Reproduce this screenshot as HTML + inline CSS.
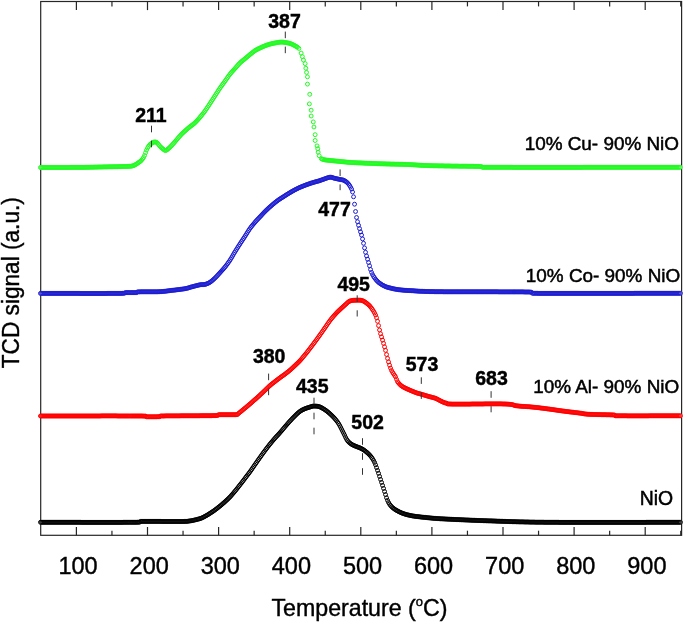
<!DOCTYPE html>
<html><head><meta charset="utf-8"><style>
html,body{margin:0;padding:0;background:#fff;overflow:hidden;}
svg{display:block;}
text{-webkit-font-smoothing:antialiased;}
text{font-family:"Liberation Sans",sans-serif;}
</style></head><body>
<svg width="685" height="622" viewBox="0 0 685 622" style="will-change:transform">
<rect width="685" height="622" fill="#fff"/>
<g stroke="#262626" stroke-width="1.2" fill="none">
<rect x="40.7" y="1.5" width="640.9" height="533.8"/>
<line x1="76.40" y1="535.3" x2="76.40" y2="527.0"/><line x1="76.40" y1="1.5" x2="76.40" y2="10.1"/><line x1="111.95" y1="535.3" x2="111.95" y2="530.7"/><line x1="111.95" y1="1.5" x2="111.95" y2="6.4"/><line x1="147.50" y1="535.3" x2="147.50" y2="527.0"/><line x1="147.50" y1="1.5" x2="147.50" y2="10.1"/><line x1="183.05" y1="535.3" x2="183.05" y2="530.7"/><line x1="183.05" y1="1.5" x2="183.05" y2="6.4"/><line x1="218.60" y1="535.3" x2="218.60" y2="527.0"/><line x1="218.60" y1="1.5" x2="218.60" y2="10.1"/><line x1="254.15" y1="535.3" x2="254.15" y2="530.7"/><line x1="254.15" y1="1.5" x2="254.15" y2="6.4"/><line x1="289.70" y1="535.3" x2="289.70" y2="527.0"/><line x1="289.70" y1="1.5" x2="289.70" y2="10.1"/><line x1="325.25" y1="535.3" x2="325.25" y2="530.7"/><line x1="325.25" y1="1.5" x2="325.25" y2="6.4"/><line x1="360.80" y1="535.3" x2="360.80" y2="527.0"/><line x1="360.80" y1="1.5" x2="360.80" y2="10.1"/><line x1="396.35" y1="535.3" x2="396.35" y2="530.7"/><line x1="396.35" y1="1.5" x2="396.35" y2="6.4"/><line x1="431.90" y1="535.3" x2="431.90" y2="527.0"/><line x1="431.90" y1="1.5" x2="431.90" y2="10.1"/><line x1="467.45" y1="535.3" x2="467.45" y2="530.7"/><line x1="467.45" y1="1.5" x2="467.45" y2="6.4"/><line x1="503.00" y1="535.3" x2="503.00" y2="527.0"/><line x1="503.00" y1="1.5" x2="503.00" y2="10.1"/><line x1="538.55" y1="535.3" x2="538.55" y2="530.7"/><line x1="538.55" y1="1.5" x2="538.55" y2="6.4"/><line x1="574.10" y1="535.3" x2="574.10" y2="527.0"/><line x1="574.10" y1="1.5" x2="574.10" y2="10.1"/><line x1="609.65" y1="535.3" x2="609.65" y2="530.7"/><line x1="609.65" y1="1.5" x2="609.65" y2="6.4"/><line x1="645.20" y1="535.3" x2="645.20" y2="527.0"/><line x1="645.20" y1="1.5" x2="645.20" y2="10.1"/><line x1="680.75" y1="535.3" x2="680.75" y2="530.7"/><line x1="680.75" y1="1.5" x2="680.75" y2="6.4"/>
</g>
<g fill="#fff">
<path d="M38.5,167.5a1.95,1.95 0 1 0 3.9,0a1.95,1.95 0 1 0 -3.9,0M39.5,167.5a1.95,1.95 0 1 0 3.9,0a1.95,1.95 0 1 0 -3.9,0M40.5,167.5a1.95,1.95 0 1 0 3.9,0a1.95,1.95 0 1 0 -3.9,0M41.5,167.5a1.95,1.95 0 1 0 3.9,0a1.95,1.95 0 1 0 -3.9,0M42.5,167.5a1.95,1.95 0 1 0 3.9,0a1.95,1.95 0 1 0 -3.9,0M43.5,167.5a1.95,1.95 0 1 0 3.9,0a1.95,1.95 0 1 0 -3.9,0M44.5,167.5a1.95,1.95 0 1 0 3.9,0a1.95,1.95 0 1 0 -3.9,0M45.5,167.5a1.95,1.95 0 1 0 3.9,0a1.95,1.95 0 1 0 -3.9,0M46.5,167.5a1.95,1.95 0 1 0 3.9,0a1.95,1.95 0 1 0 -3.9,0M47.5,167.5a1.95,1.95 0 1 0 3.9,0a1.95,1.95 0 1 0 -3.9,0M48.5,167.5a1.95,1.95 0 1 0 3.9,0a1.95,1.95 0 1 0 -3.9,0M49.5,167.5a1.95,1.95 0 1 0 3.9,0a1.95,1.95 0 1 0 -3.9,0M50.5,167.5a1.95,1.95 0 1 0 3.9,0a1.95,1.95 0 1 0 -3.9,0M51.5,167.5a1.95,1.95 0 1 0 3.9,0a1.95,1.95 0 1 0 -3.9,0M52.5,167.5a1.95,1.95 0 1 0 3.9,0a1.95,1.95 0 1 0 -3.9,0M53.5,167.5a1.95,1.95 0 1 0 3.9,0a1.95,1.95 0 1 0 -3.9,0M54.5,167.5a1.95,1.95 0 1 0 3.9,0a1.95,1.95 0 1 0 -3.9,0M55.5,167.5a1.95,1.95 0 1 0 3.9,0a1.95,1.95 0 1 0 -3.9,0M56.5,167.5a1.95,1.95 0 1 0 3.9,0a1.95,1.95 0 1 0 -3.9,0M57.5,167.5a1.95,1.95 0 1 0 3.9,0a1.95,1.95 0 1 0 -3.9,0M58.5,167.5a1.95,1.95 0 1 0 3.9,0a1.95,1.95 0 1 0 -3.9,0M59.5,167.5a1.95,1.95 0 1 0 3.9,0a1.95,1.95 0 1 0 -3.9,0M60.5,167.5a1.95,1.95 0 1 0 3.9,0a1.95,1.95 0 1 0 -3.9,0M61.5,167.5a1.95,1.95 0 1 0 3.9,0a1.95,1.95 0 1 0 -3.9,0M62.5,167.5a1.95,1.95 0 1 0 3.9,0a1.95,1.95 0 1 0 -3.9,0M63.5,167.5a1.95,1.95 0 1 0 3.9,0a1.95,1.95 0 1 0 -3.9,0M64.5,167.5a1.95,1.95 0 1 0 3.9,0a1.95,1.95 0 1 0 -3.9,0M65.5,167.5a1.95,1.95 0 1 0 3.9,0a1.95,1.95 0 1 0 -3.9,0M66.5,167.5a1.95,1.95 0 1 0 3.9,0a1.95,1.95 0 1 0 -3.9,0M67.5,167.5a1.95,1.95 0 1 0 3.9,0a1.95,1.95 0 1 0 -3.9,0M68.5,167.4a1.95,1.95 0 1 0 3.9,0a1.95,1.95 0 1 0 -3.9,0M69.5,167.4a1.95,1.95 0 1 0 3.9,0a1.95,1.95 0 1 0 -3.9,0M70.5,167.4a1.95,1.95 0 1 0 3.9,0a1.95,1.95 0 1 0 -3.9,0M71.5,167.4a1.95,1.95 0 1 0 3.9,0a1.95,1.95 0 1 0 -3.9,0M72.5,167.4a1.95,1.95 0 1 0 3.9,0a1.95,1.95 0 1 0 -3.9,0M73.5,167.4a1.95,1.95 0 1 0 3.9,0a1.95,1.95 0 1 0 -3.9,0M74.5,167.4a1.95,1.95 0 1 0 3.9,0a1.95,1.95 0 1 0 -3.9,0M75.5,167.4a1.95,1.95 0 1 0 3.9,0a1.95,1.95 0 1 0 -3.9,0M76.5,167.4a1.95,1.95 0 1 0 3.9,0a1.95,1.95 0 1 0 -3.9,0M77.5,167.4a1.95,1.95 0 1 0 3.9,0a1.95,1.95 0 1 0 -3.9,0M78.5,167.4a1.95,1.95 0 1 0 3.9,0a1.95,1.95 0 1 0 -3.9,0M79.5,167.4a1.95,1.95 0 1 0 3.9,0a1.95,1.95 0 1 0 -3.9,0M80.5,167.4a1.95,1.95 0 1 0 3.9,0a1.95,1.95 0 1 0 -3.9,0M81.5,167.4a1.95,1.95 0 1 0 3.9,0a1.95,1.95 0 1 0 -3.9,0M82.5,167.4a1.95,1.95 0 1 0 3.9,0a1.95,1.95 0 1 0 -3.9,0M83.5,167.3a1.95,1.95 0 1 0 3.9,0a1.95,1.95 0 1 0 -3.9,0M84.5,167.3a1.95,1.95 0 1 0 3.9,0a1.95,1.95 0 1 0 -3.9,0M85.5,167.3a1.95,1.95 0 1 0 3.9,0a1.95,1.95 0 1 0 -3.9,0M86.5,167.3a1.95,1.95 0 1 0 3.9,0a1.95,1.95 0 1 0 -3.9,0M87.5,167.3a1.95,1.95 0 1 0 3.9,0a1.95,1.95 0 1 0 -3.9,0M88.5,167.2a1.95,1.95 0 1 0 3.9,0a1.95,1.95 0 1 0 -3.9,0M89.5,167.2a1.95,1.95 0 1 0 3.9,0a1.95,1.95 0 1 0 -3.9,0M90.5,167.2a1.95,1.95 0 1 0 3.9,0a1.95,1.95 0 1 0 -3.9,0M91.5,167.2a1.95,1.95 0 1 0 3.9,0a1.95,1.95 0 1 0 -3.9,0M92.5,167.1a1.95,1.95 0 1 0 3.9,0a1.95,1.95 0 1 0 -3.9,0M93.5,167.1a1.95,1.95 0 1 0 3.9,0a1.95,1.95 0 1 0 -3.9,0M94.5,167.1a1.95,1.95 0 1 0 3.9,0a1.95,1.95 0 1 0 -3.9,0M95.5,167.1a1.95,1.95 0 1 0 3.9,0a1.95,1.95 0 1 0 -3.9,0M96.5,167.0a1.95,1.95 0 1 0 3.9,0a1.95,1.95 0 1 0 -3.9,0M97.5,167.0a1.95,1.95 0 1 0 3.9,0a1.95,1.95 0 1 0 -3.9,0M98.5,167.0a1.95,1.95 0 1 0 3.9,0a1.95,1.95 0 1 0 -3.9,0M99.5,167.0a1.95,1.95 0 1 0 3.9,0a1.95,1.95 0 1 0 -3.9,0M100.5,167.0a1.95,1.95 0 1 0 3.9,0a1.95,1.95 0 1 0 -3.9,0M101.5,166.9a1.95,1.95 0 1 0 3.9,0a1.95,1.95 0 1 0 -3.9,0M102.5,166.9a1.95,1.95 0 1 0 3.9,0a1.95,1.95 0 1 0 -3.9,0M103.5,166.9a1.95,1.95 0 1 0 3.9,0a1.95,1.95 0 1 0 -3.9,0M104.5,166.9a1.95,1.95 0 1 0 3.9,0a1.95,1.95 0 1 0 -3.9,0M105.5,166.9a1.95,1.95 0 1 0 3.9,0a1.95,1.95 0 1 0 -3.9,0M106.5,166.8a1.95,1.95 0 1 0 3.9,0a1.95,1.95 0 1 0 -3.9,0M107.5,166.8a1.95,1.95 0 1 0 3.9,0a1.95,1.95 0 1 0 -3.9,0M108.5,166.8a1.95,1.95 0 1 0 3.9,0a1.95,1.95 0 1 0 -3.9,0M109.5,166.8a1.95,1.95 0 1 0 3.9,0a1.95,1.95 0 1 0 -3.9,0M110.5,166.8a1.95,1.95 0 1 0 3.9,0a1.95,1.95 0 1 0 -3.9,0M111.5,166.7a1.95,1.95 0 1 0 3.9,0a1.95,1.95 0 1 0 -3.9,0M112.5,166.7a1.95,1.95 0 1 0 3.9,0a1.95,1.95 0 1 0 -3.9,0M113.5,166.7a1.95,1.95 0 1 0 3.9,0a1.95,1.95 0 1 0 -3.9,0M114.5,166.7a1.95,1.95 0 1 0 3.9,0a1.95,1.95 0 1 0 -3.9,0M115.5,166.7a1.95,1.95 0 1 0 3.9,0a1.95,1.95 0 1 0 -3.9,0M116.5,166.6a1.95,1.95 0 1 0 3.9,0a1.95,1.95 0 1 0 -3.9,0M117.5,166.6a1.95,1.95 0 1 0 3.9,0a1.95,1.95 0 1 0 -3.9,0M118.5,166.6a1.95,1.95 0 1 0 3.9,0a1.95,1.95 0 1 0 -3.9,0M119.5,166.6a1.95,1.95 0 1 0 3.9,0a1.95,1.95 0 1 0 -3.9,0M120.5,166.5a1.95,1.95 0 1 0 3.9,0a1.95,1.95 0 1 0 -3.9,0M121.5,166.5a1.95,1.95 0 1 0 3.9,0a1.95,1.95 0 1 0 -3.9,0M122.5,166.5a1.95,1.95 0 1 0 3.9,0a1.95,1.95 0 1 0 -3.9,0M123.5,166.5a1.95,1.95 0 1 0 3.9,0a1.95,1.95 0 1 0 -3.9,0M124.5,166.5a1.95,1.95 0 1 0 3.9,0a1.95,1.95 0 1 0 -3.9,0M125.5,166.4a1.95,1.95 0 1 0 3.9,0a1.95,1.95 0 1 0 -3.9,0M126.5,166.4a1.95,1.95 0 1 0 3.9,0a1.95,1.95 0 1 0 -3.9,0M127.5,166.3a1.95,1.95 0 1 0 3.9,0a1.95,1.95 0 1 0 -3.9,0M128.6,166.3a1.95,1.95 0 1 0 3.9,0a1.95,1.95 0 1 0 -3.9,0M129.6,166.1a1.95,1.95 0 1 0 3.9,0a1.95,1.95 0 1 0 -3.9,0M130.6,165.9a1.95,1.95 0 1 0 3.9,0a1.95,1.95 0 1 0 -3.9,0M131.6,165.6a1.95,1.95 0 1 0 3.9,0a1.95,1.95 0 1 0 -3.9,0M132.6,165.1a1.95,1.95 0 1 0 3.9,0a1.95,1.95 0 1 0 -3.9,0M133.6,164.6a1.95,1.95 0 1 0 3.9,0a1.95,1.95 0 1 0 -3.9,0M134.6,164.0a1.95,1.95 0 1 0 3.9,0a1.95,1.95 0 1 0 -3.9,0M135.6,163.3a1.95,1.95 0 1 0 3.9,0a1.95,1.95 0 1 0 -3.9,0M136.6,162.6a1.95,1.95 0 1 0 3.9,0a1.95,1.95 0 1 0 -3.9,0M137.6,161.9a1.95,1.95 0 1 0 3.9,0a1.95,1.95 0 1 0 -3.9,0M138.6,161.2a1.95,1.95 0 1 0 3.9,0a1.95,1.95 0 1 0 -3.9,0M139.6,160.2a1.95,1.95 0 1 0 3.9,0a1.95,1.95 0 1 0 -3.9,0M140.6,159.0a1.95,1.95 0 1 0 3.9,0a1.95,1.95 0 1 0 -3.9,0M141.6,157.5a1.95,1.95 0 1 0 3.9,0a1.95,1.95 0 1 0 -3.9,0M142.6,155.5a1.95,1.95 0 1 0 3.9,0a1.95,1.95 0 1 0 -3.9,0M143.6,152.7a1.95,1.95 0 1 0 3.9,0a1.95,1.95 0 1 0 -3.9,0M144.6,150.1a1.95,1.95 0 1 0 3.9,0a1.95,1.95 0 1 0 -3.9,0M145.6,147.9a1.95,1.95 0 1 0 3.9,0a1.95,1.95 0 1 0 -3.9,0M146.6,146.3a1.95,1.95 0 1 0 3.9,0a1.95,1.95 0 1 0 -3.9,0M147.6,145.0a1.95,1.95 0 1 0 3.9,0a1.95,1.95 0 1 0 -3.9,0M148.6,144.0a1.95,1.95 0 1 0 3.9,0a1.95,1.95 0 1 0 -3.9,0M149.6,143.3a1.95,1.95 0 1 0 3.9,0a1.95,1.95 0 1 0 -3.9,0M150.6,142.7a1.95,1.95 0 1 0 3.9,0a1.95,1.95 0 1 0 -3.9,0M151.6,142.2a1.95,1.95 0 1 0 3.9,0a1.95,1.95 0 1 0 -3.9,0M152.6,142.0a1.95,1.95 0 1 0 3.9,0a1.95,1.95 0 1 0 -3.9,0M153.6,142.0a1.95,1.95 0 1 0 3.9,0a1.95,1.95 0 1 0 -3.9,0M154.6,142.4a1.95,1.95 0 1 0 3.9,0a1.95,1.95 0 1 0 -3.9,0M155.6,143.2a1.95,1.95 0 1 0 3.9,0a1.95,1.95 0 1 0 -3.9,0M156.6,144.5a1.95,1.95 0 1 0 3.9,0a1.95,1.95 0 1 0 -3.9,0M157.6,145.8a1.95,1.95 0 1 0 3.9,0a1.95,1.95 0 1 0 -3.9,0M158.6,146.8a1.95,1.95 0 1 0 3.9,0a1.95,1.95 0 1 0 -3.9,0M159.6,147.8a1.95,1.95 0 1 0 3.9,0a1.95,1.95 0 1 0 -3.9,0M160.6,148.6a1.95,1.95 0 1 0 3.9,0a1.95,1.95 0 1 0 -3.9,0M161.6,149.4a1.95,1.95 0 1 0 3.9,0a1.95,1.95 0 1 0 -3.9,0M162.6,150.2a1.95,1.95 0 1 0 3.9,0a1.95,1.95 0 1 0 -3.9,0M163.6,150.5a1.95,1.95 0 1 0 3.9,0a1.95,1.95 0 1 0 -3.9,0M164.6,150.1a1.95,1.95 0 1 0 3.9,0a1.95,1.95 0 1 0 -3.9,0M165.6,149.4a1.95,1.95 0 1 0 3.9,0a1.95,1.95 0 1 0 -3.9,0M166.6,148.5a1.95,1.95 0 1 0 3.9,0a1.95,1.95 0 1 0 -3.9,0M167.6,147.6a1.95,1.95 0 1 0 3.9,0a1.95,1.95 0 1 0 -3.9,0M168.6,146.6a1.95,1.95 0 1 0 3.9,0a1.95,1.95 0 1 0 -3.9,0M169.6,145.6a1.95,1.95 0 1 0 3.9,0a1.95,1.95 0 1 0 -3.9,0M170.6,144.5a1.95,1.95 0 1 0 3.9,0a1.95,1.95 0 1 0 -3.9,0M171.6,143.4a1.95,1.95 0 1 0 3.9,0a1.95,1.95 0 1 0 -3.9,0M172.6,142.3a1.95,1.95 0 1 0 3.9,0a1.95,1.95 0 1 0 -3.9,0M173.6,141.1a1.95,1.95 0 1 0 3.9,0a1.95,1.95 0 1 0 -3.9,0M174.6,139.9a1.95,1.95 0 1 0 3.9,0a1.95,1.95 0 1 0 -3.9,0M175.6,138.7a1.95,1.95 0 1 0 3.9,0a1.95,1.95 0 1 0 -3.9,0M176.6,137.5a1.95,1.95 0 1 0 3.9,0a1.95,1.95 0 1 0 -3.9,0M177.6,136.4a1.95,1.95 0 1 0 3.9,0a1.95,1.95 0 1 0 -3.9,0M178.6,135.3a1.95,1.95 0 1 0 3.9,0a1.95,1.95 0 1 0 -3.9,0M179.6,134.2a1.95,1.95 0 1 0 3.9,0a1.95,1.95 0 1 0 -3.9,0M180.6,133.2a1.95,1.95 0 1 0 3.9,0a1.95,1.95 0 1 0 -3.9,0M181.6,132.3a1.95,1.95 0 1 0 3.9,0a1.95,1.95 0 1 0 -3.9,0M182.6,131.4a1.95,1.95 0 1 0 3.9,0a1.95,1.95 0 1 0 -3.9,0M183.6,130.5a1.95,1.95 0 1 0 3.9,0a1.95,1.95 0 1 0 -3.9,0M184.6,129.6a1.95,1.95 0 1 0 3.9,0a1.95,1.95 0 1 0 -3.9,0M185.6,128.7a1.95,1.95 0 1 0 3.9,0a1.95,1.95 0 1 0 -3.9,0M186.6,127.9a1.95,1.95 0 1 0 3.9,0a1.95,1.95 0 1 0 -3.9,0M187.6,127.1a1.95,1.95 0 1 0 3.9,0a1.95,1.95 0 1 0 -3.9,0M188.6,126.3a1.95,1.95 0 1 0 3.9,0a1.95,1.95 0 1 0 -3.9,0M189.6,125.5a1.95,1.95 0 1 0 3.9,0a1.95,1.95 0 1 0 -3.9,0M190.6,124.8a1.95,1.95 0 1 0 3.9,0a1.95,1.95 0 1 0 -3.9,0M191.6,124.0a1.95,1.95 0 1 0 3.9,0a1.95,1.95 0 1 0 -3.9,0M192.6,123.2a1.95,1.95 0 1 0 3.9,0a1.95,1.95 0 1 0 -3.9,0M193.6,122.2a1.95,1.95 0 1 0 3.9,0a1.95,1.95 0 1 0 -3.9,0M194.6,121.2a1.95,1.95 0 1 0 3.9,0a1.95,1.95 0 1 0 -3.9,0M195.6,120.1a1.95,1.95 0 1 0 3.9,0a1.95,1.95 0 1 0 -3.9,0M196.6,119.0a1.95,1.95 0 1 0 3.9,0a1.95,1.95 0 1 0 -3.9,0M197.6,117.8a1.95,1.95 0 1 0 3.9,0a1.95,1.95 0 1 0 -3.9,0M198.6,116.6a1.95,1.95 0 1 0 3.9,0a1.95,1.95 0 1 0 -3.9,0M199.6,115.4a1.95,1.95 0 1 0 3.9,0a1.95,1.95 0 1 0 -3.9,0M200.6,114.2a1.95,1.95 0 1 0 3.9,0a1.95,1.95 0 1 0 -3.9,0M201.6,112.9a1.95,1.95 0 1 0 3.9,0a1.95,1.95 0 1 0 -3.9,0M202.6,111.6a1.95,1.95 0 1 0 3.9,0a1.95,1.95 0 1 0 -3.9,0M203.6,110.2a1.95,1.95 0 1 0 3.9,0a1.95,1.95 0 1 0 -3.9,0M204.6,108.7a1.95,1.95 0 1 0 3.9,0a1.95,1.95 0 1 0 -3.9,0M205.6,107.2a1.95,1.95 0 1 0 3.9,0a1.95,1.95 0 1 0 -3.9,0M206.6,105.7a1.95,1.95 0 1 0 3.9,0a1.95,1.95 0 1 0 -3.9,0M207.6,104.2a1.95,1.95 0 1 0 3.9,0a1.95,1.95 0 1 0 -3.9,0M208.6,102.6a1.95,1.95 0 1 0 3.9,0a1.95,1.95 0 1 0 -3.9,0M209.6,101.1a1.95,1.95 0 1 0 3.9,0a1.95,1.95 0 1 0 -3.9,0M210.6,99.6a1.95,1.95 0 1 0 3.9,0a1.95,1.95 0 1 0 -3.9,0M211.6,98.0a1.95,1.95 0 1 0 3.9,0a1.95,1.95 0 1 0 -3.9,0M212.6,96.5a1.95,1.95 0 1 0 3.9,0a1.95,1.95 0 1 0 -3.9,0M213.6,94.9a1.95,1.95 0 1 0 3.9,0a1.95,1.95 0 1 0 -3.9,0M214.6,93.4a1.95,1.95 0 1 0 3.9,0a1.95,1.95 0 1 0 -3.9,0M215.6,91.8a1.95,1.95 0 1 0 3.9,0a1.95,1.95 0 1 0 -3.9,0M216.6,90.3a1.95,1.95 0 1 0 3.9,0a1.95,1.95 0 1 0 -3.9,0M217.6,88.7a1.95,1.95 0 1 0 3.9,0a1.95,1.95 0 1 0 -3.9,0M218.6,87.3a1.95,1.95 0 1 0 3.9,0a1.95,1.95 0 1 0 -3.9,0M219.6,85.9a1.95,1.95 0 1 0 3.9,0a1.95,1.95 0 1 0 -3.9,0M220.6,84.5a1.95,1.95 0 1 0 3.9,0a1.95,1.95 0 1 0 -3.9,0M221.6,83.2a1.95,1.95 0 1 0 3.9,0a1.95,1.95 0 1 0 -3.9,0M222.6,81.8a1.95,1.95 0 1 0 3.9,0a1.95,1.95 0 1 0 -3.9,0M223.6,80.4a1.95,1.95 0 1 0 3.9,0a1.95,1.95 0 1 0 -3.9,0M224.6,79.0a1.95,1.95 0 1 0 3.9,0a1.95,1.95 0 1 0 -3.9,0M225.6,77.5a1.95,1.95 0 1 0 3.9,0a1.95,1.95 0 1 0 -3.9,0M226.6,76.1a1.95,1.95 0 1 0 3.9,0a1.95,1.95 0 1 0 -3.9,0M227.6,74.7a1.95,1.95 0 1 0 3.9,0a1.95,1.95 0 1 0 -3.9,0M228.6,73.5a1.95,1.95 0 1 0 3.9,0a1.95,1.95 0 1 0 -3.9,0M229.6,72.3a1.95,1.95 0 1 0 3.9,0a1.95,1.95 0 1 0 -3.9,0M230.6,71.2a1.95,1.95 0 1 0 3.9,0a1.95,1.95 0 1 0 -3.9,0M231.6,70.1a1.95,1.95 0 1 0 3.9,0a1.95,1.95 0 1 0 -3.9,0M232.6,69.0a1.95,1.95 0 1 0 3.9,0a1.95,1.95 0 1 0 -3.9,0M233.6,67.8a1.95,1.95 0 1 0 3.9,0a1.95,1.95 0 1 0 -3.9,0M234.6,66.7a1.95,1.95 0 1 0 3.9,0a1.95,1.95 0 1 0 -3.9,0M235.6,65.6a1.95,1.95 0 1 0 3.9,0a1.95,1.95 0 1 0 -3.9,0M236.6,64.4a1.95,1.95 0 1 0 3.9,0a1.95,1.95 0 1 0 -3.9,0M237.6,63.4a1.95,1.95 0 1 0 3.9,0a1.95,1.95 0 1 0 -3.9,0M238.6,62.4a1.95,1.95 0 1 0 3.9,0a1.95,1.95 0 1 0 -3.9,0M239.6,61.5a1.95,1.95 0 1 0 3.9,0a1.95,1.95 0 1 0 -3.9,0M240.6,60.7a1.95,1.95 0 1 0 3.9,0a1.95,1.95 0 1 0 -3.9,0M241.6,59.9a1.95,1.95 0 1 0 3.9,0a1.95,1.95 0 1 0 -3.9,0M242.6,59.1a1.95,1.95 0 1 0 3.9,0a1.95,1.95 0 1 0 -3.9,0M243.6,58.3a1.95,1.95 0 1 0 3.9,0a1.95,1.95 0 1 0 -3.9,0M244.6,57.4a1.95,1.95 0 1 0 3.9,0a1.95,1.95 0 1 0 -3.9,0M245.6,56.6a1.95,1.95 0 1 0 3.9,0a1.95,1.95 0 1 0 -3.9,0M246.6,55.7a1.95,1.95 0 1 0 3.9,0a1.95,1.95 0 1 0 -3.9,0M247.6,54.9a1.95,1.95 0 1 0 3.9,0a1.95,1.95 0 1 0 -3.9,0M248.6,54.1a1.95,1.95 0 1 0 3.9,0a1.95,1.95 0 1 0 -3.9,0M249.6,53.3a1.95,1.95 0 1 0 3.9,0a1.95,1.95 0 1 0 -3.9,0M250.6,52.5a1.95,1.95 0 1 0 3.9,0a1.95,1.95 0 1 0 -3.9,0M251.6,51.7a1.95,1.95 0 1 0 3.9,0a1.95,1.95 0 1 0 -3.9,0M252.6,50.9a1.95,1.95 0 1 0 3.9,0a1.95,1.95 0 1 0 -3.9,0M253.6,50.3a1.95,1.95 0 1 0 3.9,0a1.95,1.95 0 1 0 -3.9,0M254.6,49.7a1.95,1.95 0 1 0 3.9,0a1.95,1.95 0 1 0 -3.9,0M255.6,49.2a1.95,1.95 0 1 0 3.9,0a1.95,1.95 0 1 0 -3.9,0M256.6,48.7a1.95,1.95 0 1 0 3.9,0a1.95,1.95 0 1 0 -3.9,0M257.6,48.2a1.95,1.95 0 1 0 3.9,0a1.95,1.95 0 1 0 -3.9,0M258.6,47.8a1.95,1.95 0 1 0 3.9,0a1.95,1.95 0 1 0 -3.9,0M259.6,47.3a1.95,1.95 0 1 0 3.9,0a1.95,1.95 0 1 0 -3.9,0M260.6,46.8a1.95,1.95 0 1 0 3.9,0a1.95,1.95 0 1 0 -3.9,0M261.6,46.4a1.95,1.95 0 1 0 3.9,0a1.95,1.95 0 1 0 -3.9,0M262.6,46.0a1.95,1.95 0 1 0 3.9,0a1.95,1.95 0 1 0 -3.9,0M263.6,45.6a1.95,1.95 0 1 0 3.9,0a1.95,1.95 0 1 0 -3.9,0M264.6,45.2a1.95,1.95 0 1 0 3.9,0a1.95,1.95 0 1 0 -3.9,0M265.6,44.9a1.95,1.95 0 1 0 3.9,0a1.95,1.95 0 1 0 -3.9,0M266.6,44.6a1.95,1.95 0 1 0 3.9,0a1.95,1.95 0 1 0 -3.9,0M267.6,44.2a1.95,1.95 0 1 0 3.9,0a1.95,1.95 0 1 0 -3.9,0M268.6,44.0a1.95,1.95 0 1 0 3.9,0a1.95,1.95 0 1 0 -3.9,0M269.6,43.7a1.95,1.95 0 1 0 3.9,0a1.95,1.95 0 1 0 -3.9,0M270.6,43.5a1.95,1.95 0 1 0 3.9,0a1.95,1.95 0 1 0 -3.9,0M271.6,43.3a1.95,1.95 0 1 0 3.9,0a1.95,1.95 0 1 0 -3.9,0M272.6,43.1a1.95,1.95 0 1 0 3.9,0a1.95,1.95 0 1 0 -3.9,0M273.6,42.9a1.95,1.95 0 1 0 3.9,0a1.95,1.95 0 1 0 -3.9,0M274.6,42.7a1.95,1.95 0 1 0 3.9,0a1.95,1.95 0 1 0 -3.9,0M275.6,42.5a1.95,1.95 0 1 0 3.9,0a1.95,1.95 0 1 0 -3.9,0M276.6,42.4a1.95,1.95 0 1 0 3.9,0a1.95,1.95 0 1 0 -3.9,0M277.6,42.2a1.95,1.95 0 1 0 3.9,0a1.95,1.95 0 1 0 -3.9,0M278.6,42.1a1.95,1.95 0 1 0 3.9,0a1.95,1.95 0 1 0 -3.9,0M279.6,42.1a1.95,1.95 0 1 0 3.9,0a1.95,1.95 0 1 0 -3.9,0M280.6,42.1a1.95,1.95 0 1 0 3.9,0a1.95,1.95 0 1 0 -3.9,0M281.6,42.2a1.95,1.95 0 1 0 3.9,0a1.95,1.95 0 1 0 -3.9,0M282.6,42.4a1.95,1.95 0 1 0 3.9,0a1.95,1.95 0 1 0 -3.9,0M283.6,42.5a1.95,1.95 0 1 0 3.9,0a1.95,1.95 0 1 0 -3.9,0M284.6,42.7a1.95,1.95 0 1 0 3.9,0a1.95,1.95 0 1 0 -3.9,0M285.6,42.9a1.95,1.95 0 1 0 3.9,0a1.95,1.95 0 1 0 -3.9,0M286.6,43.1a1.95,1.95 0 1 0 3.9,0a1.95,1.95 0 1 0 -3.9,0M287.6,43.3a1.95,1.95 0 1 0 3.9,0a1.95,1.95 0 1 0 -3.9,0M288.6,43.7a1.95,1.95 0 1 0 3.9,0a1.95,1.95 0 1 0 -3.9,0M289.6,44.0a1.95,1.95 0 1 0 3.9,0a1.95,1.95 0 1 0 -3.9,0M290.6,44.5a1.95,1.95 0 1 0 3.9,0a1.95,1.95 0 1 0 -3.9,0M291.6,45.0a1.95,1.95 0 1 0 3.9,0a1.95,1.95 0 1 0 -3.9,0M292.6,45.5a1.95,1.95 0 1 0 3.9,0a1.95,1.95 0 1 0 -3.9,0M293.6,46.1a1.95,1.95 0 1 0 3.9,0a1.95,1.95 0 1 0 -3.9,0M294.6,46.7a1.95,1.95 0 1 0 3.9,0a1.95,1.95 0 1 0 -3.9,0M295.6,47.2a1.95,1.95 0 1 0 3.9,0a1.95,1.95 0 1 0 -3.9,0M296.9,48.4a1.95,1.95 0 1 0 3.9,0a1.95,1.95 0 1 0 -3.9,0M299.2,53.1a1.95,1.95 0 1 0 3.9,0a1.95,1.95 0 1 0 -3.9,0M300.4,56.6a1.95,1.95 0 1 0 3.9,0a1.95,1.95 0 1 0 -3.9,0M301.5,60.1a1.95,1.95 0 1 0 3.9,0a1.95,1.95 0 1 0 -3.9,0M303.2,63.6a1.95,1.95 0 1 0 3.9,0a1.95,1.95 0 1 0 -3.9,0M303.9,68.2a1.95,1.95 0 1 0 3.9,0a1.95,1.95 0 1 0 -3.9,0M304.6,72.4a1.95,1.95 0 1 0 3.9,0a1.95,1.95 0 1 0 -3.9,0M305.5,76.8a1.95,1.95 0 1 0 3.9,0a1.95,1.95 0 1 0 -3.9,0M305.5,84.1a1.95,1.95 0 1 0 3.9,0a1.95,1.95 0 1 0 -3.9,0M307.8,94.3a1.95,1.95 0 1 0 3.9,0a1.95,1.95 0 1 0 -3.9,0M307.4,103.9a1.95,1.95 0 1 0 3.9,0a1.95,1.95 0 1 0 -3.9,0M309.2,110.2a1.95,1.95 0 1 0 3.9,0a1.95,1.95 0 1 0 -3.9,0M309.2,116.0a1.95,1.95 0 1 0 3.9,0a1.95,1.95 0 1 0 -3.9,0M311.3,121.9a1.95,1.95 0 1 0 3.9,0a1.95,1.95 0 1 0 -3.9,0M312.0,127.0a1.95,1.95 0 1 0 3.9,0a1.95,1.95 0 1 0 -3.9,0M313.2,134.7a1.95,1.95 0 1 0 3.9,0a1.95,1.95 0 1 0 -3.9,0M313.2,140.5a1.95,1.95 0 1 0 3.9,0a1.95,1.95 0 1 0 -3.9,0M315.1,145.9a1.95,1.95 0 1 0 3.9,0a1.95,1.95 0 1 0 -3.9,0M315.8,148.7a1.95,1.95 0 1 0 3.9,0a1.95,1.95 0 1 0 -3.9,0M316.2,152.2a1.95,1.95 0 1 0 3.9,0a1.95,1.95 0 1 0 -3.9,0M317.2,155.7a1.95,1.95 0 1 0 3.9,0a1.95,1.95 0 1 0 -3.9,0M319.4,158.7a1.95,1.95 0 1 0 3.9,0a1.95,1.95 0 1 0 -3.9,0M320.4,159.2a1.95,1.95 0 1 0 3.9,0a1.95,1.95 0 1 0 -3.9,0M321.4,159.5a1.95,1.95 0 1 0 3.9,0a1.95,1.95 0 1 0 -3.9,0M322.4,159.8a1.95,1.95 0 1 0 3.9,0a1.95,1.95 0 1 0 -3.9,0M323.4,159.9a1.95,1.95 0 1 0 3.9,0a1.95,1.95 0 1 0 -3.9,0M324.4,160.1a1.95,1.95 0 1 0 3.9,0a1.95,1.95 0 1 0 -3.9,0M325.4,160.2a1.95,1.95 0 1 0 3.9,0a1.95,1.95 0 1 0 -3.9,0M326.4,160.3a1.95,1.95 0 1 0 3.9,0a1.95,1.95 0 1 0 -3.9,0M327.4,160.4a1.95,1.95 0 1 0 3.9,0a1.95,1.95 0 1 0 -3.9,0M328.4,160.5a1.95,1.95 0 1 0 3.9,0a1.95,1.95 0 1 0 -3.9,0M329.4,160.6a1.95,1.95 0 1 0 3.9,0a1.95,1.95 0 1 0 -3.9,0M330.4,160.7a1.95,1.95 0 1 0 3.9,0a1.95,1.95 0 1 0 -3.9,0M331.4,160.8a1.95,1.95 0 1 0 3.9,0a1.95,1.95 0 1 0 -3.9,0M332.4,160.9a1.95,1.95 0 1 0 3.9,0a1.95,1.95 0 1 0 -3.9,0M333.4,161.0a1.95,1.95 0 1 0 3.9,0a1.95,1.95 0 1 0 -3.9,0M334.4,161.1a1.95,1.95 0 1 0 3.9,0a1.95,1.95 0 1 0 -3.9,0M335.4,161.2a1.95,1.95 0 1 0 3.9,0a1.95,1.95 0 1 0 -3.9,0M336.4,161.3a1.95,1.95 0 1 0 3.9,0a1.95,1.95 0 1 0 -3.9,0M337.4,161.4a1.95,1.95 0 1 0 3.9,0a1.95,1.95 0 1 0 -3.9,0M338.4,161.5a1.95,1.95 0 1 0 3.9,0a1.95,1.95 0 1 0 -3.9,0M339.4,161.6a1.95,1.95 0 1 0 3.9,0a1.95,1.95 0 1 0 -3.9,0M340.4,161.7a1.95,1.95 0 1 0 3.9,0a1.95,1.95 0 1 0 -3.9,0M341.4,161.8a1.95,1.95 0 1 0 3.9,0a1.95,1.95 0 1 0 -3.9,0M342.4,161.9a1.95,1.95 0 1 0 3.9,0a1.95,1.95 0 1 0 -3.9,0M343.4,162.0a1.95,1.95 0 1 0 3.9,0a1.95,1.95 0 1 0 -3.9,0M344.4,162.1a1.95,1.95 0 1 0 3.9,0a1.95,1.95 0 1 0 -3.9,0M345.4,162.2a1.95,1.95 0 1 0 3.9,0a1.95,1.95 0 1 0 -3.9,0M346.4,162.3a1.95,1.95 0 1 0 3.9,0a1.95,1.95 0 1 0 -3.9,0M347.4,162.4a1.95,1.95 0 1 0 3.9,0a1.95,1.95 0 1 0 -3.9,0M348.4,162.4a1.95,1.95 0 1 0 3.9,0a1.95,1.95 0 1 0 -3.9,0M349.4,162.5a1.95,1.95 0 1 0 3.9,0a1.95,1.95 0 1 0 -3.9,0M350.4,162.6a1.95,1.95 0 1 0 3.9,0a1.95,1.95 0 1 0 -3.9,0M351.4,162.6a1.95,1.95 0 1 0 3.9,0a1.95,1.95 0 1 0 -3.9,0M352.4,162.7a1.95,1.95 0 1 0 3.9,0a1.95,1.95 0 1 0 -3.9,0M353.4,162.7a1.95,1.95 0 1 0 3.9,0a1.95,1.95 0 1 0 -3.9,0M354.4,162.8a1.95,1.95 0 1 0 3.9,0a1.95,1.95 0 1 0 -3.9,0M355.4,162.8a1.95,1.95 0 1 0 3.9,0a1.95,1.95 0 1 0 -3.9,0M356.4,162.9a1.95,1.95 0 1 0 3.9,0a1.95,1.95 0 1 0 -3.9,0M357.4,162.9a1.95,1.95 0 1 0 3.9,0a1.95,1.95 0 1 0 -3.9,0M358.4,162.9a1.95,1.95 0 1 0 3.9,0a1.95,1.95 0 1 0 -3.9,0M359.4,163.0a1.95,1.95 0 1 0 3.9,0a1.95,1.95 0 1 0 -3.9,0M360.4,163.0a1.95,1.95 0 1 0 3.9,0a1.95,1.95 0 1 0 -3.9,0M361.4,163.1a1.95,1.95 0 1 0 3.9,0a1.95,1.95 0 1 0 -3.9,0M362.4,163.1a1.95,1.95 0 1 0 3.9,0a1.95,1.95 0 1 0 -3.9,0M363.4,163.2a1.95,1.95 0 1 0 3.9,0a1.95,1.95 0 1 0 -3.9,0M364.4,163.2a1.95,1.95 0 1 0 3.9,0a1.95,1.95 0 1 0 -3.9,0M365.4,163.3a1.95,1.95 0 1 0 3.9,0a1.95,1.95 0 1 0 -3.9,0M366.4,163.3a1.95,1.95 0 1 0 3.9,0a1.95,1.95 0 1 0 -3.9,0M367.4,163.3a1.95,1.95 0 1 0 3.9,0a1.95,1.95 0 1 0 -3.9,0M368.4,163.4a1.95,1.95 0 1 0 3.9,0a1.95,1.95 0 1 0 -3.9,0M369.4,163.4a1.95,1.95 0 1 0 3.9,0a1.95,1.95 0 1 0 -3.9,0M370.4,163.5a1.95,1.95 0 1 0 3.9,0a1.95,1.95 0 1 0 -3.9,0M371.4,163.5a1.95,1.95 0 1 0 3.9,0a1.95,1.95 0 1 0 -3.9,0M372.4,163.5a1.95,1.95 0 1 0 3.9,0a1.95,1.95 0 1 0 -3.9,0M373.4,163.6a1.95,1.95 0 1 0 3.9,0a1.95,1.95 0 1 0 -3.9,0M374.4,163.6a1.95,1.95 0 1 0 3.9,0a1.95,1.95 0 1 0 -3.9,0M375.4,163.7a1.95,1.95 0 1 0 3.9,0a1.95,1.95 0 1 0 -3.9,0M376.4,163.7a1.95,1.95 0 1 0 3.9,0a1.95,1.95 0 1 0 -3.9,0M377.4,163.7a1.95,1.95 0 1 0 3.9,0a1.95,1.95 0 1 0 -3.9,0M378.4,163.8a1.95,1.95 0 1 0 3.9,0a1.95,1.95 0 1 0 -3.9,0M379.4,163.8a1.95,1.95 0 1 0 3.9,0a1.95,1.95 0 1 0 -3.9,0M380.4,163.8a1.95,1.95 0 1 0 3.9,0a1.95,1.95 0 1 0 -3.9,0M381.4,163.9a1.95,1.95 0 1 0 3.9,0a1.95,1.95 0 1 0 -3.9,0M382.4,163.9a1.95,1.95 0 1 0 3.9,0a1.95,1.95 0 1 0 -3.9,0M383.4,163.9a1.95,1.95 0 1 0 3.9,0a1.95,1.95 0 1 0 -3.9,0M384.4,164.0a1.95,1.95 0 1 0 3.9,0a1.95,1.95 0 1 0 -3.9,0M385.4,164.0a1.95,1.95 0 1 0 3.9,0a1.95,1.95 0 1 0 -3.9,0M386.4,164.0a1.95,1.95 0 1 0 3.9,0a1.95,1.95 0 1 0 -3.9,0M387.4,164.0a1.95,1.95 0 1 0 3.9,0a1.95,1.95 0 1 0 -3.9,0M388.4,164.1a1.95,1.95 0 1 0 3.9,0a1.95,1.95 0 1 0 -3.9,0M389.4,164.1a1.95,1.95 0 1 0 3.9,0a1.95,1.95 0 1 0 -3.9,0M390.4,164.1a1.95,1.95 0 1 0 3.9,0a1.95,1.95 0 1 0 -3.9,0M391.4,164.1a1.95,1.95 0 1 0 3.9,0a1.95,1.95 0 1 0 -3.9,0M392.4,164.1a1.95,1.95 0 1 0 3.9,0a1.95,1.95 0 1 0 -3.9,0M393.4,164.2a1.95,1.95 0 1 0 3.9,0a1.95,1.95 0 1 0 -3.9,0M394.4,164.2a1.95,1.95 0 1 0 3.9,0a1.95,1.95 0 1 0 -3.9,0M395.4,164.2a1.95,1.95 0 1 0 3.9,0a1.95,1.95 0 1 0 -3.9,0M396.4,164.2a1.95,1.95 0 1 0 3.9,0a1.95,1.95 0 1 0 -3.9,0M397.4,164.3a1.95,1.95 0 1 0 3.9,0a1.95,1.95 0 1 0 -3.9,0M398.4,164.3a1.95,1.95 0 1 0 3.9,0a1.95,1.95 0 1 0 -3.9,0M399.4,164.3a1.95,1.95 0 1 0 3.9,0a1.95,1.95 0 1 0 -3.9,0M400.4,164.3a1.95,1.95 0 1 0 3.9,0a1.95,1.95 0 1 0 -3.9,0M401.4,164.4a1.95,1.95 0 1 0 3.9,0a1.95,1.95 0 1 0 -3.9,0M402.4,164.4a1.95,1.95 0 1 0 3.9,0a1.95,1.95 0 1 0 -3.9,0M403.4,164.4a1.95,1.95 0 1 0 3.9,0a1.95,1.95 0 1 0 -3.9,0M404.4,164.5a1.95,1.95 0 1 0 3.9,0a1.95,1.95 0 1 0 -3.9,0M405.4,164.5a1.95,1.95 0 1 0 3.9,0a1.95,1.95 0 1 0 -3.9,0M406.4,164.5a1.95,1.95 0 1 0 3.9,0a1.95,1.95 0 1 0 -3.9,0M407.4,164.6a1.95,1.95 0 1 0 3.9,0a1.95,1.95 0 1 0 -3.9,0M408.4,164.6a1.95,1.95 0 1 0 3.9,0a1.95,1.95 0 1 0 -3.9,0M409.4,164.7a1.95,1.95 0 1 0 3.9,0a1.95,1.95 0 1 0 -3.9,0M410.4,164.7a1.95,1.95 0 1 0 3.9,0a1.95,1.95 0 1 0 -3.9,0M411.4,164.8a1.95,1.95 0 1 0 3.9,0a1.95,1.95 0 1 0 -3.9,0M412.4,164.9a1.95,1.95 0 1 0 3.9,0a1.95,1.95 0 1 0 -3.9,0M413.4,164.9a1.95,1.95 0 1 0 3.9,0a1.95,1.95 0 1 0 -3.9,0M414.4,165.0a1.95,1.95 0 1 0 3.9,0a1.95,1.95 0 1 0 -3.9,0M415.4,165.1a1.95,1.95 0 1 0 3.9,0a1.95,1.95 0 1 0 -3.9,0M416.4,165.1a1.95,1.95 0 1 0 3.9,0a1.95,1.95 0 1 0 -3.9,0M417.4,165.2a1.95,1.95 0 1 0 3.9,0a1.95,1.95 0 1 0 -3.9,0M418.4,165.3a1.95,1.95 0 1 0 3.9,0a1.95,1.95 0 1 0 -3.9,0M419.4,165.3a1.95,1.95 0 1 0 3.9,0a1.95,1.95 0 1 0 -3.9,0M420.4,165.4a1.95,1.95 0 1 0 3.9,0a1.95,1.95 0 1 0 -3.9,0M421.4,165.4a1.95,1.95 0 1 0 3.9,0a1.95,1.95 0 1 0 -3.9,0M422.4,165.5a1.95,1.95 0 1 0 3.9,0a1.95,1.95 0 1 0 -3.9,0M423.4,165.5a1.95,1.95 0 1 0 3.9,0a1.95,1.95 0 1 0 -3.9,0M424.4,165.5a1.95,1.95 0 1 0 3.9,0a1.95,1.95 0 1 0 -3.9,0M425.4,165.6a1.95,1.95 0 1 0 3.9,0a1.95,1.95 0 1 0 -3.9,0M426.4,165.6a1.95,1.95 0 1 0 3.9,0a1.95,1.95 0 1 0 -3.9,0M427.4,165.6a1.95,1.95 0 1 0 3.9,0a1.95,1.95 0 1 0 -3.9,0M428.4,165.7a1.95,1.95 0 1 0 3.9,0a1.95,1.95 0 1 0 -3.9,0M429.4,165.7a1.95,1.95 0 1 0 3.9,0a1.95,1.95 0 1 0 -3.9,0M430.4,165.7a1.95,1.95 0 1 0 3.9,0a1.95,1.95 0 1 0 -3.9,0M431.4,165.8a1.95,1.95 0 1 0 3.9,0a1.95,1.95 0 1 0 -3.9,0M432.4,165.8a1.95,1.95 0 1 0 3.9,0a1.95,1.95 0 1 0 -3.9,0M433.4,165.8a1.95,1.95 0 1 0 3.9,0a1.95,1.95 0 1 0 -3.9,0M434.4,165.8a1.95,1.95 0 1 0 3.9,0a1.95,1.95 0 1 0 -3.9,0M435.4,165.8a1.95,1.95 0 1 0 3.9,0a1.95,1.95 0 1 0 -3.9,0M436.4,165.9a1.95,1.95 0 1 0 3.9,0a1.95,1.95 0 1 0 -3.9,0M437.4,165.9a1.95,1.95 0 1 0 3.9,0a1.95,1.95 0 1 0 -3.9,0M438.4,165.9a1.95,1.95 0 1 0 3.9,0a1.95,1.95 0 1 0 -3.9,0M439.4,165.9a1.95,1.95 0 1 0 3.9,0a1.95,1.95 0 1 0 -3.9,0M440.4,165.9a1.95,1.95 0 1 0 3.9,0a1.95,1.95 0 1 0 -3.9,0M441.4,165.9a1.95,1.95 0 1 0 3.9,0a1.95,1.95 0 1 0 -3.9,0M442.4,166.0a1.95,1.95 0 1 0 3.9,0a1.95,1.95 0 1 0 -3.9,0M443.4,166.0a1.95,1.95 0 1 0 3.9,0a1.95,1.95 0 1 0 -3.9,0M444.4,166.0a1.95,1.95 0 1 0 3.9,0a1.95,1.95 0 1 0 -3.9,0M445.4,166.0a1.95,1.95 0 1 0 3.9,0a1.95,1.95 0 1 0 -3.9,0M446.4,166.0a1.95,1.95 0 1 0 3.9,0a1.95,1.95 0 1 0 -3.9,0M447.4,166.0a1.95,1.95 0 1 0 3.9,0a1.95,1.95 0 1 0 -3.9,0M448.4,166.0a1.95,1.95 0 1 0 3.9,0a1.95,1.95 0 1 0 -3.9,0M449.4,166.1a1.95,1.95 0 1 0 3.9,0a1.95,1.95 0 1 0 -3.9,0M450.4,166.1a1.95,1.95 0 1 0 3.9,0a1.95,1.95 0 1 0 -3.9,0M451.4,166.1a1.95,1.95 0 1 0 3.9,0a1.95,1.95 0 1 0 -3.9,0M452.4,166.1a1.95,1.95 0 1 0 3.9,0a1.95,1.95 0 1 0 -3.9,0M453.4,166.1a1.95,1.95 0 1 0 3.9,0a1.95,1.95 0 1 0 -3.9,0M454.4,166.1a1.95,1.95 0 1 0 3.9,0a1.95,1.95 0 1 0 -3.9,0M455.4,166.1a1.95,1.95 0 1 0 3.9,0a1.95,1.95 0 1 0 -3.9,0M456.4,166.1a1.95,1.95 0 1 0 3.9,0a1.95,1.95 0 1 0 -3.9,0M457.4,166.2a1.95,1.95 0 1 0 3.9,0a1.95,1.95 0 1 0 -3.9,0M458.4,166.2a1.95,1.95 0 1 0 3.9,0a1.95,1.95 0 1 0 -3.9,0M459.4,166.2a1.95,1.95 0 1 0 3.9,0a1.95,1.95 0 1 0 -3.9,0M460.4,166.2a1.95,1.95 0 1 0 3.9,0a1.95,1.95 0 1 0 -3.9,0M461.4,166.2a1.95,1.95 0 1 0 3.9,0a1.95,1.95 0 1 0 -3.9,0M462.4,166.2a1.95,1.95 0 1 0 3.9,0a1.95,1.95 0 1 0 -3.9,0M463.4,166.2a1.95,1.95 0 1 0 3.9,0a1.95,1.95 0 1 0 -3.9,0M464.4,166.2a1.95,1.95 0 1 0 3.9,0a1.95,1.95 0 1 0 -3.9,0M465.4,166.3a1.95,1.95 0 1 0 3.9,0a1.95,1.95 0 1 0 -3.9,0M466.4,166.3a1.95,1.95 0 1 0 3.9,0a1.95,1.95 0 1 0 -3.9,0M467.4,166.3a1.95,1.95 0 1 0 3.9,0a1.95,1.95 0 1 0 -3.9,0M468.4,166.3a1.95,1.95 0 1 0 3.9,0a1.95,1.95 0 1 0 -3.9,0M469.4,166.3a1.95,1.95 0 1 0 3.9,0a1.95,1.95 0 1 0 -3.9,0M470.4,166.3a1.95,1.95 0 1 0 3.9,0a1.95,1.95 0 1 0 -3.9,0M471.4,166.3a1.95,1.95 0 1 0 3.9,0a1.95,1.95 0 1 0 -3.9,0M472.4,166.4a1.95,1.95 0 1 0 3.9,0a1.95,1.95 0 1 0 -3.9,0M473.4,166.4a1.95,1.95 0 1 0 3.9,0a1.95,1.95 0 1 0 -3.9,0M474.4,166.4a1.95,1.95 0 1 0 3.9,0a1.95,1.95 0 1 0 -3.9,0M475.4,166.4a1.95,1.95 0 1 0 3.9,0a1.95,1.95 0 1 0 -3.9,0M476.4,166.4a1.95,1.95 0 1 0 3.9,0a1.95,1.95 0 1 0 -3.9,0M477.4,166.5a1.95,1.95 0 1 0 3.9,0a1.95,1.95 0 1 0 -3.9,0M478.4,166.5a1.95,1.95 0 1 0 3.9,0a1.95,1.95 0 1 0 -3.9,0M479.4,166.5a1.95,1.95 0 1 0 3.9,0a1.95,1.95 0 1 0 -3.9,0M480.4,167.3a1.95,1.95 0 1 0 3.9,0a1.95,1.95 0 1 0 -3.9,0M481.4,167.3a1.95,1.95 0 1 0 3.9,0a1.95,1.95 0 1 0 -3.9,0M482.4,167.3a1.95,1.95 0 1 0 3.9,0a1.95,1.95 0 1 0 -3.9,0M483.4,167.3a1.95,1.95 0 1 0 3.9,0a1.95,1.95 0 1 0 -3.9,0M484.4,167.3a1.95,1.95 0 1 0 3.9,0a1.95,1.95 0 1 0 -3.9,0M485.4,167.3a1.95,1.95 0 1 0 3.9,0a1.95,1.95 0 1 0 -3.9,0M486.4,167.3a1.95,1.95 0 1 0 3.9,0a1.95,1.95 0 1 0 -3.9,0M487.4,167.3a1.95,1.95 0 1 0 3.9,0a1.95,1.95 0 1 0 -3.9,0M488.4,167.3a1.95,1.95 0 1 0 3.9,0a1.95,1.95 0 1 0 -3.9,0M489.4,167.3a1.95,1.95 0 1 0 3.9,0a1.95,1.95 0 1 0 -3.9,0M490.4,167.3a1.95,1.95 0 1 0 3.9,0a1.95,1.95 0 1 0 -3.9,0M491.4,167.3a1.95,1.95 0 1 0 3.9,0a1.95,1.95 0 1 0 -3.9,0M492.4,167.3a1.95,1.95 0 1 0 3.9,0a1.95,1.95 0 1 0 -3.9,0M493.4,167.3a1.95,1.95 0 1 0 3.9,0a1.95,1.95 0 1 0 -3.9,0M494.4,167.3a1.95,1.95 0 1 0 3.9,0a1.95,1.95 0 1 0 -3.9,0M495.4,167.3a1.95,1.95 0 1 0 3.9,0a1.95,1.95 0 1 0 -3.9,0M496.4,167.3a1.95,1.95 0 1 0 3.9,0a1.95,1.95 0 1 0 -3.9,0M497.4,167.3a1.95,1.95 0 1 0 3.9,0a1.95,1.95 0 1 0 -3.9,0M498.4,167.3a1.95,1.95 0 1 0 3.9,0a1.95,1.95 0 1 0 -3.9,0M499.4,167.3a1.95,1.95 0 1 0 3.9,0a1.95,1.95 0 1 0 -3.9,0M500.4,167.3a1.95,1.95 0 1 0 3.9,0a1.95,1.95 0 1 0 -3.9,0M501.4,167.3a1.95,1.95 0 1 0 3.9,0a1.95,1.95 0 1 0 -3.9,0M502.4,167.3a1.95,1.95 0 1 0 3.9,0a1.95,1.95 0 1 0 -3.9,0M503.4,167.3a1.95,1.95 0 1 0 3.9,0a1.95,1.95 0 1 0 -3.9,0M504.4,167.3a1.95,1.95 0 1 0 3.9,0a1.95,1.95 0 1 0 -3.9,0M505.4,167.3a1.95,1.95 0 1 0 3.9,0a1.95,1.95 0 1 0 -3.9,0M506.4,167.3a1.95,1.95 0 1 0 3.9,0a1.95,1.95 0 1 0 -3.9,0M507.4,167.3a1.95,1.95 0 1 0 3.9,0a1.95,1.95 0 1 0 -3.9,0M508.4,167.3a1.95,1.95 0 1 0 3.9,0a1.95,1.95 0 1 0 -3.9,0M509.4,167.3a1.95,1.95 0 1 0 3.9,0a1.95,1.95 0 1 0 -3.9,0M510.3,167.3a1.95,1.95 0 1 0 3.9,0a1.95,1.95 0 1 0 -3.9,0M511.3,167.4a1.95,1.95 0 1 0 3.9,0a1.95,1.95 0 1 0 -3.9,0M512.3,167.4a1.95,1.95 0 1 0 3.9,0a1.95,1.95 0 1 0 -3.9,0M513.3,167.4a1.95,1.95 0 1 0 3.9,0a1.95,1.95 0 1 0 -3.9,0M514.3,167.4a1.95,1.95 0 1 0 3.9,0a1.95,1.95 0 1 0 -3.9,0M515.3,167.4a1.95,1.95 0 1 0 3.9,0a1.95,1.95 0 1 0 -3.9,0M516.3,167.4a1.95,1.95 0 1 0 3.9,0a1.95,1.95 0 1 0 -3.9,0M517.3,167.4a1.95,1.95 0 1 0 3.9,0a1.95,1.95 0 1 0 -3.9,0M518.3,167.4a1.95,1.95 0 1 0 3.9,0a1.95,1.95 0 1 0 -3.9,0M519.3,167.4a1.95,1.95 0 1 0 3.9,0a1.95,1.95 0 1 0 -3.9,0M520.3,167.4a1.95,1.95 0 1 0 3.9,0a1.95,1.95 0 1 0 -3.9,0M521.3,167.4a1.95,1.95 0 1 0 3.9,0a1.95,1.95 0 1 0 -3.9,0M522.3,167.4a1.95,1.95 0 1 0 3.9,0a1.95,1.95 0 1 0 -3.9,0M523.3,167.4a1.95,1.95 0 1 0 3.9,0a1.95,1.95 0 1 0 -3.9,0M524.3,167.4a1.95,1.95 0 1 0 3.9,0a1.95,1.95 0 1 0 -3.9,0M525.3,167.4a1.95,1.95 0 1 0 3.9,0a1.95,1.95 0 1 0 -3.9,0M526.3,167.4a1.95,1.95 0 1 0 3.9,0a1.95,1.95 0 1 0 -3.9,0M527.3,167.4a1.95,1.95 0 1 0 3.9,0a1.95,1.95 0 1 0 -3.9,0M528.3,167.4a1.95,1.95 0 1 0 3.9,0a1.95,1.95 0 1 0 -3.9,0M529.3,167.4a1.95,1.95 0 1 0 3.9,0a1.95,1.95 0 1 0 -3.9,0M530.3,167.4a1.95,1.95 0 1 0 3.9,0a1.95,1.95 0 1 0 -3.9,0M531.3,167.4a1.95,1.95 0 1 0 3.9,0a1.95,1.95 0 1 0 -3.9,0M532.3,167.4a1.95,1.95 0 1 0 3.9,0a1.95,1.95 0 1 0 -3.9,0M533.3,167.4a1.95,1.95 0 1 0 3.9,0a1.95,1.95 0 1 0 -3.9,0M534.3,167.4a1.95,1.95 0 1 0 3.9,0a1.95,1.95 0 1 0 -3.9,0M535.3,167.4a1.95,1.95 0 1 0 3.9,0a1.95,1.95 0 1 0 -3.9,0M536.3,167.4a1.95,1.95 0 1 0 3.9,0a1.95,1.95 0 1 0 -3.9,0M537.3,167.4a1.95,1.95 0 1 0 3.9,0a1.95,1.95 0 1 0 -3.9,0M538.3,167.4a1.95,1.95 0 1 0 3.9,0a1.95,1.95 0 1 0 -3.9,0M539.3,167.4a1.95,1.95 0 1 0 3.9,0a1.95,1.95 0 1 0 -3.9,0M540.3,167.4a1.95,1.95 0 1 0 3.9,0a1.95,1.95 0 1 0 -3.9,0M541.3,167.4a1.95,1.95 0 1 0 3.9,0a1.95,1.95 0 1 0 -3.9,0M542.3,167.4a1.95,1.95 0 1 0 3.9,0a1.95,1.95 0 1 0 -3.9,0M543.3,167.4a1.95,1.95 0 1 0 3.9,0a1.95,1.95 0 1 0 -3.9,0M544.3,167.4a1.95,1.95 0 1 0 3.9,0a1.95,1.95 0 1 0 -3.9,0M545.3,167.4a1.95,1.95 0 1 0 3.9,0a1.95,1.95 0 1 0 -3.9,0M546.3,167.4a1.95,1.95 0 1 0 3.9,0a1.95,1.95 0 1 0 -3.9,0M547.3,167.4a1.95,1.95 0 1 0 3.9,0a1.95,1.95 0 1 0 -3.9,0M548.3,167.4a1.95,1.95 0 1 0 3.9,0a1.95,1.95 0 1 0 -3.9,0M549.3,167.4a1.95,1.95 0 1 0 3.9,0a1.95,1.95 0 1 0 -3.9,0M550.3,167.4a1.95,1.95 0 1 0 3.9,0a1.95,1.95 0 1 0 -3.9,0M551.3,167.4a1.95,1.95 0 1 0 3.9,0a1.95,1.95 0 1 0 -3.9,0M552.3,167.4a1.95,1.95 0 1 0 3.9,0a1.95,1.95 0 1 0 -3.9,0M553.3,167.4a1.95,1.95 0 1 0 3.9,0a1.95,1.95 0 1 0 -3.9,0M554.3,167.4a1.95,1.95 0 1 0 3.9,0a1.95,1.95 0 1 0 -3.9,0M555.3,167.4a1.95,1.95 0 1 0 3.9,0a1.95,1.95 0 1 0 -3.9,0M556.3,167.4a1.95,1.95 0 1 0 3.9,0a1.95,1.95 0 1 0 -3.9,0M557.3,167.4a1.95,1.95 0 1 0 3.9,0a1.95,1.95 0 1 0 -3.9,0M558.3,167.4a1.95,1.95 0 1 0 3.9,0a1.95,1.95 0 1 0 -3.9,0M559.3,167.4a1.95,1.95 0 1 0 3.9,0a1.95,1.95 0 1 0 -3.9,0M560.3,167.4a1.95,1.95 0 1 0 3.9,0a1.95,1.95 0 1 0 -3.9,0M561.3,167.4a1.95,1.95 0 1 0 3.9,0a1.95,1.95 0 1 0 -3.9,0M562.3,167.4a1.95,1.95 0 1 0 3.9,0a1.95,1.95 0 1 0 -3.9,0M563.3,167.4a1.95,1.95 0 1 0 3.9,0a1.95,1.95 0 1 0 -3.9,0M564.3,167.4a1.95,1.95 0 1 0 3.9,0a1.95,1.95 0 1 0 -3.9,0M565.3,167.4a1.95,1.95 0 1 0 3.9,0a1.95,1.95 0 1 0 -3.9,0M566.3,167.4a1.95,1.95 0 1 0 3.9,0a1.95,1.95 0 1 0 -3.9,0M567.3,167.4a1.95,1.95 0 1 0 3.9,0a1.95,1.95 0 1 0 -3.9,0M568.3,167.4a1.95,1.95 0 1 0 3.9,0a1.95,1.95 0 1 0 -3.9,0M569.3,167.4a1.95,1.95 0 1 0 3.9,0a1.95,1.95 0 1 0 -3.9,0M570.3,167.4a1.95,1.95 0 1 0 3.9,0a1.95,1.95 0 1 0 -3.9,0M571.3,167.4a1.95,1.95 0 1 0 3.9,0a1.95,1.95 0 1 0 -3.9,0M572.3,167.4a1.95,1.95 0 1 0 3.9,0a1.95,1.95 0 1 0 -3.9,0M573.3,167.4a1.95,1.95 0 1 0 3.9,0a1.95,1.95 0 1 0 -3.9,0M574.3,167.4a1.95,1.95 0 1 0 3.9,0a1.95,1.95 0 1 0 -3.9,0M575.3,167.4a1.95,1.95 0 1 0 3.9,0a1.95,1.95 0 1 0 -3.9,0M576.3,167.4a1.95,1.95 0 1 0 3.9,0a1.95,1.95 0 1 0 -3.9,0M577.3,167.4a1.95,1.95 0 1 0 3.9,0a1.95,1.95 0 1 0 -3.9,0M578.3,167.4a1.95,1.95 0 1 0 3.9,0a1.95,1.95 0 1 0 -3.9,0M579.3,167.4a1.95,1.95 0 1 0 3.9,0a1.95,1.95 0 1 0 -3.9,0M580.3,167.4a1.95,1.95 0 1 0 3.9,0a1.95,1.95 0 1 0 -3.9,0M581.3,167.3a1.95,1.95 0 1 0 3.9,0a1.95,1.95 0 1 0 -3.9,0M582.3,167.3a1.95,1.95 0 1 0 3.9,0a1.95,1.95 0 1 0 -3.9,0M583.3,167.3a1.95,1.95 0 1 0 3.9,0a1.95,1.95 0 1 0 -3.9,0M584.3,167.3a1.95,1.95 0 1 0 3.9,0a1.95,1.95 0 1 0 -3.9,0M585.3,167.3a1.95,1.95 0 1 0 3.9,0a1.95,1.95 0 1 0 -3.9,0M586.3,167.3a1.95,1.95 0 1 0 3.9,0a1.95,1.95 0 1 0 -3.9,0M587.3,167.3a1.95,1.95 0 1 0 3.9,0a1.95,1.95 0 1 0 -3.9,0M588.3,167.3a1.95,1.95 0 1 0 3.9,0a1.95,1.95 0 1 0 -3.9,0M589.3,167.3a1.95,1.95 0 1 0 3.9,0a1.95,1.95 0 1 0 -3.9,0M590.3,167.3a1.95,1.95 0 1 0 3.9,0a1.95,1.95 0 1 0 -3.9,0M591.3,167.3a1.95,1.95 0 1 0 3.9,0a1.95,1.95 0 1 0 -3.9,0M592.3,167.3a1.95,1.95 0 1 0 3.9,0a1.95,1.95 0 1 0 -3.9,0M593.3,167.3a1.95,1.95 0 1 0 3.9,0a1.95,1.95 0 1 0 -3.9,0M594.3,167.3a1.95,1.95 0 1 0 3.9,0a1.95,1.95 0 1 0 -3.9,0M595.3,167.3a1.95,1.95 0 1 0 3.9,0a1.95,1.95 0 1 0 -3.9,0M596.3,167.3a1.95,1.95 0 1 0 3.9,0a1.95,1.95 0 1 0 -3.9,0M597.3,167.3a1.95,1.95 0 1 0 3.9,0a1.95,1.95 0 1 0 -3.9,0M598.3,167.3a1.95,1.95 0 1 0 3.9,0a1.95,1.95 0 1 0 -3.9,0M599.3,167.3a1.95,1.95 0 1 0 3.9,0a1.95,1.95 0 1 0 -3.9,0M600.3,167.3a1.95,1.95 0 1 0 3.9,0a1.95,1.95 0 1 0 -3.9,0M601.3,167.3a1.95,1.95 0 1 0 3.9,0a1.95,1.95 0 1 0 -3.9,0M602.3,167.3a1.95,1.95 0 1 0 3.9,0a1.95,1.95 0 1 0 -3.9,0M603.3,167.3a1.95,1.95 0 1 0 3.9,0a1.95,1.95 0 1 0 -3.9,0M604.3,167.3a1.95,1.95 0 1 0 3.9,0a1.95,1.95 0 1 0 -3.9,0M605.3,167.3a1.95,1.95 0 1 0 3.9,0a1.95,1.95 0 1 0 -3.9,0M606.3,167.3a1.95,1.95 0 1 0 3.9,0a1.95,1.95 0 1 0 -3.9,0M607.3,167.3a1.95,1.95 0 1 0 3.9,0a1.95,1.95 0 1 0 -3.9,0M608.3,167.3a1.95,1.95 0 1 0 3.9,0a1.95,1.95 0 1 0 -3.9,0M609.3,167.3a1.95,1.95 0 1 0 3.9,0a1.95,1.95 0 1 0 -3.9,0M610.3,167.3a1.95,1.95 0 1 0 3.9,0a1.95,1.95 0 1 0 -3.9,0M611.3,167.3a1.95,1.95 0 1 0 3.9,0a1.95,1.95 0 1 0 -3.9,0M612.3,167.3a1.95,1.95 0 1 0 3.9,0a1.95,1.95 0 1 0 -3.9,0M613.3,167.3a1.95,1.95 0 1 0 3.9,0a1.95,1.95 0 1 0 -3.9,0M614.3,167.3a1.95,1.95 0 1 0 3.9,0a1.95,1.95 0 1 0 -3.9,0M615.3,167.3a1.95,1.95 0 1 0 3.9,0a1.95,1.95 0 1 0 -3.9,0M616.3,167.3a1.95,1.95 0 1 0 3.9,0a1.95,1.95 0 1 0 -3.9,0M617.3,167.3a1.95,1.95 0 1 0 3.9,0a1.95,1.95 0 1 0 -3.9,0M618.3,167.3a1.95,1.95 0 1 0 3.9,0a1.95,1.95 0 1 0 -3.9,0M619.3,167.3a1.95,1.95 0 1 0 3.9,0a1.95,1.95 0 1 0 -3.9,0M620.3,167.3a1.95,1.95 0 1 0 3.9,0a1.95,1.95 0 1 0 -3.9,0M621.3,167.3a1.95,1.95 0 1 0 3.9,0a1.95,1.95 0 1 0 -3.9,0M622.3,167.3a1.95,1.95 0 1 0 3.9,0a1.95,1.95 0 1 0 -3.9,0M623.3,167.3a1.95,1.95 0 1 0 3.9,0a1.95,1.95 0 1 0 -3.9,0M624.3,167.3a1.95,1.95 0 1 0 3.9,0a1.95,1.95 0 1 0 -3.9,0M625.3,167.3a1.95,1.95 0 1 0 3.9,0a1.95,1.95 0 1 0 -3.9,0M626.3,167.3a1.95,1.95 0 1 0 3.9,0a1.95,1.95 0 1 0 -3.9,0M627.3,167.3a1.95,1.95 0 1 0 3.9,0a1.95,1.95 0 1 0 -3.9,0M628.3,167.3a1.95,1.95 0 1 0 3.9,0a1.95,1.95 0 1 0 -3.9,0M629.3,167.3a1.95,1.95 0 1 0 3.9,0a1.95,1.95 0 1 0 -3.9,0M630.3,167.3a1.95,1.95 0 1 0 3.9,0a1.95,1.95 0 1 0 -3.9,0M631.3,167.3a1.95,1.95 0 1 0 3.9,0a1.95,1.95 0 1 0 -3.9,0M632.3,167.3a1.95,1.95 0 1 0 3.9,0a1.95,1.95 0 1 0 -3.9,0M633.3,167.3a1.95,1.95 0 1 0 3.9,0a1.95,1.95 0 1 0 -3.9,0M634.3,167.3a1.95,1.95 0 1 0 3.9,0a1.95,1.95 0 1 0 -3.9,0M635.3,167.3a1.95,1.95 0 1 0 3.9,0a1.95,1.95 0 1 0 -3.9,0M636.3,167.3a1.95,1.95 0 1 0 3.9,0a1.95,1.95 0 1 0 -3.9,0M637.3,167.3a1.95,1.95 0 1 0 3.9,0a1.95,1.95 0 1 0 -3.9,0M638.3,167.3a1.95,1.95 0 1 0 3.9,0a1.95,1.95 0 1 0 -3.9,0M639.3,167.3a1.95,1.95 0 1 0 3.9,0a1.95,1.95 0 1 0 -3.9,0M640.3,167.3a1.95,1.95 0 1 0 3.9,0a1.95,1.95 0 1 0 -3.9,0M641.3,167.3a1.95,1.95 0 1 0 3.9,0a1.95,1.95 0 1 0 -3.9,0M642.3,167.3a1.95,1.95 0 1 0 3.9,0a1.95,1.95 0 1 0 -3.9,0M643.3,167.3a1.95,1.95 0 1 0 3.9,0a1.95,1.95 0 1 0 -3.9,0M644.3,167.3a1.95,1.95 0 1 0 3.9,0a1.95,1.95 0 1 0 -3.9,0M645.3,167.3a1.95,1.95 0 1 0 3.9,0a1.95,1.95 0 1 0 -3.9,0M646.3,167.3a1.95,1.95 0 1 0 3.9,0a1.95,1.95 0 1 0 -3.9,0M647.3,167.3a1.95,1.95 0 1 0 3.9,0a1.95,1.95 0 1 0 -3.9,0M648.3,167.3a1.95,1.95 0 1 0 3.9,0a1.95,1.95 0 1 0 -3.9,0M649.3,167.3a1.95,1.95 0 1 0 3.9,0a1.95,1.95 0 1 0 -3.9,0M650.3,167.3a1.95,1.95 0 1 0 3.9,0a1.95,1.95 0 1 0 -3.9,0M651.3,167.3a1.95,1.95 0 1 0 3.9,0a1.95,1.95 0 1 0 -3.9,0M652.3,167.3a1.95,1.95 0 1 0 3.9,0a1.95,1.95 0 1 0 -3.9,0M653.3,167.3a1.95,1.95 0 1 0 3.9,0a1.95,1.95 0 1 0 -3.9,0M654.3,167.3a1.95,1.95 0 1 0 3.9,0a1.95,1.95 0 1 0 -3.9,0M655.3,167.3a1.95,1.95 0 1 0 3.9,0a1.95,1.95 0 1 0 -3.9,0M656.3,167.3a1.95,1.95 0 1 0 3.9,0a1.95,1.95 0 1 0 -3.9,0M657.3,167.3a1.95,1.95 0 1 0 3.9,0a1.95,1.95 0 1 0 -3.9,0M658.3,167.3a1.95,1.95 0 1 0 3.9,0a1.95,1.95 0 1 0 -3.9,0M659.3,167.3a1.95,1.95 0 1 0 3.9,0a1.95,1.95 0 1 0 -3.9,0M660.3,167.3a1.95,1.95 0 1 0 3.9,0a1.95,1.95 0 1 0 -3.9,0M661.3,167.3a1.95,1.95 0 1 0 3.9,0a1.95,1.95 0 1 0 -3.9,0M662.3,167.3a1.95,1.95 0 1 0 3.9,0a1.95,1.95 0 1 0 -3.9,0M663.3,167.3a1.95,1.95 0 1 0 3.9,0a1.95,1.95 0 1 0 -3.9,0M664.3,167.3a1.95,1.95 0 1 0 3.9,0a1.95,1.95 0 1 0 -3.9,0M665.3,167.3a1.95,1.95 0 1 0 3.9,0a1.95,1.95 0 1 0 -3.9,0M666.3,167.3a1.95,1.95 0 1 0 3.9,0a1.95,1.95 0 1 0 -3.9,0M667.3,167.3a1.95,1.95 0 1 0 3.9,0a1.95,1.95 0 1 0 -3.9,0M668.3,167.3a1.95,1.95 0 1 0 3.9,0a1.95,1.95 0 1 0 -3.9,0M669.3,167.3a1.95,1.95 0 1 0 3.9,0a1.95,1.95 0 1 0 -3.9,0M670.3,167.3a1.95,1.95 0 1 0 3.9,0a1.95,1.95 0 1 0 -3.9,0M671.3,167.3a1.95,1.95 0 1 0 3.9,0a1.95,1.95 0 1 0 -3.9,0M672.3,167.3a1.95,1.95 0 1 0 3.9,0a1.95,1.95 0 1 0 -3.9,0M673.3,167.3a1.95,1.95 0 1 0 3.9,0a1.95,1.95 0 1 0 -3.9,0M674.3,167.3a1.95,1.95 0 1 0 3.9,0a1.95,1.95 0 1 0 -3.9,0M675.3,167.3a1.95,1.95 0 1 0 3.9,0a1.95,1.95 0 1 0 -3.9,0M676.3,167.3a1.95,1.95 0 1 0 3.9,0a1.95,1.95 0 1 0 -3.9,0M677.3,167.3a1.95,1.95 0 1 0 3.9,0a1.95,1.95 0 1 0 -3.9,0M678.3,167.3a1.95,1.95 0 1 0 3.9,0a1.95,1.95 0 1 0 -3.9,0" stroke="#22fa22" stroke-width="1.0"/><path d="M38.5,293.4a1.95,1.95 0 1 0 3.9,0a1.95,1.95 0 1 0 -3.9,0M39.5,293.4a1.95,1.95 0 1 0 3.9,0a1.95,1.95 0 1 0 -3.9,0M40.5,293.4a1.95,1.95 0 1 0 3.9,0a1.95,1.95 0 1 0 -3.9,0M41.5,293.4a1.95,1.95 0 1 0 3.9,0a1.95,1.95 0 1 0 -3.9,0M42.5,293.4a1.95,1.95 0 1 0 3.9,0a1.95,1.95 0 1 0 -3.9,0M43.5,293.4a1.95,1.95 0 1 0 3.9,0a1.95,1.95 0 1 0 -3.9,0M44.5,293.4a1.95,1.95 0 1 0 3.9,0a1.95,1.95 0 1 0 -3.9,0M45.5,293.4a1.95,1.95 0 1 0 3.9,0a1.95,1.95 0 1 0 -3.9,0M46.5,293.4a1.95,1.95 0 1 0 3.9,0a1.95,1.95 0 1 0 -3.9,0M47.5,293.4a1.95,1.95 0 1 0 3.9,0a1.95,1.95 0 1 0 -3.9,0M48.5,293.4a1.95,1.95 0 1 0 3.9,0a1.95,1.95 0 1 0 -3.9,0M49.5,293.4a1.95,1.95 0 1 0 3.9,0a1.95,1.95 0 1 0 -3.9,0M50.5,293.4a1.95,1.95 0 1 0 3.9,0a1.95,1.95 0 1 0 -3.9,0M51.5,293.4a1.95,1.95 0 1 0 3.9,0a1.95,1.95 0 1 0 -3.9,0M52.5,293.4a1.95,1.95 0 1 0 3.9,0a1.95,1.95 0 1 0 -3.9,0M53.5,293.4a1.95,1.95 0 1 0 3.9,0a1.95,1.95 0 1 0 -3.9,0M54.5,293.4a1.95,1.95 0 1 0 3.9,0a1.95,1.95 0 1 0 -3.9,0M55.5,293.4a1.95,1.95 0 1 0 3.9,0a1.95,1.95 0 1 0 -3.9,0M56.5,293.4a1.95,1.95 0 1 0 3.9,0a1.95,1.95 0 1 0 -3.9,0M57.5,293.4a1.95,1.95 0 1 0 3.9,0a1.95,1.95 0 1 0 -3.9,0M58.5,293.4a1.95,1.95 0 1 0 3.9,0a1.95,1.95 0 1 0 -3.9,0M59.5,293.4a1.95,1.95 0 1 0 3.9,0a1.95,1.95 0 1 0 -3.9,0M60.5,293.4a1.95,1.95 0 1 0 3.9,0a1.95,1.95 0 1 0 -3.9,0M61.5,293.4a1.95,1.95 0 1 0 3.9,0a1.95,1.95 0 1 0 -3.9,0M62.5,293.4a1.95,1.95 0 1 0 3.9,0a1.95,1.95 0 1 0 -3.9,0M63.5,293.4a1.95,1.95 0 1 0 3.9,0a1.95,1.95 0 1 0 -3.9,0M64.5,293.4a1.95,1.95 0 1 0 3.9,0a1.95,1.95 0 1 0 -3.9,0M65.5,293.4a1.95,1.95 0 1 0 3.9,0a1.95,1.95 0 1 0 -3.9,0M66.5,293.4a1.95,1.95 0 1 0 3.9,0a1.95,1.95 0 1 0 -3.9,0M67.5,293.4a1.95,1.95 0 1 0 3.9,0a1.95,1.95 0 1 0 -3.9,0M68.5,293.4a1.95,1.95 0 1 0 3.9,0a1.95,1.95 0 1 0 -3.9,0M69.5,293.4a1.95,1.95 0 1 0 3.9,0a1.95,1.95 0 1 0 -3.9,0M70.5,293.4a1.95,1.95 0 1 0 3.9,0a1.95,1.95 0 1 0 -3.9,0M71.5,293.4a1.95,1.95 0 1 0 3.9,0a1.95,1.95 0 1 0 -3.9,0M72.5,293.4a1.95,1.95 0 1 0 3.9,0a1.95,1.95 0 1 0 -3.9,0M73.5,293.4a1.95,1.95 0 1 0 3.9,0a1.95,1.95 0 1 0 -3.9,0M74.5,293.4a1.95,1.95 0 1 0 3.9,0a1.95,1.95 0 1 0 -3.9,0M75.5,293.4a1.95,1.95 0 1 0 3.9,0a1.95,1.95 0 1 0 -3.9,0M76.5,293.4a1.95,1.95 0 1 0 3.9,0a1.95,1.95 0 1 0 -3.9,0M77.5,293.4a1.95,1.95 0 1 0 3.9,0a1.95,1.95 0 1 0 -3.9,0M78.5,293.5a1.95,1.95 0 1 0 3.9,0a1.95,1.95 0 1 0 -3.9,0M79.5,293.5a1.95,1.95 0 1 0 3.9,0a1.95,1.95 0 1 0 -3.9,0M80.5,293.5a1.95,1.95 0 1 0 3.9,0a1.95,1.95 0 1 0 -3.9,0M81.5,293.5a1.95,1.95 0 1 0 3.9,0a1.95,1.95 0 1 0 -3.9,0M82.5,293.5a1.95,1.95 0 1 0 3.9,0a1.95,1.95 0 1 0 -3.9,0M83.5,293.5a1.95,1.95 0 1 0 3.9,0a1.95,1.95 0 1 0 -3.9,0M84.5,293.5a1.95,1.95 0 1 0 3.9,0a1.95,1.95 0 1 0 -3.9,0M85.5,293.5a1.95,1.95 0 1 0 3.9,0a1.95,1.95 0 1 0 -3.9,0M86.5,293.5a1.95,1.95 0 1 0 3.9,0a1.95,1.95 0 1 0 -3.9,0M87.5,293.5a1.95,1.95 0 1 0 3.9,0a1.95,1.95 0 1 0 -3.9,0M88.5,293.5a1.95,1.95 0 1 0 3.9,0a1.95,1.95 0 1 0 -3.9,0M89.5,293.5a1.95,1.95 0 1 0 3.9,0a1.95,1.95 0 1 0 -3.9,0M90.5,293.5a1.95,1.95 0 1 0 3.9,0a1.95,1.95 0 1 0 -3.9,0M91.5,293.5a1.95,1.95 0 1 0 3.9,0a1.95,1.95 0 1 0 -3.9,0M92.5,293.5a1.95,1.95 0 1 0 3.9,0a1.95,1.95 0 1 0 -3.9,0M93.5,293.5a1.95,1.95 0 1 0 3.9,0a1.95,1.95 0 1 0 -3.9,0M94.5,293.5a1.95,1.95 0 1 0 3.9,0a1.95,1.95 0 1 0 -3.9,0M95.5,293.5a1.95,1.95 0 1 0 3.9,0a1.95,1.95 0 1 0 -3.9,0M96.5,293.5a1.95,1.95 0 1 0 3.9,0a1.95,1.95 0 1 0 -3.9,0M97.5,293.5a1.95,1.95 0 1 0 3.9,0a1.95,1.95 0 1 0 -3.9,0M98.5,293.5a1.95,1.95 0 1 0 3.9,0a1.95,1.95 0 1 0 -3.9,0M99.5,293.5a1.95,1.95 0 1 0 3.9,0a1.95,1.95 0 1 0 -3.9,0M100.5,293.5a1.95,1.95 0 1 0 3.9,0a1.95,1.95 0 1 0 -3.9,0M101.5,293.5a1.95,1.95 0 1 0 3.9,0a1.95,1.95 0 1 0 -3.9,0M102.5,293.5a1.95,1.95 0 1 0 3.9,0a1.95,1.95 0 1 0 -3.9,0M103.5,293.5a1.95,1.95 0 1 0 3.9,0a1.95,1.95 0 1 0 -3.9,0M104.5,293.5a1.95,1.95 0 1 0 3.9,0a1.95,1.95 0 1 0 -3.9,0M105.5,293.4a1.95,1.95 0 1 0 3.9,0a1.95,1.95 0 1 0 -3.9,0M106.5,293.4a1.95,1.95 0 1 0 3.9,0a1.95,1.95 0 1 0 -3.9,0M107.5,293.4a1.95,1.95 0 1 0 3.9,0a1.95,1.95 0 1 0 -3.9,0M108.5,293.4a1.95,1.95 0 1 0 3.9,0a1.95,1.95 0 1 0 -3.9,0M109.5,293.4a1.95,1.95 0 1 0 3.9,0a1.95,1.95 0 1 0 -3.9,0M110.5,293.4a1.95,1.95 0 1 0 3.9,0a1.95,1.95 0 1 0 -3.9,0M111.5,293.4a1.95,1.95 0 1 0 3.9,0a1.95,1.95 0 1 0 -3.9,0M112.5,293.4a1.95,1.95 0 1 0 3.9,0a1.95,1.95 0 1 0 -3.9,0M113.5,293.4a1.95,1.95 0 1 0 3.9,0a1.95,1.95 0 1 0 -3.9,0M114.5,293.4a1.95,1.95 0 1 0 3.9,0a1.95,1.95 0 1 0 -3.9,0M115.5,293.4a1.95,1.95 0 1 0 3.9,0a1.95,1.95 0 1 0 -3.9,0M116.5,293.4a1.95,1.95 0 1 0 3.9,0a1.95,1.95 0 1 0 -3.9,0M117.5,293.4a1.95,1.95 0 1 0 3.9,0a1.95,1.95 0 1 0 -3.9,0M118.5,293.4a1.95,1.95 0 1 0 3.9,0a1.95,1.95 0 1 0 -3.9,0M119.5,293.4a1.95,1.95 0 1 0 3.9,0a1.95,1.95 0 1 0 -3.9,0M120.5,293.3a1.95,1.95 0 1 0 3.9,0a1.95,1.95 0 1 0 -3.9,0M121.5,293.3a1.95,1.95 0 1 0 3.9,0a1.95,1.95 0 1 0 -3.9,0M122.5,293.2a1.95,1.95 0 1 0 3.9,0a1.95,1.95 0 1 0 -3.9,0M123.5,292.6a1.95,1.95 0 1 0 3.9,0a1.95,1.95 0 1 0 -3.9,0M124.5,292.6a1.95,1.95 0 1 0 3.9,0a1.95,1.95 0 1 0 -3.9,0M125.5,292.6a1.95,1.95 0 1 0 3.9,0a1.95,1.95 0 1 0 -3.9,0M126.5,292.6a1.95,1.95 0 1 0 3.9,0a1.95,1.95 0 1 0 -3.9,0M127.5,292.6a1.95,1.95 0 1 0 3.9,0a1.95,1.95 0 1 0 -3.9,0M128.6,292.6a1.95,1.95 0 1 0 3.9,0a1.95,1.95 0 1 0 -3.9,0M129.6,292.6a1.95,1.95 0 1 0 3.9,0a1.95,1.95 0 1 0 -3.9,0M130.6,292.6a1.95,1.95 0 1 0 3.9,0a1.95,1.95 0 1 0 -3.9,0M131.6,292.6a1.95,1.95 0 1 0 3.9,0a1.95,1.95 0 1 0 -3.9,0M132.6,292.6a1.95,1.95 0 1 0 3.9,0a1.95,1.95 0 1 0 -3.9,0M133.6,292.6a1.95,1.95 0 1 0 3.9,0a1.95,1.95 0 1 0 -3.9,0M134.6,292.6a1.95,1.95 0 1 0 3.9,0a1.95,1.95 0 1 0 -3.9,0M135.6,291.9a1.95,1.95 0 1 0 3.9,0a1.95,1.95 0 1 0 -3.9,0M136.6,291.9a1.95,1.95 0 1 0 3.9,0a1.95,1.95 0 1 0 -3.9,0M137.6,291.9a1.95,1.95 0 1 0 3.9,0a1.95,1.95 0 1 0 -3.9,0M138.6,291.8a1.95,1.95 0 1 0 3.9,0a1.95,1.95 0 1 0 -3.9,0M139.6,291.8a1.95,1.95 0 1 0 3.9,0a1.95,1.95 0 1 0 -3.9,0M140.6,291.8a1.95,1.95 0 1 0 3.9,0a1.95,1.95 0 1 0 -3.9,0M141.6,291.8a1.95,1.95 0 1 0 3.9,0a1.95,1.95 0 1 0 -3.9,0M142.6,291.8a1.95,1.95 0 1 0 3.9,0a1.95,1.95 0 1 0 -3.9,0M143.6,291.8a1.95,1.95 0 1 0 3.9,0a1.95,1.95 0 1 0 -3.9,0M144.6,291.8a1.95,1.95 0 1 0 3.9,0a1.95,1.95 0 1 0 -3.9,0M145.6,291.8a1.95,1.95 0 1 0 3.9,0a1.95,1.95 0 1 0 -3.9,0M146.6,291.8a1.95,1.95 0 1 0 3.9,0a1.95,1.95 0 1 0 -3.9,0M147.6,291.8a1.95,1.95 0 1 0 3.9,0a1.95,1.95 0 1 0 -3.9,0M148.6,291.8a1.95,1.95 0 1 0 3.9,0a1.95,1.95 0 1 0 -3.9,0M149.6,291.8a1.95,1.95 0 1 0 3.9,0a1.95,1.95 0 1 0 -3.9,0M150.6,291.8a1.95,1.95 0 1 0 3.9,0a1.95,1.95 0 1 0 -3.9,0M151.6,291.8a1.95,1.95 0 1 0 3.9,0a1.95,1.95 0 1 0 -3.9,0M152.6,291.8a1.95,1.95 0 1 0 3.9,0a1.95,1.95 0 1 0 -3.9,0M153.6,291.8a1.95,1.95 0 1 0 3.9,0a1.95,1.95 0 1 0 -3.9,0M154.6,291.8a1.95,1.95 0 1 0 3.9,0a1.95,1.95 0 1 0 -3.9,0M155.6,291.8a1.95,1.95 0 1 0 3.9,0a1.95,1.95 0 1 0 -3.9,0M156.6,291.7a1.95,1.95 0 1 0 3.9,0a1.95,1.95 0 1 0 -3.9,0M157.6,291.7a1.95,1.95 0 1 0 3.9,0a1.95,1.95 0 1 0 -3.9,0M158.6,291.6a1.95,1.95 0 1 0 3.9,0a1.95,1.95 0 1 0 -3.9,0M159.6,291.6a1.95,1.95 0 1 0 3.9,0a1.95,1.95 0 1 0 -3.9,0M160.6,291.5a1.95,1.95 0 1 0 3.9,0a1.95,1.95 0 1 0 -3.9,0M161.6,291.4a1.95,1.95 0 1 0 3.9,0a1.95,1.95 0 1 0 -3.9,0M162.6,291.3a1.95,1.95 0 1 0 3.9,0a1.95,1.95 0 1 0 -3.9,0M163.6,291.2a1.95,1.95 0 1 0 3.9,0a1.95,1.95 0 1 0 -3.9,0M164.6,291.1a1.95,1.95 0 1 0 3.9,0a1.95,1.95 0 1 0 -3.9,0M165.6,290.9a1.95,1.95 0 1 0 3.9,0a1.95,1.95 0 1 0 -3.9,0M166.6,290.8a1.95,1.95 0 1 0 3.9,0a1.95,1.95 0 1 0 -3.9,0M167.6,290.7a1.95,1.95 0 1 0 3.9,0a1.95,1.95 0 1 0 -3.9,0M168.6,290.5a1.95,1.95 0 1 0 3.9,0a1.95,1.95 0 1 0 -3.9,0M169.6,290.4a1.95,1.95 0 1 0 3.9,0a1.95,1.95 0 1 0 -3.9,0M170.6,290.3a1.95,1.95 0 1 0 3.9,0a1.95,1.95 0 1 0 -3.9,0M171.6,290.2a1.95,1.95 0 1 0 3.9,0a1.95,1.95 0 1 0 -3.9,0M172.6,290.1a1.95,1.95 0 1 0 3.9,0a1.95,1.95 0 1 0 -3.9,0M173.6,290.0a1.95,1.95 0 1 0 3.9,0a1.95,1.95 0 1 0 -3.9,0M174.6,289.8a1.95,1.95 0 1 0 3.9,0a1.95,1.95 0 1 0 -3.9,0M175.6,289.7a1.95,1.95 0 1 0 3.9,0a1.95,1.95 0 1 0 -3.9,0M176.6,289.6a1.95,1.95 0 1 0 3.9,0a1.95,1.95 0 1 0 -3.9,0M177.6,289.5a1.95,1.95 0 1 0 3.9,0a1.95,1.95 0 1 0 -3.9,0M178.6,289.3a1.95,1.95 0 1 0 3.9,0a1.95,1.95 0 1 0 -3.9,0M179.6,289.2a1.95,1.95 0 1 0 3.9,0a1.95,1.95 0 1 0 -3.9,0M180.6,289.1a1.95,1.95 0 1 0 3.9,0a1.95,1.95 0 1 0 -3.9,0M181.6,288.9a1.95,1.95 0 1 0 3.9,0a1.95,1.95 0 1 0 -3.9,0M182.6,288.8a1.95,1.95 0 1 0 3.9,0a1.95,1.95 0 1 0 -3.9,0M183.6,288.6a1.95,1.95 0 1 0 3.9,0a1.95,1.95 0 1 0 -3.9,0M184.6,288.4a1.95,1.95 0 1 0 3.9,0a1.95,1.95 0 1 0 -3.9,0M185.6,288.1a1.95,1.95 0 1 0 3.9,0a1.95,1.95 0 1 0 -3.9,0M186.6,287.9a1.95,1.95 0 1 0 3.9,0a1.95,1.95 0 1 0 -3.9,0M187.6,287.5a1.95,1.95 0 1 0 3.9,0a1.95,1.95 0 1 0 -3.9,0M188.6,287.2a1.95,1.95 0 1 0 3.9,0a1.95,1.95 0 1 0 -3.9,0M189.6,286.9a1.95,1.95 0 1 0 3.9,0a1.95,1.95 0 1 0 -3.9,0M190.6,286.7a1.95,1.95 0 1 0 3.9,0a1.95,1.95 0 1 0 -3.9,0M191.6,286.4a1.95,1.95 0 1 0 3.9,0a1.95,1.95 0 1 0 -3.9,0M192.6,286.1a1.95,1.95 0 1 0 3.9,0a1.95,1.95 0 1 0 -3.9,0M193.6,285.9a1.95,1.95 0 1 0 3.9,0a1.95,1.95 0 1 0 -3.9,0M194.6,285.6a1.95,1.95 0 1 0 3.9,0a1.95,1.95 0 1 0 -3.9,0M195.6,285.4a1.95,1.95 0 1 0 3.9,0a1.95,1.95 0 1 0 -3.9,0M196.6,285.1a1.95,1.95 0 1 0 3.9,0a1.95,1.95 0 1 0 -3.9,0M197.6,284.9a1.95,1.95 0 1 0 3.9,0a1.95,1.95 0 1 0 -3.9,0M198.6,284.7a1.95,1.95 0 1 0 3.9,0a1.95,1.95 0 1 0 -3.9,0M199.6,284.6a1.95,1.95 0 1 0 3.9,0a1.95,1.95 0 1 0 -3.9,0M200.6,284.6a1.95,1.95 0 1 0 3.9,0a1.95,1.95 0 1 0 -3.9,0M201.6,284.6a1.95,1.95 0 1 0 3.9,0a1.95,1.95 0 1 0 -3.9,0M202.6,284.5a1.95,1.95 0 1 0 3.9,0a1.95,1.95 0 1 0 -3.9,0M203.6,284.3a1.95,1.95 0 1 0 3.9,0a1.95,1.95 0 1 0 -3.9,0M204.6,283.9a1.95,1.95 0 1 0 3.9,0a1.95,1.95 0 1 0 -3.9,0M205.6,283.5a1.95,1.95 0 1 0 3.9,0a1.95,1.95 0 1 0 -3.9,0M206.6,283.1a1.95,1.95 0 1 0 3.9,0a1.95,1.95 0 1 0 -3.9,0M207.6,282.5a1.95,1.95 0 1 0 3.9,0a1.95,1.95 0 1 0 -3.9,0M208.6,281.9a1.95,1.95 0 1 0 3.9,0a1.95,1.95 0 1 0 -3.9,0M209.6,281.1a1.95,1.95 0 1 0 3.9,0a1.95,1.95 0 1 0 -3.9,0M210.6,280.3a1.95,1.95 0 1 0 3.9,0a1.95,1.95 0 1 0 -3.9,0M211.6,279.4a1.95,1.95 0 1 0 3.9,0a1.95,1.95 0 1 0 -3.9,0M212.6,278.5a1.95,1.95 0 1 0 3.9,0a1.95,1.95 0 1 0 -3.9,0M213.6,277.5a1.95,1.95 0 1 0 3.9,0a1.95,1.95 0 1 0 -3.9,0M214.6,276.5a1.95,1.95 0 1 0 3.9,0a1.95,1.95 0 1 0 -3.9,0M215.6,275.4a1.95,1.95 0 1 0 3.9,0a1.95,1.95 0 1 0 -3.9,0M216.6,274.3a1.95,1.95 0 1 0 3.9,0a1.95,1.95 0 1 0 -3.9,0M217.6,273.2a1.95,1.95 0 1 0 3.9,0a1.95,1.95 0 1 0 -3.9,0M218.6,272.1a1.95,1.95 0 1 0 3.9,0a1.95,1.95 0 1 0 -3.9,0M219.6,271.0a1.95,1.95 0 1 0 3.9,0a1.95,1.95 0 1 0 -3.9,0M220.6,269.9a1.95,1.95 0 1 0 3.9,0a1.95,1.95 0 1 0 -3.9,0M221.6,268.8a1.95,1.95 0 1 0 3.9,0a1.95,1.95 0 1 0 -3.9,0M222.6,267.6a1.95,1.95 0 1 0 3.9,0a1.95,1.95 0 1 0 -3.9,0M223.6,266.4a1.95,1.95 0 1 0 3.9,0a1.95,1.95 0 1 0 -3.9,0M224.6,265.1a1.95,1.95 0 1 0 3.9,0a1.95,1.95 0 1 0 -3.9,0M225.6,263.7a1.95,1.95 0 1 0 3.9,0a1.95,1.95 0 1 0 -3.9,0M226.6,262.3a1.95,1.95 0 1 0 3.9,0a1.95,1.95 0 1 0 -3.9,0M227.6,260.9a1.95,1.95 0 1 0 3.9,0a1.95,1.95 0 1 0 -3.9,0M228.6,259.3a1.95,1.95 0 1 0 3.9,0a1.95,1.95 0 1 0 -3.9,0M229.6,257.7a1.95,1.95 0 1 0 3.9,0a1.95,1.95 0 1 0 -3.9,0M230.6,256.0a1.95,1.95 0 1 0 3.9,0a1.95,1.95 0 1 0 -3.9,0M231.6,254.2a1.95,1.95 0 1 0 3.9,0a1.95,1.95 0 1 0 -3.9,0M232.6,252.5a1.95,1.95 0 1 0 3.9,0a1.95,1.95 0 1 0 -3.9,0M233.6,250.9a1.95,1.95 0 1 0 3.9,0a1.95,1.95 0 1 0 -3.9,0M234.6,249.3a1.95,1.95 0 1 0 3.9,0a1.95,1.95 0 1 0 -3.9,0M235.6,247.7a1.95,1.95 0 1 0 3.9,0a1.95,1.95 0 1 0 -3.9,0M236.6,246.1a1.95,1.95 0 1 0 3.9,0a1.95,1.95 0 1 0 -3.9,0M237.6,244.6a1.95,1.95 0 1 0 3.9,0a1.95,1.95 0 1 0 -3.9,0M238.6,243.0a1.95,1.95 0 1 0 3.9,0a1.95,1.95 0 1 0 -3.9,0M239.6,241.5a1.95,1.95 0 1 0 3.9,0a1.95,1.95 0 1 0 -3.9,0M240.6,240.0a1.95,1.95 0 1 0 3.9,0a1.95,1.95 0 1 0 -3.9,0M241.6,238.5a1.95,1.95 0 1 0 3.9,0a1.95,1.95 0 1 0 -3.9,0M242.6,237.0a1.95,1.95 0 1 0 3.9,0a1.95,1.95 0 1 0 -3.9,0M243.6,235.4a1.95,1.95 0 1 0 3.9,0a1.95,1.95 0 1 0 -3.9,0M244.6,233.8a1.95,1.95 0 1 0 3.9,0a1.95,1.95 0 1 0 -3.9,0M245.6,232.2a1.95,1.95 0 1 0 3.9,0a1.95,1.95 0 1 0 -3.9,0M246.6,230.6a1.95,1.95 0 1 0 3.9,0a1.95,1.95 0 1 0 -3.9,0M247.6,229.1a1.95,1.95 0 1 0 3.9,0a1.95,1.95 0 1 0 -3.9,0M248.6,227.7a1.95,1.95 0 1 0 3.9,0a1.95,1.95 0 1 0 -3.9,0M249.6,226.4a1.95,1.95 0 1 0 3.9,0a1.95,1.95 0 1 0 -3.9,0M250.6,225.2a1.95,1.95 0 1 0 3.9,0a1.95,1.95 0 1 0 -3.9,0M251.6,224.0a1.95,1.95 0 1 0 3.9,0a1.95,1.95 0 1 0 -3.9,0M252.6,222.8a1.95,1.95 0 1 0 3.9,0a1.95,1.95 0 1 0 -3.9,0M253.6,221.6a1.95,1.95 0 1 0 3.9,0a1.95,1.95 0 1 0 -3.9,0M254.6,220.5a1.95,1.95 0 1 0 3.9,0a1.95,1.95 0 1 0 -3.9,0M255.6,219.4a1.95,1.95 0 1 0 3.9,0a1.95,1.95 0 1 0 -3.9,0M256.6,218.4a1.95,1.95 0 1 0 3.9,0a1.95,1.95 0 1 0 -3.9,0M257.6,217.3a1.95,1.95 0 1 0 3.9,0a1.95,1.95 0 1 0 -3.9,0M258.6,216.3a1.95,1.95 0 1 0 3.9,0a1.95,1.95 0 1 0 -3.9,0M259.6,215.2a1.95,1.95 0 1 0 3.9,0a1.95,1.95 0 1 0 -3.9,0M260.6,214.1a1.95,1.95 0 1 0 3.9,0a1.95,1.95 0 1 0 -3.9,0M261.6,213.0a1.95,1.95 0 1 0 3.9,0a1.95,1.95 0 1 0 -3.9,0M262.6,212.0a1.95,1.95 0 1 0 3.9,0a1.95,1.95 0 1 0 -3.9,0M263.6,211.0a1.95,1.95 0 1 0 3.9,0a1.95,1.95 0 1 0 -3.9,0M264.6,210.0a1.95,1.95 0 1 0 3.9,0a1.95,1.95 0 1 0 -3.9,0M265.6,209.1a1.95,1.95 0 1 0 3.9,0a1.95,1.95 0 1 0 -3.9,0M266.6,208.1a1.95,1.95 0 1 0 3.9,0a1.95,1.95 0 1 0 -3.9,0M267.6,207.2a1.95,1.95 0 1 0 3.9,0a1.95,1.95 0 1 0 -3.9,0M268.6,206.4a1.95,1.95 0 1 0 3.9,0a1.95,1.95 0 1 0 -3.9,0M269.6,205.5a1.95,1.95 0 1 0 3.9,0a1.95,1.95 0 1 0 -3.9,0M270.6,204.6a1.95,1.95 0 1 0 3.9,0a1.95,1.95 0 1 0 -3.9,0M271.6,203.8a1.95,1.95 0 1 0 3.9,0a1.95,1.95 0 1 0 -3.9,0M272.6,203.0a1.95,1.95 0 1 0 3.9,0a1.95,1.95 0 1 0 -3.9,0M273.6,202.1a1.95,1.95 0 1 0 3.9,0a1.95,1.95 0 1 0 -3.9,0M274.6,201.4a1.95,1.95 0 1 0 3.9,0a1.95,1.95 0 1 0 -3.9,0M275.6,200.6a1.95,1.95 0 1 0 3.9,0a1.95,1.95 0 1 0 -3.9,0M276.6,199.9a1.95,1.95 0 1 0 3.9,0a1.95,1.95 0 1 0 -3.9,0M277.6,199.2a1.95,1.95 0 1 0 3.9,0a1.95,1.95 0 1 0 -3.9,0M278.6,198.6a1.95,1.95 0 1 0 3.9,0a1.95,1.95 0 1 0 -3.9,0M279.6,197.9a1.95,1.95 0 1 0 3.9,0a1.95,1.95 0 1 0 -3.9,0M280.6,197.3a1.95,1.95 0 1 0 3.9,0a1.95,1.95 0 1 0 -3.9,0M281.6,196.7a1.95,1.95 0 1 0 3.9,0a1.95,1.95 0 1 0 -3.9,0M282.6,196.0a1.95,1.95 0 1 0 3.9,0a1.95,1.95 0 1 0 -3.9,0M283.6,195.4a1.95,1.95 0 1 0 3.9,0a1.95,1.95 0 1 0 -3.9,0M284.6,194.7a1.95,1.95 0 1 0 3.9,0a1.95,1.95 0 1 0 -3.9,0M285.6,194.1a1.95,1.95 0 1 0 3.9,0a1.95,1.95 0 1 0 -3.9,0M286.6,193.5a1.95,1.95 0 1 0 3.9,0a1.95,1.95 0 1 0 -3.9,0M287.6,192.9a1.95,1.95 0 1 0 3.9,0a1.95,1.95 0 1 0 -3.9,0M288.6,192.3a1.95,1.95 0 1 0 3.9,0a1.95,1.95 0 1 0 -3.9,0M289.6,191.7a1.95,1.95 0 1 0 3.9,0a1.95,1.95 0 1 0 -3.9,0M290.6,191.1a1.95,1.95 0 1 0 3.9,0a1.95,1.95 0 1 0 -3.9,0M291.6,190.6a1.95,1.95 0 1 0 3.9,0a1.95,1.95 0 1 0 -3.9,0M292.6,190.0a1.95,1.95 0 1 0 3.9,0a1.95,1.95 0 1 0 -3.9,0M293.6,189.5a1.95,1.95 0 1 0 3.9,0a1.95,1.95 0 1 0 -3.9,0M294.6,189.0a1.95,1.95 0 1 0 3.9,0a1.95,1.95 0 1 0 -3.9,0M295.6,188.5a1.95,1.95 0 1 0 3.9,0a1.95,1.95 0 1 0 -3.9,0M296.6,188.0a1.95,1.95 0 1 0 3.9,0a1.95,1.95 0 1 0 -3.9,0M297.6,187.5a1.95,1.95 0 1 0 3.9,0a1.95,1.95 0 1 0 -3.9,0M298.6,187.1a1.95,1.95 0 1 0 3.9,0a1.95,1.95 0 1 0 -3.9,0M299.6,186.7a1.95,1.95 0 1 0 3.9,0a1.95,1.95 0 1 0 -3.9,0M300.6,186.3a1.95,1.95 0 1 0 3.9,0a1.95,1.95 0 1 0 -3.9,0M301.6,185.9a1.95,1.95 0 1 0 3.9,0a1.95,1.95 0 1 0 -3.9,0M302.6,185.5a1.95,1.95 0 1 0 3.9,0a1.95,1.95 0 1 0 -3.9,0M303.6,185.1a1.95,1.95 0 1 0 3.9,0a1.95,1.95 0 1 0 -3.9,0M304.6,184.7a1.95,1.95 0 1 0 3.9,0a1.95,1.95 0 1 0 -3.9,0M305.6,184.4a1.95,1.95 0 1 0 3.9,0a1.95,1.95 0 1 0 -3.9,0M306.6,184.0a1.95,1.95 0 1 0 3.9,0a1.95,1.95 0 1 0 -3.9,0M307.6,183.7a1.95,1.95 0 1 0 3.9,0a1.95,1.95 0 1 0 -3.9,0M308.6,183.3a1.95,1.95 0 1 0 3.9,0a1.95,1.95 0 1 0 -3.9,0M309.6,183.0a1.95,1.95 0 1 0 3.9,0a1.95,1.95 0 1 0 -3.9,0M310.6,182.7a1.95,1.95 0 1 0 3.9,0a1.95,1.95 0 1 0 -3.9,0M311.6,182.4a1.95,1.95 0 1 0 3.9,0a1.95,1.95 0 1 0 -3.9,0M312.6,182.1a1.95,1.95 0 1 0 3.9,0a1.95,1.95 0 1 0 -3.9,0M313.6,181.8a1.95,1.95 0 1 0 3.9,0a1.95,1.95 0 1 0 -3.9,0M314.6,181.5a1.95,1.95 0 1 0 3.9,0a1.95,1.95 0 1 0 -3.9,0M315.6,181.3a1.95,1.95 0 1 0 3.9,0a1.95,1.95 0 1 0 -3.9,0M316.6,181.0a1.95,1.95 0 1 0 3.9,0a1.95,1.95 0 1 0 -3.9,0M317.6,180.7a1.95,1.95 0 1 0 3.9,0a1.95,1.95 0 1 0 -3.9,0M318.6,180.3a1.95,1.95 0 1 0 3.9,0a1.95,1.95 0 1 0 -3.9,0M319.6,180.0a1.95,1.95 0 1 0 3.9,0a1.95,1.95 0 1 0 -3.9,0M320.6,179.6a1.95,1.95 0 1 0 3.9,0a1.95,1.95 0 1 0 -3.9,0M321.6,179.3a1.95,1.95 0 1 0 3.9,0a1.95,1.95 0 1 0 -3.9,0M322.6,178.9a1.95,1.95 0 1 0 3.9,0a1.95,1.95 0 1 0 -3.9,0M323.6,178.5a1.95,1.95 0 1 0 3.9,0a1.95,1.95 0 1 0 -3.9,0M324.6,178.2a1.95,1.95 0 1 0 3.9,0a1.95,1.95 0 1 0 -3.9,0M325.6,177.8a1.95,1.95 0 1 0 3.9,0a1.95,1.95 0 1 0 -3.9,0M326.6,177.5a1.95,1.95 0 1 0 3.9,0a1.95,1.95 0 1 0 -3.9,0M327.6,177.3a1.95,1.95 0 1 0 3.9,0a1.95,1.95 0 1 0 -3.9,0M328.6,177.2a1.95,1.95 0 1 0 3.9,0a1.95,1.95 0 1 0 -3.9,0M329.6,177.3a1.95,1.95 0 1 0 3.9,0a1.95,1.95 0 1 0 -3.9,0M330.6,177.6a1.95,1.95 0 1 0 3.9,0a1.95,1.95 0 1 0 -3.9,0M331.6,178.0a1.95,1.95 0 1 0 3.9,0a1.95,1.95 0 1 0 -3.9,0M332.6,178.3a1.95,1.95 0 1 0 3.9,0a1.95,1.95 0 1 0 -3.9,0M333.6,178.5a1.95,1.95 0 1 0 3.9,0a1.95,1.95 0 1 0 -3.9,0M334.6,178.7a1.95,1.95 0 1 0 3.9,0a1.95,1.95 0 1 0 -3.9,0M335.6,178.9a1.95,1.95 0 1 0 3.9,0a1.95,1.95 0 1 0 -3.9,0M336.6,179.2a1.95,1.95 0 1 0 3.9,0a1.95,1.95 0 1 0 -3.9,0M337.6,179.4a1.95,1.95 0 1 0 3.9,0a1.95,1.95 0 1 0 -3.9,0M338.6,179.6a1.95,1.95 0 1 0 3.9,0a1.95,1.95 0 1 0 -3.9,0M339.6,179.7a1.95,1.95 0 1 0 3.9,0a1.95,1.95 0 1 0 -3.9,0M340.6,179.9a1.95,1.95 0 1 0 3.9,0a1.95,1.95 0 1 0 -3.9,0M341.6,180.2a1.95,1.95 0 1 0 3.9,0a1.95,1.95 0 1 0 -3.9,0M342.6,180.7a1.95,1.95 0 1 0 3.9,0a1.95,1.95 0 1 0 -3.9,0M343.6,181.3a1.95,1.95 0 1 0 3.9,0a1.95,1.95 0 1 0 -3.9,0M344.6,182.0a1.95,1.95 0 1 0 3.9,0a1.95,1.95 0 1 0 -3.9,0M345.6,182.9a1.95,1.95 0 1 0 3.9,0a1.95,1.95 0 1 0 -3.9,0M346.6,184.0a1.95,1.95 0 1 0 3.9,0a1.95,1.95 0 1 0 -3.9,0M347.6,185.4a1.95,1.95 0 1 0 3.9,0a1.95,1.95 0 1 0 -3.9,0M348.6,187.1a1.95,1.95 0 1 0 3.9,0a1.95,1.95 0 1 0 -3.9,0M349.6,189.0a1.95,1.95 0 1 0 3.9,0a1.95,1.95 0 1 0 -3.9,0M350.6,192.0a1.95,1.95 0 1 0 3.9,0a1.95,1.95 0 1 0 -3.9,0M351.6,196.8a1.95,1.95 0 1 0 3.9,0a1.95,1.95 0 1 0 -3.9,0M352.6,204.2a1.95,1.95 0 1 0 3.9,0a1.95,1.95 0 1 0 -3.9,0M353.6,211.5a1.95,1.95 0 1 0 3.9,0a1.95,1.95 0 1 0 -3.9,0M354.6,217.5a1.95,1.95 0 1 0 3.9,0a1.95,1.95 0 1 0 -3.9,0M355.6,221.7a1.95,1.95 0 1 0 3.9,0a1.95,1.95 0 1 0 -3.9,0M356.6,225.3a1.95,1.95 0 1 0 3.9,0a1.95,1.95 0 1 0 -3.9,0M357.6,228.6a1.95,1.95 0 1 0 3.9,0a1.95,1.95 0 1 0 -3.9,0M358.6,231.9a1.95,1.95 0 1 0 3.9,0a1.95,1.95 0 1 0 -3.9,0M359.6,235.1a1.95,1.95 0 1 0 3.9,0a1.95,1.95 0 1 0 -3.9,0M360.6,238.9a1.95,1.95 0 1 0 3.9,0a1.95,1.95 0 1 0 -3.9,0M361.6,243.3a1.95,1.95 0 1 0 3.9,0a1.95,1.95 0 1 0 -3.9,0M362.6,247.9a1.95,1.95 0 1 0 3.9,0a1.95,1.95 0 1 0 -3.9,0M363.6,252.3a1.95,1.95 0 1 0 3.9,0a1.95,1.95 0 1 0 -3.9,0M364.6,255.9a1.95,1.95 0 1 0 3.9,0a1.95,1.95 0 1 0 -3.9,0M365.6,259.2a1.95,1.95 0 1 0 3.9,0a1.95,1.95 0 1 0 -3.9,0M366.6,262.5a1.95,1.95 0 1 0 3.9,0a1.95,1.95 0 1 0 -3.9,0M367.6,265.8a1.95,1.95 0 1 0 3.9,0a1.95,1.95 0 1 0 -3.9,0M368.6,269.5a1.95,1.95 0 1 0 3.9,0a1.95,1.95 0 1 0 -3.9,0M369.6,272.4a1.95,1.95 0 1 0 3.9,0a1.95,1.95 0 1 0 -3.9,0M370.6,274.6a1.95,1.95 0 1 0 3.9,0a1.95,1.95 0 1 0 -3.9,0M371.6,276.4a1.95,1.95 0 1 0 3.9,0a1.95,1.95 0 1 0 -3.9,0M372.6,277.8a1.95,1.95 0 1 0 3.9,0a1.95,1.95 0 1 0 -3.9,0M373.6,279.2a1.95,1.95 0 1 0 3.9,0a1.95,1.95 0 1 0 -3.9,0M374.6,280.4a1.95,1.95 0 1 0 3.9,0a1.95,1.95 0 1 0 -3.9,0M375.6,281.4a1.95,1.95 0 1 0 3.9,0a1.95,1.95 0 1 0 -3.9,0M376.6,282.4a1.95,1.95 0 1 0 3.9,0a1.95,1.95 0 1 0 -3.9,0M377.6,283.1a1.95,1.95 0 1 0 3.9,0a1.95,1.95 0 1 0 -3.9,0M378.6,283.8a1.95,1.95 0 1 0 3.9,0a1.95,1.95 0 1 0 -3.9,0M379.6,284.5a1.95,1.95 0 1 0 3.9,0a1.95,1.95 0 1 0 -3.9,0M380.6,285.1a1.95,1.95 0 1 0 3.9,0a1.95,1.95 0 1 0 -3.9,0M381.6,285.6a1.95,1.95 0 1 0 3.9,0a1.95,1.95 0 1 0 -3.9,0M382.6,286.1a1.95,1.95 0 1 0 3.9,0a1.95,1.95 0 1 0 -3.9,0M383.6,286.6a1.95,1.95 0 1 0 3.9,0a1.95,1.95 0 1 0 -3.9,0M384.6,287.0a1.95,1.95 0 1 0 3.9,0a1.95,1.95 0 1 0 -3.9,0M385.6,287.3a1.95,1.95 0 1 0 3.9,0a1.95,1.95 0 1 0 -3.9,0M386.6,287.6a1.95,1.95 0 1 0 3.9,0a1.95,1.95 0 1 0 -3.9,0M387.6,287.8a1.95,1.95 0 1 0 3.9,0a1.95,1.95 0 1 0 -3.9,0M388.6,288.1a1.95,1.95 0 1 0 3.9,0a1.95,1.95 0 1 0 -3.9,0M389.6,288.3a1.95,1.95 0 1 0 3.9,0a1.95,1.95 0 1 0 -3.9,0M390.6,288.6a1.95,1.95 0 1 0 3.9,0a1.95,1.95 0 1 0 -3.9,0M391.6,288.8a1.95,1.95 0 1 0 3.9,0a1.95,1.95 0 1 0 -3.9,0M392.6,289.0a1.95,1.95 0 1 0 3.9,0a1.95,1.95 0 1 0 -3.9,0M393.6,289.2a1.95,1.95 0 1 0 3.9,0a1.95,1.95 0 1 0 -3.9,0M394.6,289.4a1.95,1.95 0 1 0 3.9,0a1.95,1.95 0 1 0 -3.9,0M395.6,289.5a1.95,1.95 0 1 0 3.9,0a1.95,1.95 0 1 0 -3.9,0M396.6,289.7a1.95,1.95 0 1 0 3.9,0a1.95,1.95 0 1 0 -3.9,0M397.6,289.8a1.95,1.95 0 1 0 3.9,0a1.95,1.95 0 1 0 -3.9,0M398.6,289.9a1.95,1.95 0 1 0 3.9,0a1.95,1.95 0 1 0 -3.9,0M399.6,290.0a1.95,1.95 0 1 0 3.9,0a1.95,1.95 0 1 0 -3.9,0M400.6,290.1a1.95,1.95 0 1 0 3.9,0a1.95,1.95 0 1 0 -3.9,0M401.6,290.2a1.95,1.95 0 1 0 3.9,0a1.95,1.95 0 1 0 -3.9,0M402.6,290.3a1.95,1.95 0 1 0 3.9,0a1.95,1.95 0 1 0 -3.9,0M403.6,290.4a1.95,1.95 0 1 0 3.9,0a1.95,1.95 0 1 0 -3.9,0M404.6,290.4a1.95,1.95 0 1 0 3.9,0a1.95,1.95 0 1 0 -3.9,0M405.6,290.5a1.95,1.95 0 1 0 3.9,0a1.95,1.95 0 1 0 -3.9,0M406.6,290.5a1.95,1.95 0 1 0 3.9,0a1.95,1.95 0 1 0 -3.9,0M407.6,290.6a1.95,1.95 0 1 0 3.9,0a1.95,1.95 0 1 0 -3.9,0M408.6,290.6a1.95,1.95 0 1 0 3.9,0a1.95,1.95 0 1 0 -3.9,0M409.6,290.7a1.95,1.95 0 1 0 3.9,0a1.95,1.95 0 1 0 -3.9,0M410.6,290.7a1.95,1.95 0 1 0 3.9,0a1.95,1.95 0 1 0 -3.9,0M411.6,290.8a1.95,1.95 0 1 0 3.9,0a1.95,1.95 0 1 0 -3.9,0M412.6,290.9a1.95,1.95 0 1 0 3.9,0a1.95,1.95 0 1 0 -3.9,0M413.6,291.0a1.95,1.95 0 1 0 3.9,0a1.95,1.95 0 1 0 -3.9,0M414.6,291.0a1.95,1.95 0 1 0 3.9,0a1.95,1.95 0 1 0 -3.9,0M415.6,291.1a1.95,1.95 0 1 0 3.9,0a1.95,1.95 0 1 0 -3.9,0M416.6,291.2a1.95,1.95 0 1 0 3.9,0a1.95,1.95 0 1 0 -3.9,0M417.6,291.2a1.95,1.95 0 1 0 3.9,0a1.95,1.95 0 1 0 -3.9,0M418.6,291.3a1.95,1.95 0 1 0 3.9,0a1.95,1.95 0 1 0 -3.9,0M419.6,291.3a1.95,1.95 0 1 0 3.9,0a1.95,1.95 0 1 0 -3.9,0M420.6,291.3a1.95,1.95 0 1 0 3.9,0a1.95,1.95 0 1 0 -3.9,0M421.6,291.4a1.95,1.95 0 1 0 3.9,0a1.95,1.95 0 1 0 -3.9,0M422.6,291.4a1.95,1.95 0 1 0 3.9,0a1.95,1.95 0 1 0 -3.9,0M423.6,291.5a1.95,1.95 0 1 0 3.9,0a1.95,1.95 0 1 0 -3.9,0M424.6,291.5a1.95,1.95 0 1 0 3.9,0a1.95,1.95 0 1 0 -3.9,0M425.6,291.5a1.95,1.95 0 1 0 3.9,0a1.95,1.95 0 1 0 -3.9,0M426.6,291.5a1.95,1.95 0 1 0 3.9,0a1.95,1.95 0 1 0 -3.9,0M427.6,291.6a1.95,1.95 0 1 0 3.9,0a1.95,1.95 0 1 0 -3.9,0M428.6,291.6a1.95,1.95 0 1 0 3.9,0a1.95,1.95 0 1 0 -3.9,0M429.6,291.6a1.95,1.95 0 1 0 3.9,0a1.95,1.95 0 1 0 -3.9,0M430.6,291.6a1.95,1.95 0 1 0 3.9,0a1.95,1.95 0 1 0 -3.9,0M431.6,291.6a1.95,1.95 0 1 0 3.9,0a1.95,1.95 0 1 0 -3.9,0M432.6,291.7a1.95,1.95 0 1 0 3.9,0a1.95,1.95 0 1 0 -3.9,0M433.6,291.7a1.95,1.95 0 1 0 3.9,0a1.95,1.95 0 1 0 -3.9,0M434.6,291.7a1.95,1.95 0 1 0 3.9,0a1.95,1.95 0 1 0 -3.9,0M435.6,291.7a1.95,1.95 0 1 0 3.9,0a1.95,1.95 0 1 0 -3.9,0M436.6,291.7a1.95,1.95 0 1 0 3.9,0a1.95,1.95 0 1 0 -3.9,0M437.6,291.7a1.95,1.95 0 1 0 3.9,0a1.95,1.95 0 1 0 -3.9,0M438.6,291.7a1.95,1.95 0 1 0 3.9,0a1.95,1.95 0 1 0 -3.9,0M439.6,291.7a1.95,1.95 0 1 0 3.9,0a1.95,1.95 0 1 0 -3.9,0M440.6,291.7a1.95,1.95 0 1 0 3.9,0a1.95,1.95 0 1 0 -3.9,0M441.6,291.8a1.95,1.95 0 1 0 3.9,0a1.95,1.95 0 1 0 -3.9,0M442.6,291.8a1.95,1.95 0 1 0 3.9,0a1.95,1.95 0 1 0 -3.9,0M443.6,291.8a1.95,1.95 0 1 0 3.9,0a1.95,1.95 0 1 0 -3.9,0M444.6,291.8a1.95,1.95 0 1 0 3.9,0a1.95,1.95 0 1 0 -3.9,0M445.6,291.8a1.95,1.95 0 1 0 3.9,0a1.95,1.95 0 1 0 -3.9,0M446.6,291.8a1.95,1.95 0 1 0 3.9,0a1.95,1.95 0 1 0 -3.9,0M447.6,291.8a1.95,1.95 0 1 0 3.9,0a1.95,1.95 0 1 0 -3.9,0M448.6,291.8a1.95,1.95 0 1 0 3.9,0a1.95,1.95 0 1 0 -3.9,0M449.6,291.8a1.95,1.95 0 1 0 3.9,0a1.95,1.95 0 1 0 -3.9,0M450.6,291.8a1.95,1.95 0 1 0 3.9,0a1.95,1.95 0 1 0 -3.9,0M451.6,291.8a1.95,1.95 0 1 0 3.9,0a1.95,1.95 0 1 0 -3.9,0M452.6,291.8a1.95,1.95 0 1 0 3.9,0a1.95,1.95 0 1 0 -3.9,0M453.6,291.8a1.95,1.95 0 1 0 3.9,0a1.95,1.95 0 1 0 -3.9,0M454.6,291.8a1.95,1.95 0 1 0 3.9,0a1.95,1.95 0 1 0 -3.9,0M455.6,291.8a1.95,1.95 0 1 0 3.9,0a1.95,1.95 0 1 0 -3.9,0M456.6,291.8a1.95,1.95 0 1 0 3.9,0a1.95,1.95 0 1 0 -3.9,0M457.6,291.8a1.95,1.95 0 1 0 3.9,0a1.95,1.95 0 1 0 -3.9,0M458.6,291.8a1.95,1.95 0 1 0 3.9,0a1.95,1.95 0 1 0 -3.9,0M459.6,291.8a1.95,1.95 0 1 0 3.9,0a1.95,1.95 0 1 0 -3.9,0M460.6,291.8a1.95,1.95 0 1 0 3.9,0a1.95,1.95 0 1 0 -3.9,0M461.6,291.8a1.95,1.95 0 1 0 3.9,0a1.95,1.95 0 1 0 -3.9,0M462.6,291.8a1.95,1.95 0 1 0 3.9,0a1.95,1.95 0 1 0 -3.9,0M463.6,291.8a1.95,1.95 0 1 0 3.9,0a1.95,1.95 0 1 0 -3.9,0M464.6,291.8a1.95,1.95 0 1 0 3.9,0a1.95,1.95 0 1 0 -3.9,0M465.6,291.8a1.95,1.95 0 1 0 3.9,0a1.95,1.95 0 1 0 -3.9,0M466.6,291.8a1.95,1.95 0 1 0 3.9,0a1.95,1.95 0 1 0 -3.9,0M467.6,291.8a1.95,1.95 0 1 0 3.9,0a1.95,1.95 0 1 0 -3.9,0M468.6,291.8a1.95,1.95 0 1 0 3.9,0a1.95,1.95 0 1 0 -3.9,0M469.6,291.8a1.95,1.95 0 1 0 3.9,0a1.95,1.95 0 1 0 -3.9,0M470.6,291.8a1.95,1.95 0 1 0 3.9,0a1.95,1.95 0 1 0 -3.9,0M471.6,291.8a1.95,1.95 0 1 0 3.9,0a1.95,1.95 0 1 0 -3.9,0M472.6,291.8a1.95,1.95 0 1 0 3.9,0a1.95,1.95 0 1 0 -3.9,0M473.6,291.8a1.95,1.95 0 1 0 3.9,0a1.95,1.95 0 1 0 -3.9,0M474.6,291.8a1.95,1.95 0 1 0 3.9,0a1.95,1.95 0 1 0 -3.9,0M475.6,291.8a1.95,1.95 0 1 0 3.9,0a1.95,1.95 0 1 0 -3.9,0M476.6,291.8a1.95,1.95 0 1 0 3.9,0a1.95,1.95 0 1 0 -3.9,0M477.6,291.8a1.95,1.95 0 1 0 3.9,0a1.95,1.95 0 1 0 -3.9,0M478.6,291.8a1.95,1.95 0 1 0 3.9,0a1.95,1.95 0 1 0 -3.9,0M479.6,291.8a1.95,1.95 0 1 0 3.9,0a1.95,1.95 0 1 0 -3.9,0M480.6,291.8a1.95,1.95 0 1 0 3.9,0a1.95,1.95 0 1 0 -3.9,0M481.6,291.8a1.95,1.95 0 1 0 3.9,0a1.95,1.95 0 1 0 -3.9,0M482.6,291.8a1.95,1.95 0 1 0 3.9,0a1.95,1.95 0 1 0 -3.9,0M483.6,291.8a1.95,1.95 0 1 0 3.9,0a1.95,1.95 0 1 0 -3.9,0M484.6,291.8a1.95,1.95 0 1 0 3.9,0a1.95,1.95 0 1 0 -3.9,0M485.6,291.8a1.95,1.95 0 1 0 3.9,0a1.95,1.95 0 1 0 -3.9,0M486.6,291.8a1.95,1.95 0 1 0 3.9,0a1.95,1.95 0 1 0 -3.9,0M487.6,291.8a1.95,1.95 0 1 0 3.9,0a1.95,1.95 0 1 0 -3.9,0M488.6,291.8a1.95,1.95 0 1 0 3.9,0a1.95,1.95 0 1 0 -3.9,0M489.6,291.8a1.95,1.95 0 1 0 3.9,0a1.95,1.95 0 1 0 -3.9,0M490.6,291.8a1.95,1.95 0 1 0 3.9,0a1.95,1.95 0 1 0 -3.9,0M491.6,291.8a1.95,1.95 0 1 0 3.9,0a1.95,1.95 0 1 0 -3.9,0M492.6,291.8a1.95,1.95 0 1 0 3.9,0a1.95,1.95 0 1 0 -3.9,0M493.6,291.8a1.95,1.95 0 1 0 3.9,0a1.95,1.95 0 1 0 -3.9,0M494.6,291.8a1.95,1.95 0 1 0 3.9,0a1.95,1.95 0 1 0 -3.9,0M495.6,291.8a1.95,1.95 0 1 0 3.9,0a1.95,1.95 0 1 0 -3.9,0M496.6,291.9a1.95,1.95 0 1 0 3.9,0a1.95,1.95 0 1 0 -3.9,0M497.6,291.9a1.95,1.95 0 1 0 3.9,0a1.95,1.95 0 1 0 -3.9,0M498.6,291.9a1.95,1.95 0 1 0 3.9,0a1.95,1.95 0 1 0 -3.9,0M499.6,291.9a1.95,1.95 0 1 0 3.9,0a1.95,1.95 0 1 0 -3.9,0M500.6,291.9a1.95,1.95 0 1 0 3.9,0a1.95,1.95 0 1 0 -3.9,0M501.6,291.9a1.95,1.95 0 1 0 3.9,0a1.95,1.95 0 1 0 -3.9,0M502.6,291.9a1.95,1.95 0 1 0 3.9,0a1.95,1.95 0 1 0 -3.9,0M503.6,291.9a1.95,1.95 0 1 0 3.9,0a1.95,1.95 0 1 0 -3.9,0M504.6,291.9a1.95,1.95 0 1 0 3.9,0a1.95,1.95 0 1 0 -3.9,0M505.6,291.9a1.95,1.95 0 1 0 3.9,0a1.95,1.95 0 1 0 -3.9,0M506.6,291.9a1.95,1.95 0 1 0 3.9,0a1.95,1.95 0 1 0 -3.9,0M507.6,291.9a1.95,1.95 0 1 0 3.9,0a1.95,1.95 0 1 0 -3.9,0M508.6,291.9a1.95,1.95 0 1 0 3.9,0a1.95,1.95 0 1 0 -3.9,0M509.6,291.9a1.95,1.95 0 1 0 3.9,0a1.95,1.95 0 1 0 -3.9,0M510.6,291.9a1.95,1.95 0 1 0 3.9,0a1.95,1.95 0 1 0 -3.9,0M511.6,291.9a1.95,1.95 0 1 0 3.9,0a1.95,1.95 0 1 0 -3.9,0M512.5,291.9a1.95,1.95 0 1 0 3.9,0a1.95,1.95 0 1 0 -3.9,0M513.5,291.9a1.95,1.95 0 1 0 3.9,0a1.95,1.95 0 1 0 -3.9,0M514.5,291.9a1.95,1.95 0 1 0 3.9,0a1.95,1.95 0 1 0 -3.9,0M515.5,291.9a1.95,1.95 0 1 0 3.9,0a1.95,1.95 0 1 0 -3.9,0M516.5,291.9a1.95,1.95 0 1 0 3.9,0a1.95,1.95 0 1 0 -3.9,0M517.5,291.9a1.95,1.95 0 1 0 3.9,0a1.95,1.95 0 1 0 -3.9,0M518.5,291.9a1.95,1.95 0 1 0 3.9,0a1.95,1.95 0 1 0 -3.9,0M519.5,291.9a1.95,1.95 0 1 0 3.9,0a1.95,1.95 0 1 0 -3.9,0M520.5,291.9a1.95,1.95 0 1 0 3.9,0a1.95,1.95 0 1 0 -3.9,0M521.5,291.9a1.95,1.95 0 1 0 3.9,0a1.95,1.95 0 1 0 -3.9,0M522.5,292.0a1.95,1.95 0 1 0 3.9,0a1.95,1.95 0 1 0 -3.9,0M523.5,292.0a1.95,1.95 0 1 0 3.9,0a1.95,1.95 0 1 0 -3.9,0M524.5,292.0a1.95,1.95 0 1 0 3.9,0a1.95,1.95 0 1 0 -3.9,0M525.5,292.0a1.95,1.95 0 1 0 3.9,0a1.95,1.95 0 1 0 -3.9,0M526.5,292.0a1.95,1.95 0 1 0 3.9,0a1.95,1.95 0 1 0 -3.9,0M527.5,292.0a1.95,1.95 0 1 0 3.9,0a1.95,1.95 0 1 0 -3.9,0M528.5,292.1a1.95,1.95 0 1 0 3.9,0a1.95,1.95 0 1 0 -3.9,0M529.5,292.2a1.95,1.95 0 1 0 3.9,0a1.95,1.95 0 1 0 -3.9,0M530.5,293.3a1.95,1.95 0 1 0 3.9,0a1.95,1.95 0 1 0 -3.9,0M531.5,293.3a1.95,1.95 0 1 0 3.9,0a1.95,1.95 0 1 0 -3.9,0M532.5,293.3a1.95,1.95 0 1 0 3.9,0a1.95,1.95 0 1 0 -3.9,0M533.5,293.3a1.95,1.95 0 1 0 3.9,0a1.95,1.95 0 1 0 -3.9,0M534.5,293.3a1.95,1.95 0 1 0 3.9,0a1.95,1.95 0 1 0 -3.9,0M535.5,293.3a1.95,1.95 0 1 0 3.9,0a1.95,1.95 0 1 0 -3.9,0M536.5,293.4a1.95,1.95 0 1 0 3.9,0a1.95,1.95 0 1 0 -3.9,0M537.5,293.4a1.95,1.95 0 1 0 3.9,0a1.95,1.95 0 1 0 -3.9,0M538.5,293.4a1.95,1.95 0 1 0 3.9,0a1.95,1.95 0 1 0 -3.9,0M539.5,293.4a1.95,1.95 0 1 0 3.9,0a1.95,1.95 0 1 0 -3.9,0M540.5,293.4a1.95,1.95 0 1 0 3.9,0a1.95,1.95 0 1 0 -3.9,0M541.5,293.4a1.95,1.95 0 1 0 3.9,0a1.95,1.95 0 1 0 -3.9,0M542.5,293.4a1.95,1.95 0 1 0 3.9,0a1.95,1.95 0 1 0 -3.9,0M543.5,293.4a1.95,1.95 0 1 0 3.9,0a1.95,1.95 0 1 0 -3.9,0M544.5,293.4a1.95,1.95 0 1 0 3.9,0a1.95,1.95 0 1 0 -3.9,0M545.5,293.4a1.95,1.95 0 1 0 3.9,0a1.95,1.95 0 1 0 -3.9,0M546.5,293.4a1.95,1.95 0 1 0 3.9,0a1.95,1.95 0 1 0 -3.9,0M547.5,293.4a1.95,1.95 0 1 0 3.9,0a1.95,1.95 0 1 0 -3.9,0M548.5,293.4a1.95,1.95 0 1 0 3.9,0a1.95,1.95 0 1 0 -3.9,0M549.5,293.4a1.95,1.95 0 1 0 3.9,0a1.95,1.95 0 1 0 -3.9,0M550.5,293.4a1.95,1.95 0 1 0 3.9,0a1.95,1.95 0 1 0 -3.9,0M551.5,293.4a1.95,1.95 0 1 0 3.9,0a1.95,1.95 0 1 0 -3.9,0M552.5,293.4a1.95,1.95 0 1 0 3.9,0a1.95,1.95 0 1 0 -3.9,0M553.5,293.4a1.95,1.95 0 1 0 3.9,0a1.95,1.95 0 1 0 -3.9,0M554.5,293.4a1.95,1.95 0 1 0 3.9,0a1.95,1.95 0 1 0 -3.9,0M555.5,293.4a1.95,1.95 0 1 0 3.9,0a1.95,1.95 0 1 0 -3.9,0M556.5,293.4a1.95,1.95 0 1 0 3.9,0a1.95,1.95 0 1 0 -3.9,0M557.5,293.4a1.95,1.95 0 1 0 3.9,0a1.95,1.95 0 1 0 -3.9,0M558.5,293.4a1.95,1.95 0 1 0 3.9,0a1.95,1.95 0 1 0 -3.9,0M559.5,293.4a1.95,1.95 0 1 0 3.9,0a1.95,1.95 0 1 0 -3.9,0M560.5,293.4a1.95,1.95 0 1 0 3.9,0a1.95,1.95 0 1 0 -3.9,0M561.5,293.4a1.95,1.95 0 1 0 3.9,0a1.95,1.95 0 1 0 -3.9,0M562.5,293.4a1.95,1.95 0 1 0 3.9,0a1.95,1.95 0 1 0 -3.9,0M563.5,293.4a1.95,1.95 0 1 0 3.9,0a1.95,1.95 0 1 0 -3.9,0M564.5,293.4a1.95,1.95 0 1 0 3.9,0a1.95,1.95 0 1 0 -3.9,0M565.5,293.4a1.95,1.95 0 1 0 3.9,0a1.95,1.95 0 1 0 -3.9,0M566.5,293.4a1.95,1.95 0 1 0 3.9,0a1.95,1.95 0 1 0 -3.9,0M567.5,293.4a1.95,1.95 0 1 0 3.9,0a1.95,1.95 0 1 0 -3.9,0M568.5,293.4a1.95,1.95 0 1 0 3.9,0a1.95,1.95 0 1 0 -3.9,0M569.5,293.4a1.95,1.95 0 1 0 3.9,0a1.95,1.95 0 1 0 -3.9,0M570.5,293.4a1.95,1.95 0 1 0 3.9,0a1.95,1.95 0 1 0 -3.9,0M571.5,293.4a1.95,1.95 0 1 0 3.9,0a1.95,1.95 0 1 0 -3.9,0M572.5,293.4a1.95,1.95 0 1 0 3.9,0a1.95,1.95 0 1 0 -3.9,0M573.5,293.4a1.95,1.95 0 1 0 3.9,0a1.95,1.95 0 1 0 -3.9,0M574.5,293.4a1.95,1.95 0 1 0 3.9,0a1.95,1.95 0 1 0 -3.9,0M575.5,293.4a1.95,1.95 0 1 0 3.9,0a1.95,1.95 0 1 0 -3.9,0M576.5,293.4a1.95,1.95 0 1 0 3.9,0a1.95,1.95 0 1 0 -3.9,0M577.5,293.4a1.95,1.95 0 1 0 3.9,0a1.95,1.95 0 1 0 -3.9,0M578.5,293.4a1.95,1.95 0 1 0 3.9,0a1.95,1.95 0 1 0 -3.9,0M579.5,293.4a1.95,1.95 0 1 0 3.9,0a1.95,1.95 0 1 0 -3.9,0M580.5,293.4a1.95,1.95 0 1 0 3.9,0a1.95,1.95 0 1 0 -3.9,0M581.5,293.4a1.95,1.95 0 1 0 3.9,0a1.95,1.95 0 1 0 -3.9,0M582.5,293.4a1.95,1.95 0 1 0 3.9,0a1.95,1.95 0 1 0 -3.9,0M583.5,293.4a1.95,1.95 0 1 0 3.9,0a1.95,1.95 0 1 0 -3.9,0M584.5,293.4a1.95,1.95 0 1 0 3.9,0a1.95,1.95 0 1 0 -3.9,0M585.5,293.4a1.95,1.95 0 1 0 3.9,0a1.95,1.95 0 1 0 -3.9,0M586.5,293.4a1.95,1.95 0 1 0 3.9,0a1.95,1.95 0 1 0 -3.9,0M587.5,293.4a1.95,1.95 0 1 0 3.9,0a1.95,1.95 0 1 0 -3.9,0M588.5,293.4a1.95,1.95 0 1 0 3.9,0a1.95,1.95 0 1 0 -3.9,0M589.5,293.4a1.95,1.95 0 1 0 3.9,0a1.95,1.95 0 1 0 -3.9,0M590.5,293.4a1.95,1.95 0 1 0 3.9,0a1.95,1.95 0 1 0 -3.9,0M591.5,293.4a1.95,1.95 0 1 0 3.9,0a1.95,1.95 0 1 0 -3.9,0M592.5,293.4a1.95,1.95 0 1 0 3.9,0a1.95,1.95 0 1 0 -3.9,0M593.5,293.4a1.95,1.95 0 1 0 3.9,0a1.95,1.95 0 1 0 -3.9,0M594.5,293.4a1.95,1.95 0 1 0 3.9,0a1.95,1.95 0 1 0 -3.9,0M595.5,293.4a1.95,1.95 0 1 0 3.9,0a1.95,1.95 0 1 0 -3.9,0M596.5,293.4a1.95,1.95 0 1 0 3.9,0a1.95,1.95 0 1 0 -3.9,0M597.5,293.4a1.95,1.95 0 1 0 3.9,0a1.95,1.95 0 1 0 -3.9,0M598.5,293.4a1.95,1.95 0 1 0 3.9,0a1.95,1.95 0 1 0 -3.9,0M599.5,293.4a1.95,1.95 0 1 0 3.9,0a1.95,1.95 0 1 0 -3.9,0M600.5,293.4a1.95,1.95 0 1 0 3.9,0a1.95,1.95 0 1 0 -3.9,0M601.5,293.4a1.95,1.95 0 1 0 3.9,0a1.95,1.95 0 1 0 -3.9,0M602.5,293.4a1.95,1.95 0 1 0 3.9,0a1.95,1.95 0 1 0 -3.9,0M603.5,293.4a1.95,1.95 0 1 0 3.9,0a1.95,1.95 0 1 0 -3.9,0M604.5,293.4a1.95,1.95 0 1 0 3.9,0a1.95,1.95 0 1 0 -3.9,0M605.5,293.4a1.95,1.95 0 1 0 3.9,0a1.95,1.95 0 1 0 -3.9,0M606.5,293.4a1.95,1.95 0 1 0 3.9,0a1.95,1.95 0 1 0 -3.9,0M607.5,293.4a1.95,1.95 0 1 0 3.9,0a1.95,1.95 0 1 0 -3.9,0M608.5,293.4a1.95,1.95 0 1 0 3.9,0a1.95,1.95 0 1 0 -3.9,0M609.5,293.4a1.95,1.95 0 1 0 3.9,0a1.95,1.95 0 1 0 -3.9,0M610.5,293.4a1.95,1.95 0 1 0 3.9,0a1.95,1.95 0 1 0 -3.9,0M611.5,293.4a1.95,1.95 0 1 0 3.9,0a1.95,1.95 0 1 0 -3.9,0M612.5,293.4a1.95,1.95 0 1 0 3.9,0a1.95,1.95 0 1 0 -3.9,0M613.5,293.4a1.95,1.95 0 1 0 3.9,0a1.95,1.95 0 1 0 -3.9,0M614.5,293.4a1.95,1.95 0 1 0 3.9,0a1.95,1.95 0 1 0 -3.9,0M615.5,293.4a1.95,1.95 0 1 0 3.9,0a1.95,1.95 0 1 0 -3.9,0M616.5,293.4a1.95,1.95 0 1 0 3.9,0a1.95,1.95 0 1 0 -3.9,0M617.5,293.4a1.95,1.95 0 1 0 3.9,0a1.95,1.95 0 1 0 -3.9,0M618.5,293.4a1.95,1.95 0 1 0 3.9,0a1.95,1.95 0 1 0 -3.9,0M619.5,293.4a1.95,1.95 0 1 0 3.9,0a1.95,1.95 0 1 0 -3.9,0M620.5,293.4a1.95,1.95 0 1 0 3.9,0a1.95,1.95 0 1 0 -3.9,0M621.5,293.4a1.95,1.95 0 1 0 3.9,0a1.95,1.95 0 1 0 -3.9,0M622.5,293.4a1.95,1.95 0 1 0 3.9,0a1.95,1.95 0 1 0 -3.9,0M623.5,293.4a1.95,1.95 0 1 0 3.9,0a1.95,1.95 0 1 0 -3.9,0M624.5,293.4a1.95,1.95 0 1 0 3.9,0a1.95,1.95 0 1 0 -3.9,0M625.5,293.4a1.95,1.95 0 1 0 3.9,0a1.95,1.95 0 1 0 -3.9,0M626.5,293.4a1.95,1.95 0 1 0 3.9,0a1.95,1.95 0 1 0 -3.9,0M627.5,293.4a1.95,1.95 0 1 0 3.9,0a1.95,1.95 0 1 0 -3.9,0M628.5,293.4a1.95,1.95 0 1 0 3.9,0a1.95,1.95 0 1 0 -3.9,0M629.5,293.4a1.95,1.95 0 1 0 3.9,0a1.95,1.95 0 1 0 -3.9,0M630.5,293.4a1.95,1.95 0 1 0 3.9,0a1.95,1.95 0 1 0 -3.9,0M631.5,293.4a1.95,1.95 0 1 0 3.9,0a1.95,1.95 0 1 0 -3.9,0M632.5,293.3a1.95,1.95 0 1 0 3.9,0a1.95,1.95 0 1 0 -3.9,0M633.5,293.3a1.95,1.95 0 1 0 3.9,0a1.95,1.95 0 1 0 -3.9,0M634.5,293.3a1.95,1.95 0 1 0 3.9,0a1.95,1.95 0 1 0 -3.9,0M635.5,293.3a1.95,1.95 0 1 0 3.9,0a1.95,1.95 0 1 0 -3.9,0M636.5,293.3a1.95,1.95 0 1 0 3.9,0a1.95,1.95 0 1 0 -3.9,0M637.5,293.3a1.95,1.95 0 1 0 3.9,0a1.95,1.95 0 1 0 -3.9,0M638.5,293.3a1.95,1.95 0 1 0 3.9,0a1.95,1.95 0 1 0 -3.9,0M639.5,293.3a1.95,1.95 0 1 0 3.9,0a1.95,1.95 0 1 0 -3.9,0M640.5,293.3a1.95,1.95 0 1 0 3.9,0a1.95,1.95 0 1 0 -3.9,0M641.5,293.3a1.95,1.95 0 1 0 3.9,0a1.95,1.95 0 1 0 -3.9,0M642.5,293.3a1.95,1.95 0 1 0 3.9,0a1.95,1.95 0 1 0 -3.9,0M643.5,293.3a1.95,1.95 0 1 0 3.9,0a1.95,1.95 0 1 0 -3.9,0M644.5,293.3a1.95,1.95 0 1 0 3.9,0a1.95,1.95 0 1 0 -3.9,0M645.5,293.3a1.95,1.95 0 1 0 3.9,0a1.95,1.95 0 1 0 -3.9,0M646.5,293.3a1.95,1.95 0 1 0 3.9,0a1.95,1.95 0 1 0 -3.9,0M647.5,293.3a1.95,1.95 0 1 0 3.9,0a1.95,1.95 0 1 0 -3.9,0M648.5,293.3a1.95,1.95 0 1 0 3.9,0a1.95,1.95 0 1 0 -3.9,0M649.5,293.3a1.95,1.95 0 1 0 3.9,0a1.95,1.95 0 1 0 -3.9,0M650.5,293.3a1.95,1.95 0 1 0 3.9,0a1.95,1.95 0 1 0 -3.9,0M651.5,293.3a1.95,1.95 0 1 0 3.9,0a1.95,1.95 0 1 0 -3.9,0M652.5,293.3a1.95,1.95 0 1 0 3.9,0a1.95,1.95 0 1 0 -3.9,0M653.5,293.3a1.95,1.95 0 1 0 3.9,0a1.95,1.95 0 1 0 -3.9,0M654.5,293.3a1.95,1.95 0 1 0 3.9,0a1.95,1.95 0 1 0 -3.9,0M655.5,293.3a1.95,1.95 0 1 0 3.9,0a1.95,1.95 0 1 0 -3.9,0M656.5,293.3a1.95,1.95 0 1 0 3.9,0a1.95,1.95 0 1 0 -3.9,0M657.5,293.3a1.95,1.95 0 1 0 3.9,0a1.95,1.95 0 1 0 -3.9,0M658.5,293.3a1.95,1.95 0 1 0 3.9,0a1.95,1.95 0 1 0 -3.9,0M659.5,293.3a1.95,1.95 0 1 0 3.9,0a1.95,1.95 0 1 0 -3.9,0M660.5,293.3a1.95,1.95 0 1 0 3.9,0a1.95,1.95 0 1 0 -3.9,0M661.5,293.3a1.95,1.95 0 1 0 3.9,0a1.95,1.95 0 1 0 -3.9,0M662.5,293.3a1.95,1.95 0 1 0 3.9,0a1.95,1.95 0 1 0 -3.9,0M663.5,293.3a1.95,1.95 0 1 0 3.9,0a1.95,1.95 0 1 0 -3.9,0M664.5,293.3a1.95,1.95 0 1 0 3.9,0a1.95,1.95 0 1 0 -3.9,0M665.5,293.3a1.95,1.95 0 1 0 3.9,0a1.95,1.95 0 1 0 -3.9,0M666.5,293.3a1.95,1.95 0 1 0 3.9,0a1.95,1.95 0 1 0 -3.9,0M667.5,293.3a1.95,1.95 0 1 0 3.9,0a1.95,1.95 0 1 0 -3.9,0M668.5,293.3a1.95,1.95 0 1 0 3.9,0a1.95,1.95 0 1 0 -3.9,0M669.5,293.3a1.95,1.95 0 1 0 3.9,0a1.95,1.95 0 1 0 -3.9,0M670.5,293.3a1.95,1.95 0 1 0 3.9,0a1.95,1.95 0 1 0 -3.9,0M671.5,293.3a1.95,1.95 0 1 0 3.9,0a1.95,1.95 0 1 0 -3.9,0M672.5,293.3a1.95,1.95 0 1 0 3.9,0a1.95,1.95 0 1 0 -3.9,0M673.5,293.3a1.95,1.95 0 1 0 3.9,0a1.95,1.95 0 1 0 -3.9,0M674.5,293.3a1.95,1.95 0 1 0 3.9,0a1.95,1.95 0 1 0 -3.9,0M675.5,293.3a1.95,1.95 0 1 0 3.9,0a1.95,1.95 0 1 0 -3.9,0M676.5,293.3a1.95,1.95 0 1 0 3.9,0a1.95,1.95 0 1 0 -3.9,0M677.5,293.3a1.95,1.95 0 1 0 3.9,0a1.95,1.95 0 1 0 -3.9,0M678.5,293.3a1.95,1.95 0 1 0 3.9,0a1.95,1.95 0 1 0 -3.9,0" stroke="#1c1cd2" stroke-width="1.0"/><path d="M38.5,416.0a1.95,1.95 0 1 0 3.9,0a1.95,1.95 0 1 0 -3.9,0M39.5,416.0a1.95,1.95 0 1 0 3.9,0a1.95,1.95 0 1 0 -3.9,0M40.5,416.0a1.95,1.95 0 1 0 3.9,0a1.95,1.95 0 1 0 -3.9,0M41.5,416.0a1.95,1.95 0 1 0 3.9,0a1.95,1.95 0 1 0 -3.9,0M42.5,416.0a1.95,1.95 0 1 0 3.9,0a1.95,1.95 0 1 0 -3.9,0M43.5,416.0a1.95,1.95 0 1 0 3.9,0a1.95,1.95 0 1 0 -3.9,0M44.5,416.0a1.95,1.95 0 1 0 3.9,0a1.95,1.95 0 1 0 -3.9,0M45.5,416.0a1.95,1.95 0 1 0 3.9,0a1.95,1.95 0 1 0 -3.9,0M46.5,416.0a1.95,1.95 0 1 0 3.9,0a1.95,1.95 0 1 0 -3.9,0M47.5,416.0a1.95,1.95 0 1 0 3.9,0a1.95,1.95 0 1 0 -3.9,0M48.5,416.0a1.95,1.95 0 1 0 3.9,0a1.95,1.95 0 1 0 -3.9,0M49.5,416.0a1.95,1.95 0 1 0 3.9,0a1.95,1.95 0 1 0 -3.9,0M50.5,416.0a1.95,1.95 0 1 0 3.9,0a1.95,1.95 0 1 0 -3.9,0M51.5,416.0a1.95,1.95 0 1 0 3.9,0a1.95,1.95 0 1 0 -3.9,0M52.5,416.0a1.95,1.95 0 1 0 3.9,0a1.95,1.95 0 1 0 -3.9,0M53.5,416.0a1.95,1.95 0 1 0 3.9,0a1.95,1.95 0 1 0 -3.9,0M54.5,416.0a1.95,1.95 0 1 0 3.9,0a1.95,1.95 0 1 0 -3.9,0M55.5,416.0a1.95,1.95 0 1 0 3.9,0a1.95,1.95 0 1 0 -3.9,0M56.5,416.0a1.95,1.95 0 1 0 3.9,0a1.95,1.95 0 1 0 -3.9,0M57.5,416.0a1.95,1.95 0 1 0 3.9,0a1.95,1.95 0 1 0 -3.9,0M58.5,416.0a1.95,1.95 0 1 0 3.9,0a1.95,1.95 0 1 0 -3.9,0M59.5,416.0a1.95,1.95 0 1 0 3.9,0a1.95,1.95 0 1 0 -3.9,0M60.5,416.0a1.95,1.95 0 1 0 3.9,0a1.95,1.95 0 1 0 -3.9,0M61.5,416.0a1.95,1.95 0 1 0 3.9,0a1.95,1.95 0 1 0 -3.9,0M62.5,416.0a1.95,1.95 0 1 0 3.9,0a1.95,1.95 0 1 0 -3.9,0M63.5,416.0a1.95,1.95 0 1 0 3.9,0a1.95,1.95 0 1 0 -3.9,0M64.5,416.0a1.95,1.95 0 1 0 3.9,0a1.95,1.95 0 1 0 -3.9,0M65.5,416.0a1.95,1.95 0 1 0 3.9,0a1.95,1.95 0 1 0 -3.9,0M66.5,416.0a1.95,1.95 0 1 0 3.9,0a1.95,1.95 0 1 0 -3.9,0M67.5,416.0a1.95,1.95 0 1 0 3.9,0a1.95,1.95 0 1 0 -3.9,0M68.5,416.0a1.95,1.95 0 1 0 3.9,0a1.95,1.95 0 1 0 -3.9,0M69.5,416.0a1.95,1.95 0 1 0 3.9,0a1.95,1.95 0 1 0 -3.9,0M70.5,416.0a1.95,1.95 0 1 0 3.9,0a1.95,1.95 0 1 0 -3.9,0M71.5,416.0a1.95,1.95 0 1 0 3.9,0a1.95,1.95 0 1 0 -3.9,0M72.5,416.0a1.95,1.95 0 1 0 3.9,0a1.95,1.95 0 1 0 -3.9,0M73.5,416.0a1.95,1.95 0 1 0 3.9,0a1.95,1.95 0 1 0 -3.9,0M74.5,416.0a1.95,1.95 0 1 0 3.9,0a1.95,1.95 0 1 0 -3.9,0M75.5,416.0a1.95,1.95 0 1 0 3.9,0a1.95,1.95 0 1 0 -3.9,0M76.5,416.0a1.95,1.95 0 1 0 3.9,0a1.95,1.95 0 1 0 -3.9,0M77.5,416.0a1.95,1.95 0 1 0 3.9,0a1.95,1.95 0 1 0 -3.9,0M78.5,416.0a1.95,1.95 0 1 0 3.9,0a1.95,1.95 0 1 0 -3.9,0M79.5,416.0a1.95,1.95 0 1 0 3.9,0a1.95,1.95 0 1 0 -3.9,0M80.5,416.0a1.95,1.95 0 1 0 3.9,0a1.95,1.95 0 1 0 -3.9,0M81.5,416.0a1.95,1.95 0 1 0 3.9,0a1.95,1.95 0 1 0 -3.9,0M82.5,416.0a1.95,1.95 0 1 0 3.9,0a1.95,1.95 0 1 0 -3.9,0M83.5,416.0a1.95,1.95 0 1 0 3.9,0a1.95,1.95 0 1 0 -3.9,0M84.5,416.0a1.95,1.95 0 1 0 3.9,0a1.95,1.95 0 1 0 -3.9,0M85.5,416.0a1.95,1.95 0 1 0 3.9,0a1.95,1.95 0 1 0 -3.9,0M86.5,416.0a1.95,1.95 0 1 0 3.9,0a1.95,1.95 0 1 0 -3.9,0M87.5,416.0a1.95,1.95 0 1 0 3.9,0a1.95,1.95 0 1 0 -3.9,0M88.5,416.0a1.95,1.95 0 1 0 3.9,0a1.95,1.95 0 1 0 -3.9,0M89.5,416.0a1.95,1.95 0 1 0 3.9,0a1.95,1.95 0 1 0 -3.9,0M90.5,416.0a1.95,1.95 0 1 0 3.9,0a1.95,1.95 0 1 0 -3.9,0M91.5,416.0a1.95,1.95 0 1 0 3.9,0a1.95,1.95 0 1 0 -3.9,0M92.5,416.0a1.95,1.95 0 1 0 3.9,0a1.95,1.95 0 1 0 -3.9,0M93.5,416.0a1.95,1.95 0 1 0 3.9,0a1.95,1.95 0 1 0 -3.9,0M94.5,416.0a1.95,1.95 0 1 0 3.9,0a1.95,1.95 0 1 0 -3.9,0M95.5,416.0a1.95,1.95 0 1 0 3.9,0a1.95,1.95 0 1 0 -3.9,0M96.5,416.0a1.95,1.95 0 1 0 3.9,0a1.95,1.95 0 1 0 -3.9,0M97.5,416.0a1.95,1.95 0 1 0 3.9,0a1.95,1.95 0 1 0 -3.9,0M98.5,416.0a1.95,1.95 0 1 0 3.9,0a1.95,1.95 0 1 0 -3.9,0M99.5,415.9a1.95,1.95 0 1 0 3.9,0a1.95,1.95 0 1 0 -3.9,0M100.5,415.9a1.95,1.95 0 1 0 3.9,0a1.95,1.95 0 1 0 -3.9,0M101.5,415.9a1.95,1.95 0 1 0 3.9,0a1.95,1.95 0 1 0 -3.9,0M102.5,415.9a1.95,1.95 0 1 0 3.9,0a1.95,1.95 0 1 0 -3.9,0M103.5,415.9a1.95,1.95 0 1 0 3.9,0a1.95,1.95 0 1 0 -3.9,0M104.5,415.9a1.95,1.95 0 1 0 3.9,0a1.95,1.95 0 1 0 -3.9,0M105.5,415.9a1.95,1.95 0 1 0 3.9,0a1.95,1.95 0 1 0 -3.9,0M106.5,415.9a1.95,1.95 0 1 0 3.9,0a1.95,1.95 0 1 0 -3.9,0M107.5,415.9a1.95,1.95 0 1 0 3.9,0a1.95,1.95 0 1 0 -3.9,0M108.5,415.9a1.95,1.95 0 1 0 3.9,0a1.95,1.95 0 1 0 -3.9,0M109.5,415.9a1.95,1.95 0 1 0 3.9,0a1.95,1.95 0 1 0 -3.9,0M110.5,415.9a1.95,1.95 0 1 0 3.9,0a1.95,1.95 0 1 0 -3.9,0M111.5,415.9a1.95,1.95 0 1 0 3.9,0a1.95,1.95 0 1 0 -3.9,0M112.5,415.9a1.95,1.95 0 1 0 3.9,0a1.95,1.95 0 1 0 -3.9,0M113.5,415.9a1.95,1.95 0 1 0 3.9,0a1.95,1.95 0 1 0 -3.9,0M114.5,415.9a1.95,1.95 0 1 0 3.9,0a1.95,1.95 0 1 0 -3.9,0M115.5,416.0a1.95,1.95 0 1 0 3.9,0a1.95,1.95 0 1 0 -3.9,0M116.5,416.0a1.95,1.95 0 1 0 3.9,0a1.95,1.95 0 1 0 -3.9,0M117.5,416.0a1.95,1.95 0 1 0 3.9,0a1.95,1.95 0 1 0 -3.9,0M118.5,416.0a1.95,1.95 0 1 0 3.9,0a1.95,1.95 0 1 0 -3.9,0M119.5,416.0a1.95,1.95 0 1 0 3.9,0a1.95,1.95 0 1 0 -3.9,0M120.5,416.0a1.95,1.95 0 1 0 3.9,0a1.95,1.95 0 1 0 -3.9,0M121.5,416.0a1.95,1.95 0 1 0 3.9,0a1.95,1.95 0 1 0 -3.9,0M122.5,416.0a1.95,1.95 0 1 0 3.9,0a1.95,1.95 0 1 0 -3.9,0M123.5,416.0a1.95,1.95 0 1 0 3.9,0a1.95,1.95 0 1 0 -3.9,0M124.5,416.0a1.95,1.95 0 1 0 3.9,0a1.95,1.95 0 1 0 -3.9,0M125.5,416.0a1.95,1.95 0 1 0 3.9,0a1.95,1.95 0 1 0 -3.9,0M126.5,416.0a1.95,1.95 0 1 0 3.9,0a1.95,1.95 0 1 0 -3.9,0M127.5,416.0a1.95,1.95 0 1 0 3.9,0a1.95,1.95 0 1 0 -3.9,0M128.6,416.0a1.95,1.95 0 1 0 3.9,0a1.95,1.95 0 1 0 -3.9,0M129.6,416.0a1.95,1.95 0 1 0 3.9,0a1.95,1.95 0 1 0 -3.9,0M130.6,416.0a1.95,1.95 0 1 0 3.9,0a1.95,1.95 0 1 0 -3.9,0M131.6,416.0a1.95,1.95 0 1 0 3.9,0a1.95,1.95 0 1 0 -3.9,0M132.6,416.0a1.95,1.95 0 1 0 3.9,0a1.95,1.95 0 1 0 -3.9,0M133.6,416.0a1.95,1.95 0 1 0 3.9,0a1.95,1.95 0 1 0 -3.9,0M134.6,416.0a1.95,1.95 0 1 0 3.9,0a1.95,1.95 0 1 0 -3.9,0M135.6,416.0a1.95,1.95 0 1 0 3.9,0a1.95,1.95 0 1 0 -3.9,0M136.6,416.0a1.95,1.95 0 1 0 3.9,0a1.95,1.95 0 1 0 -3.9,0M137.6,416.0a1.95,1.95 0 1 0 3.9,0a1.95,1.95 0 1 0 -3.9,0M138.6,416.0a1.95,1.95 0 1 0 3.9,0a1.95,1.95 0 1 0 -3.9,0M139.6,416.0a1.95,1.95 0 1 0 3.9,0a1.95,1.95 0 1 0 -3.9,0M140.6,416.0a1.95,1.95 0 1 0 3.9,0a1.95,1.95 0 1 0 -3.9,0M141.6,416.1a1.95,1.95 0 1 0 3.9,0a1.95,1.95 0 1 0 -3.9,0M142.6,416.1a1.95,1.95 0 1 0 3.9,0a1.95,1.95 0 1 0 -3.9,0M143.6,416.1a1.95,1.95 0 1 0 3.9,0a1.95,1.95 0 1 0 -3.9,0M144.6,416.8a1.95,1.95 0 1 0 3.9,0a1.95,1.95 0 1 0 -3.9,0M145.6,416.8a1.95,1.95 0 1 0 3.9,0a1.95,1.95 0 1 0 -3.9,0M146.6,416.8a1.95,1.95 0 1 0 3.9,0a1.95,1.95 0 1 0 -3.9,0M147.6,416.8a1.95,1.95 0 1 0 3.9,0a1.95,1.95 0 1 0 -3.9,0M148.6,416.8a1.95,1.95 0 1 0 3.9,0a1.95,1.95 0 1 0 -3.9,0M149.6,416.8a1.95,1.95 0 1 0 3.9,0a1.95,1.95 0 1 0 -3.9,0M150.6,416.8a1.95,1.95 0 1 0 3.9,0a1.95,1.95 0 1 0 -3.9,0M151.6,416.8a1.95,1.95 0 1 0 3.9,0a1.95,1.95 0 1 0 -3.9,0M152.6,416.8a1.95,1.95 0 1 0 3.9,0a1.95,1.95 0 1 0 -3.9,0M153.6,416.8a1.95,1.95 0 1 0 3.9,0a1.95,1.95 0 1 0 -3.9,0M154.6,416.8a1.95,1.95 0 1 0 3.9,0a1.95,1.95 0 1 0 -3.9,0M155.6,416.7a1.95,1.95 0 1 0 3.9,0a1.95,1.95 0 1 0 -3.9,0M156.6,416.7a1.95,1.95 0 1 0 3.9,0a1.95,1.95 0 1 0 -3.9,0M157.6,416.7a1.95,1.95 0 1 0 3.9,0a1.95,1.95 0 1 0 -3.9,0M158.6,416.0a1.95,1.95 0 1 0 3.9,0a1.95,1.95 0 1 0 -3.9,0M159.6,416.0a1.95,1.95 0 1 0 3.9,0a1.95,1.95 0 1 0 -3.9,0M160.6,416.0a1.95,1.95 0 1 0 3.9,0a1.95,1.95 0 1 0 -3.9,0M161.6,416.0a1.95,1.95 0 1 0 3.9,0a1.95,1.95 0 1 0 -3.9,0M162.6,416.0a1.95,1.95 0 1 0 3.9,0a1.95,1.95 0 1 0 -3.9,0M163.6,415.9a1.95,1.95 0 1 0 3.9,0a1.95,1.95 0 1 0 -3.9,0M164.6,415.9a1.95,1.95 0 1 0 3.9,0a1.95,1.95 0 1 0 -3.9,0M165.6,415.9a1.95,1.95 0 1 0 3.9,0a1.95,1.95 0 1 0 -3.9,0M166.6,415.9a1.95,1.95 0 1 0 3.9,0a1.95,1.95 0 1 0 -3.9,0M167.6,415.9a1.95,1.95 0 1 0 3.9,0a1.95,1.95 0 1 0 -3.9,0M168.6,415.9a1.95,1.95 0 1 0 3.9,0a1.95,1.95 0 1 0 -3.9,0M169.6,415.9a1.95,1.95 0 1 0 3.9,0a1.95,1.95 0 1 0 -3.9,0M170.6,415.9a1.95,1.95 0 1 0 3.9,0a1.95,1.95 0 1 0 -3.9,0M171.6,415.9a1.95,1.95 0 1 0 3.9,0a1.95,1.95 0 1 0 -3.9,0M172.6,415.9a1.95,1.95 0 1 0 3.9,0a1.95,1.95 0 1 0 -3.9,0M173.6,415.9a1.95,1.95 0 1 0 3.9,0a1.95,1.95 0 1 0 -3.9,0M174.6,415.9a1.95,1.95 0 1 0 3.9,0a1.95,1.95 0 1 0 -3.9,0M175.6,415.9a1.95,1.95 0 1 0 3.9,0a1.95,1.95 0 1 0 -3.9,0M176.6,415.9a1.95,1.95 0 1 0 3.9,0a1.95,1.95 0 1 0 -3.9,0M177.6,415.9a1.95,1.95 0 1 0 3.9,0a1.95,1.95 0 1 0 -3.9,0M178.6,415.8a1.95,1.95 0 1 0 3.9,0a1.95,1.95 0 1 0 -3.9,0M179.6,415.8a1.95,1.95 0 1 0 3.9,0a1.95,1.95 0 1 0 -3.9,0M180.6,415.8a1.95,1.95 0 1 0 3.9,0a1.95,1.95 0 1 0 -3.9,0M181.6,415.8a1.95,1.95 0 1 0 3.9,0a1.95,1.95 0 1 0 -3.9,0M182.6,415.8a1.95,1.95 0 1 0 3.9,0a1.95,1.95 0 1 0 -3.9,0M183.6,415.8a1.95,1.95 0 1 0 3.9,0a1.95,1.95 0 1 0 -3.9,0M184.6,415.8a1.95,1.95 0 1 0 3.9,0a1.95,1.95 0 1 0 -3.9,0M185.6,415.8a1.95,1.95 0 1 0 3.9,0a1.95,1.95 0 1 0 -3.9,0M186.6,415.8a1.95,1.95 0 1 0 3.9,0a1.95,1.95 0 1 0 -3.9,0M187.6,415.8a1.95,1.95 0 1 0 3.9,0a1.95,1.95 0 1 0 -3.9,0M188.6,415.8a1.95,1.95 0 1 0 3.9,0a1.95,1.95 0 1 0 -3.9,0M189.6,415.8a1.95,1.95 0 1 0 3.9,0a1.95,1.95 0 1 0 -3.9,0M190.6,415.8a1.95,1.95 0 1 0 3.9,0a1.95,1.95 0 1 0 -3.9,0M191.6,415.8a1.95,1.95 0 1 0 3.9,0a1.95,1.95 0 1 0 -3.9,0M192.6,415.8a1.95,1.95 0 1 0 3.9,0a1.95,1.95 0 1 0 -3.9,0M193.6,415.8a1.95,1.95 0 1 0 3.9,0a1.95,1.95 0 1 0 -3.9,0M194.6,415.8a1.95,1.95 0 1 0 3.9,0a1.95,1.95 0 1 0 -3.9,0M195.6,415.8a1.95,1.95 0 1 0 3.9,0a1.95,1.95 0 1 0 -3.9,0M196.6,415.8a1.95,1.95 0 1 0 3.9,0a1.95,1.95 0 1 0 -3.9,0M197.6,415.8a1.95,1.95 0 1 0 3.9,0a1.95,1.95 0 1 0 -3.9,0M198.6,415.7a1.95,1.95 0 1 0 3.9,0a1.95,1.95 0 1 0 -3.9,0M199.6,415.7a1.95,1.95 0 1 0 3.9,0a1.95,1.95 0 1 0 -3.9,0M200.6,415.7a1.95,1.95 0 1 0 3.9,0a1.95,1.95 0 1 0 -3.9,0M201.6,415.7a1.95,1.95 0 1 0 3.9,0a1.95,1.95 0 1 0 -3.9,0M202.6,415.7a1.95,1.95 0 1 0 3.9,0a1.95,1.95 0 1 0 -3.9,0M203.6,415.7a1.95,1.95 0 1 0 3.9,0a1.95,1.95 0 1 0 -3.9,0M204.6,415.7a1.95,1.95 0 1 0 3.9,0a1.95,1.95 0 1 0 -3.9,0M205.6,415.7a1.95,1.95 0 1 0 3.9,0a1.95,1.95 0 1 0 -3.9,0M206.6,415.7a1.95,1.95 0 1 0 3.9,0a1.95,1.95 0 1 0 -3.9,0M207.6,415.7a1.95,1.95 0 1 0 3.9,0a1.95,1.95 0 1 0 -3.9,0M208.6,415.7a1.95,1.95 0 1 0 3.9,0a1.95,1.95 0 1 0 -3.9,0M209.6,415.7a1.95,1.95 0 1 0 3.9,0a1.95,1.95 0 1 0 -3.9,0M210.6,415.6a1.95,1.95 0 1 0 3.9,0a1.95,1.95 0 1 0 -3.9,0M211.6,415.6a1.95,1.95 0 1 0 3.9,0a1.95,1.95 0 1 0 -3.9,0M212.6,415.6a1.95,1.95 0 1 0 3.9,0a1.95,1.95 0 1 0 -3.9,0M213.6,415.6a1.95,1.95 0 1 0 3.9,0a1.95,1.95 0 1 0 -3.9,0M214.6,415.5a1.95,1.95 0 1 0 3.9,0a1.95,1.95 0 1 0 -3.9,0M215.6,415.5a1.95,1.95 0 1 0 3.9,0a1.95,1.95 0 1 0 -3.9,0M216.6,414.7a1.95,1.95 0 1 0 3.9,0a1.95,1.95 0 1 0 -3.9,0M217.6,414.7a1.95,1.95 0 1 0 3.9,0a1.95,1.95 0 1 0 -3.9,0M218.6,414.7a1.95,1.95 0 1 0 3.9,0a1.95,1.95 0 1 0 -3.9,0M219.6,414.7a1.95,1.95 0 1 0 3.9,0a1.95,1.95 0 1 0 -3.9,0M220.6,414.7a1.95,1.95 0 1 0 3.9,0a1.95,1.95 0 1 0 -3.9,0M221.6,414.7a1.95,1.95 0 1 0 3.9,0a1.95,1.95 0 1 0 -3.9,0M222.6,414.7a1.95,1.95 0 1 0 3.9,0a1.95,1.95 0 1 0 -3.9,0M223.6,414.7a1.95,1.95 0 1 0 3.9,0a1.95,1.95 0 1 0 -3.9,0M224.6,414.7a1.95,1.95 0 1 0 3.9,0a1.95,1.95 0 1 0 -3.9,0M225.6,414.7a1.95,1.95 0 1 0 3.9,0a1.95,1.95 0 1 0 -3.9,0M226.6,414.7a1.95,1.95 0 1 0 3.9,0a1.95,1.95 0 1 0 -3.9,0M227.6,414.7a1.95,1.95 0 1 0 3.9,0a1.95,1.95 0 1 0 -3.9,0M228.6,414.7a1.95,1.95 0 1 0 3.9,0a1.95,1.95 0 1 0 -3.9,0M229.6,414.7a1.95,1.95 0 1 0 3.9,0a1.95,1.95 0 1 0 -3.9,0M230.6,414.7a1.95,1.95 0 1 0 3.9,0a1.95,1.95 0 1 0 -3.9,0M231.6,414.7a1.95,1.95 0 1 0 3.9,0a1.95,1.95 0 1 0 -3.9,0M232.6,414.7a1.95,1.95 0 1 0 3.9,0a1.95,1.95 0 1 0 -3.9,0M233.6,414.7a1.95,1.95 0 1 0 3.9,0a1.95,1.95 0 1 0 -3.9,0M234.6,414.6a1.95,1.95 0 1 0 3.9,0a1.95,1.95 0 1 0 -3.9,0M235.6,414.5a1.95,1.95 0 1 0 3.9,0a1.95,1.95 0 1 0 -3.9,0M236.6,413.4a1.95,1.95 0 1 0 3.9,0a1.95,1.95 0 1 0 -3.9,0M237.6,412.6a1.95,1.95 0 1 0 3.9,0a1.95,1.95 0 1 0 -3.9,0M238.6,411.8a1.95,1.95 0 1 0 3.9,0a1.95,1.95 0 1 0 -3.9,0M239.6,411.0a1.95,1.95 0 1 0 3.9,0a1.95,1.95 0 1 0 -3.9,0M240.6,410.2a1.95,1.95 0 1 0 3.9,0a1.95,1.95 0 1 0 -3.9,0M241.6,409.3a1.95,1.95 0 1 0 3.9,0a1.95,1.95 0 1 0 -3.9,0M242.6,408.5a1.95,1.95 0 1 0 3.9,0a1.95,1.95 0 1 0 -3.9,0M243.6,407.7a1.95,1.95 0 1 0 3.9,0a1.95,1.95 0 1 0 -3.9,0M244.6,406.9a1.95,1.95 0 1 0 3.9,0a1.95,1.95 0 1 0 -3.9,0M245.6,406.0a1.95,1.95 0 1 0 3.9,0a1.95,1.95 0 1 0 -3.9,0M246.6,405.2a1.95,1.95 0 1 0 3.9,0a1.95,1.95 0 1 0 -3.9,0M247.6,404.3a1.95,1.95 0 1 0 3.9,0a1.95,1.95 0 1 0 -3.9,0M248.6,403.5a1.95,1.95 0 1 0 3.9,0a1.95,1.95 0 1 0 -3.9,0M249.6,402.6a1.95,1.95 0 1 0 3.9,0a1.95,1.95 0 1 0 -3.9,0M250.6,401.7a1.95,1.95 0 1 0 3.9,0a1.95,1.95 0 1 0 -3.9,0M251.6,400.8a1.95,1.95 0 1 0 3.9,0a1.95,1.95 0 1 0 -3.9,0M252.6,399.9a1.95,1.95 0 1 0 3.9,0a1.95,1.95 0 1 0 -3.9,0M253.6,399.1a1.95,1.95 0 1 0 3.9,0a1.95,1.95 0 1 0 -3.9,0M254.6,398.2a1.95,1.95 0 1 0 3.9,0a1.95,1.95 0 1 0 -3.9,0M255.6,397.3a1.95,1.95 0 1 0 3.9,0a1.95,1.95 0 1 0 -3.9,0M256.6,396.4a1.95,1.95 0 1 0 3.9,0a1.95,1.95 0 1 0 -3.9,0M257.6,395.5a1.95,1.95 0 1 0 3.9,0a1.95,1.95 0 1 0 -3.9,0M258.6,394.5a1.95,1.95 0 1 0 3.9,0a1.95,1.95 0 1 0 -3.9,0M259.6,393.6a1.95,1.95 0 1 0 3.9,0a1.95,1.95 0 1 0 -3.9,0M260.6,392.7a1.95,1.95 0 1 0 3.9,0a1.95,1.95 0 1 0 -3.9,0M261.6,391.7a1.95,1.95 0 1 0 3.9,0a1.95,1.95 0 1 0 -3.9,0M262.6,390.8a1.95,1.95 0 1 0 3.9,0a1.95,1.95 0 1 0 -3.9,0M263.6,389.8a1.95,1.95 0 1 0 3.9,0a1.95,1.95 0 1 0 -3.9,0M264.6,388.8a1.95,1.95 0 1 0 3.9,0a1.95,1.95 0 1 0 -3.9,0M265.6,387.9a1.95,1.95 0 1 0 3.9,0a1.95,1.95 0 1 0 -3.9,0M266.6,386.9a1.95,1.95 0 1 0 3.9,0a1.95,1.95 0 1 0 -3.9,0M267.6,385.9a1.95,1.95 0 1 0 3.9,0a1.95,1.95 0 1 0 -3.9,0M268.6,385.1a1.95,1.95 0 1 0 3.9,0a1.95,1.95 0 1 0 -3.9,0M269.6,384.2a1.95,1.95 0 1 0 3.9,0a1.95,1.95 0 1 0 -3.9,0M270.6,383.4a1.95,1.95 0 1 0 3.9,0a1.95,1.95 0 1 0 -3.9,0M271.6,382.7a1.95,1.95 0 1 0 3.9,0a1.95,1.95 0 1 0 -3.9,0M272.6,381.9a1.95,1.95 0 1 0 3.9,0a1.95,1.95 0 1 0 -3.9,0M273.6,381.1a1.95,1.95 0 1 0 3.9,0a1.95,1.95 0 1 0 -3.9,0M274.6,380.3a1.95,1.95 0 1 0 3.9,0a1.95,1.95 0 1 0 -3.9,0M275.6,379.6a1.95,1.95 0 1 0 3.9,0a1.95,1.95 0 1 0 -3.9,0M276.6,378.8a1.95,1.95 0 1 0 3.9,0a1.95,1.95 0 1 0 -3.9,0M277.6,378.1a1.95,1.95 0 1 0 3.9,0a1.95,1.95 0 1 0 -3.9,0M278.6,377.3a1.95,1.95 0 1 0 3.9,0a1.95,1.95 0 1 0 -3.9,0M279.6,376.6a1.95,1.95 0 1 0 3.9,0a1.95,1.95 0 1 0 -3.9,0M280.6,375.9a1.95,1.95 0 1 0 3.9,0a1.95,1.95 0 1 0 -3.9,0M281.6,375.2a1.95,1.95 0 1 0 3.9,0a1.95,1.95 0 1 0 -3.9,0M282.6,374.5a1.95,1.95 0 1 0 3.9,0a1.95,1.95 0 1 0 -3.9,0M283.6,373.7a1.95,1.95 0 1 0 3.9,0a1.95,1.95 0 1 0 -3.9,0M284.6,372.9a1.95,1.95 0 1 0 3.9,0a1.95,1.95 0 1 0 -3.9,0M285.6,372.2a1.95,1.95 0 1 0 3.9,0a1.95,1.95 0 1 0 -3.9,0M286.6,371.4a1.95,1.95 0 1 0 3.9,0a1.95,1.95 0 1 0 -3.9,0M287.6,370.5a1.95,1.95 0 1 0 3.9,0a1.95,1.95 0 1 0 -3.9,0M288.6,369.7a1.95,1.95 0 1 0 3.9,0a1.95,1.95 0 1 0 -3.9,0M289.6,368.8a1.95,1.95 0 1 0 3.9,0a1.95,1.95 0 1 0 -3.9,0M290.6,367.9a1.95,1.95 0 1 0 3.9,0a1.95,1.95 0 1 0 -3.9,0M291.6,366.9a1.95,1.95 0 1 0 3.9,0a1.95,1.95 0 1 0 -3.9,0M292.6,366.0a1.95,1.95 0 1 0 3.9,0a1.95,1.95 0 1 0 -3.9,0M293.6,365.0a1.95,1.95 0 1 0 3.9,0a1.95,1.95 0 1 0 -3.9,0M294.6,364.1a1.95,1.95 0 1 0 3.9,0a1.95,1.95 0 1 0 -3.9,0M295.6,363.1a1.95,1.95 0 1 0 3.9,0a1.95,1.95 0 1 0 -3.9,0M296.6,362.2a1.95,1.95 0 1 0 3.9,0a1.95,1.95 0 1 0 -3.9,0M297.6,361.1a1.95,1.95 0 1 0 3.9,0a1.95,1.95 0 1 0 -3.9,0M298.6,360.1a1.95,1.95 0 1 0 3.9,0a1.95,1.95 0 1 0 -3.9,0M299.6,358.9a1.95,1.95 0 1 0 3.9,0a1.95,1.95 0 1 0 -3.9,0M300.6,357.7a1.95,1.95 0 1 0 3.9,0a1.95,1.95 0 1 0 -3.9,0M301.6,356.5a1.95,1.95 0 1 0 3.9,0a1.95,1.95 0 1 0 -3.9,0M302.6,355.3a1.95,1.95 0 1 0 3.9,0a1.95,1.95 0 1 0 -3.9,0M303.6,354.1a1.95,1.95 0 1 0 3.9,0a1.95,1.95 0 1 0 -3.9,0M304.6,352.9a1.95,1.95 0 1 0 3.9,0a1.95,1.95 0 1 0 -3.9,0M305.6,351.6a1.95,1.95 0 1 0 3.9,0a1.95,1.95 0 1 0 -3.9,0M306.6,350.3a1.95,1.95 0 1 0 3.9,0a1.95,1.95 0 1 0 -3.9,0M307.6,349.0a1.95,1.95 0 1 0 3.9,0a1.95,1.95 0 1 0 -3.9,0M308.6,347.7a1.95,1.95 0 1 0 3.9,0a1.95,1.95 0 1 0 -3.9,0M309.6,346.4a1.95,1.95 0 1 0 3.9,0a1.95,1.95 0 1 0 -3.9,0M310.6,345.1a1.95,1.95 0 1 0 3.9,0a1.95,1.95 0 1 0 -3.9,0M311.6,343.7a1.95,1.95 0 1 0 3.9,0a1.95,1.95 0 1 0 -3.9,0M312.6,342.4a1.95,1.95 0 1 0 3.9,0a1.95,1.95 0 1 0 -3.9,0M313.6,341.0a1.95,1.95 0 1 0 3.9,0a1.95,1.95 0 1 0 -3.9,0M314.6,339.7a1.95,1.95 0 1 0 3.9,0a1.95,1.95 0 1 0 -3.9,0M315.6,338.3a1.95,1.95 0 1 0 3.9,0a1.95,1.95 0 1 0 -3.9,0M316.6,336.9a1.95,1.95 0 1 0 3.9,0a1.95,1.95 0 1 0 -3.9,0M317.6,335.5a1.95,1.95 0 1 0 3.9,0a1.95,1.95 0 1 0 -3.9,0M318.6,334.1a1.95,1.95 0 1 0 3.9,0a1.95,1.95 0 1 0 -3.9,0M319.6,332.7a1.95,1.95 0 1 0 3.9,0a1.95,1.95 0 1 0 -3.9,0M320.6,331.3a1.95,1.95 0 1 0 3.9,0a1.95,1.95 0 1 0 -3.9,0M321.6,329.8a1.95,1.95 0 1 0 3.9,0a1.95,1.95 0 1 0 -3.9,0M322.6,328.4a1.95,1.95 0 1 0 3.9,0a1.95,1.95 0 1 0 -3.9,0M323.6,327.0a1.95,1.95 0 1 0 3.9,0a1.95,1.95 0 1 0 -3.9,0M324.6,325.5a1.95,1.95 0 1 0 3.9,0a1.95,1.95 0 1 0 -3.9,0M325.6,324.0a1.95,1.95 0 1 0 3.9,0a1.95,1.95 0 1 0 -3.9,0M326.6,322.6a1.95,1.95 0 1 0 3.9,0a1.95,1.95 0 1 0 -3.9,0M327.6,321.2a1.95,1.95 0 1 0 3.9,0a1.95,1.95 0 1 0 -3.9,0M328.6,319.8a1.95,1.95 0 1 0 3.9,0a1.95,1.95 0 1 0 -3.9,0M329.6,318.6a1.95,1.95 0 1 0 3.9,0a1.95,1.95 0 1 0 -3.9,0M330.6,317.4a1.95,1.95 0 1 0 3.9,0a1.95,1.95 0 1 0 -3.9,0M331.6,316.2a1.95,1.95 0 1 0 3.9,0a1.95,1.95 0 1 0 -3.9,0M332.6,315.1a1.95,1.95 0 1 0 3.9,0a1.95,1.95 0 1 0 -3.9,0M333.6,314.0a1.95,1.95 0 1 0 3.9,0a1.95,1.95 0 1 0 -3.9,0M334.6,312.9a1.95,1.95 0 1 0 3.9,0a1.95,1.95 0 1 0 -3.9,0M335.6,311.9a1.95,1.95 0 1 0 3.9,0a1.95,1.95 0 1 0 -3.9,0M336.6,310.9a1.95,1.95 0 1 0 3.9,0a1.95,1.95 0 1 0 -3.9,0M337.6,310.0a1.95,1.95 0 1 0 3.9,0a1.95,1.95 0 1 0 -3.9,0M338.6,309.0a1.95,1.95 0 1 0 3.9,0a1.95,1.95 0 1 0 -3.9,0M339.6,308.1a1.95,1.95 0 1 0 3.9,0a1.95,1.95 0 1 0 -3.9,0M340.6,307.2a1.95,1.95 0 1 0 3.9,0a1.95,1.95 0 1 0 -3.9,0M341.6,306.3a1.95,1.95 0 1 0 3.9,0a1.95,1.95 0 1 0 -3.9,0M342.6,305.4a1.95,1.95 0 1 0 3.9,0a1.95,1.95 0 1 0 -3.9,0M343.6,304.5a1.95,1.95 0 1 0 3.9,0a1.95,1.95 0 1 0 -3.9,0M344.6,303.6a1.95,1.95 0 1 0 3.9,0a1.95,1.95 0 1 0 -3.9,0M345.6,302.6a1.95,1.95 0 1 0 3.9,0a1.95,1.95 0 1 0 -3.9,0M346.6,301.8a1.95,1.95 0 1 0 3.9,0a1.95,1.95 0 1 0 -3.9,0M347.6,301.2a1.95,1.95 0 1 0 3.9,0a1.95,1.95 0 1 0 -3.9,0M348.6,300.8a1.95,1.95 0 1 0 3.9,0a1.95,1.95 0 1 0 -3.9,0M349.6,300.6a1.95,1.95 0 1 0 3.9,0a1.95,1.95 0 1 0 -3.9,0M350.6,300.4a1.95,1.95 0 1 0 3.9,0a1.95,1.95 0 1 0 -3.9,0M351.6,300.3a1.95,1.95 0 1 0 3.9,0a1.95,1.95 0 1 0 -3.9,0M352.6,300.3a1.95,1.95 0 1 0 3.9,0a1.95,1.95 0 1 0 -3.9,0M353.6,300.2a1.95,1.95 0 1 0 3.9,0a1.95,1.95 0 1 0 -3.9,0M354.6,300.2a1.95,1.95 0 1 0 3.9,0a1.95,1.95 0 1 0 -3.9,0M355.6,300.2a1.95,1.95 0 1 0 3.9,0a1.95,1.95 0 1 0 -3.9,0M356.6,300.1a1.95,1.95 0 1 0 3.9,0a1.95,1.95 0 1 0 -3.9,0M357.6,300.2a1.95,1.95 0 1 0 3.9,0a1.95,1.95 0 1 0 -3.9,0M358.6,300.2a1.95,1.95 0 1 0 3.9,0a1.95,1.95 0 1 0 -3.9,0M359.6,300.4a1.95,1.95 0 1 0 3.9,0a1.95,1.95 0 1 0 -3.9,0M360.6,300.7a1.95,1.95 0 1 0 3.9,0a1.95,1.95 0 1 0 -3.9,0M361.6,301.1a1.95,1.95 0 1 0 3.9,0a1.95,1.95 0 1 0 -3.9,0M362.6,301.7a1.95,1.95 0 1 0 3.9,0a1.95,1.95 0 1 0 -3.9,0M363.6,302.4a1.95,1.95 0 1 0 3.9,0a1.95,1.95 0 1 0 -3.9,0M364.6,303.1a1.95,1.95 0 1 0 3.9,0a1.95,1.95 0 1 0 -3.9,0M365.6,303.9a1.95,1.95 0 1 0 3.9,0a1.95,1.95 0 1 0 -3.9,0M366.6,304.8a1.95,1.95 0 1 0 3.9,0a1.95,1.95 0 1 0 -3.9,0M367.6,305.7a1.95,1.95 0 1 0 3.9,0a1.95,1.95 0 1 0 -3.9,0M368.6,306.9a1.95,1.95 0 1 0 3.9,0a1.95,1.95 0 1 0 -3.9,0M369.6,308.2a1.95,1.95 0 1 0 3.9,0a1.95,1.95 0 1 0 -3.9,0M370.6,309.6a1.95,1.95 0 1 0 3.9,0a1.95,1.95 0 1 0 -3.9,0M371.6,311.2a1.95,1.95 0 1 0 3.9,0a1.95,1.95 0 1 0 -3.9,0M372.6,312.9a1.95,1.95 0 1 0 3.9,0a1.95,1.95 0 1 0 -3.9,0M373.6,315.0a1.95,1.95 0 1 0 3.9,0a1.95,1.95 0 1 0 -3.9,0M374.6,317.7a1.95,1.95 0 1 0 3.9,0a1.95,1.95 0 1 0 -3.9,0M375.6,321.3a1.95,1.95 0 1 0 3.9,0a1.95,1.95 0 1 0 -3.9,0M376.6,325.6a1.95,1.95 0 1 0 3.9,0a1.95,1.95 0 1 0 -3.9,0M377.6,330.0a1.95,1.95 0 1 0 3.9,0a1.95,1.95 0 1 0 -3.9,0M378.6,333.7a1.95,1.95 0 1 0 3.9,0a1.95,1.95 0 1 0 -3.9,0M379.6,336.9a1.95,1.95 0 1 0 3.9,0a1.95,1.95 0 1 0 -3.9,0M380.6,340.1a1.95,1.95 0 1 0 3.9,0a1.95,1.95 0 1 0 -3.9,0M381.6,343.4a1.95,1.95 0 1 0 3.9,0a1.95,1.95 0 1 0 -3.9,0M382.6,346.8a1.95,1.95 0 1 0 3.9,0a1.95,1.95 0 1 0 -3.9,0M383.6,350.4a1.95,1.95 0 1 0 3.9,0a1.95,1.95 0 1 0 -3.9,0M384.6,354.5a1.95,1.95 0 1 0 3.9,0a1.95,1.95 0 1 0 -3.9,0M385.6,358.4a1.95,1.95 0 1 0 3.9,0a1.95,1.95 0 1 0 -3.9,0M386.6,361.9a1.95,1.95 0 1 0 3.9,0a1.95,1.95 0 1 0 -3.9,0M387.6,365.2a1.95,1.95 0 1 0 3.9,0a1.95,1.95 0 1 0 -3.9,0M388.6,368.1a1.95,1.95 0 1 0 3.9,0a1.95,1.95 0 1 0 -3.9,0M389.6,370.5a1.95,1.95 0 1 0 3.9,0a1.95,1.95 0 1 0 -3.9,0M390.6,372.3a1.95,1.95 0 1 0 3.9,0a1.95,1.95 0 1 0 -3.9,0M391.6,373.8a1.95,1.95 0 1 0 3.9,0a1.95,1.95 0 1 0 -3.9,0M392.6,375.3a1.95,1.95 0 1 0 3.9,0a1.95,1.95 0 1 0 -3.9,0M393.6,376.8a1.95,1.95 0 1 0 3.9,0a1.95,1.95 0 1 0 -3.9,0M394.6,379.4a1.95,1.95 0 1 0 3.9,0a1.95,1.95 0 1 0 -3.9,0M395.6,381.7a1.95,1.95 0 1 0 3.9,0a1.95,1.95 0 1 0 -3.9,0M396.6,383.0a1.95,1.95 0 1 0 3.9,0a1.95,1.95 0 1 0 -3.9,0M397.6,384.1a1.95,1.95 0 1 0 3.9,0a1.95,1.95 0 1 0 -3.9,0M398.6,385.1a1.95,1.95 0 1 0 3.9,0a1.95,1.95 0 1 0 -3.9,0M399.6,385.9a1.95,1.95 0 1 0 3.9,0a1.95,1.95 0 1 0 -3.9,0M400.6,386.6a1.95,1.95 0 1 0 3.9,0a1.95,1.95 0 1 0 -3.9,0M401.6,387.2a1.95,1.95 0 1 0 3.9,0a1.95,1.95 0 1 0 -3.9,0M402.6,387.7a1.95,1.95 0 1 0 3.9,0a1.95,1.95 0 1 0 -3.9,0M403.6,388.2a1.95,1.95 0 1 0 3.9,0a1.95,1.95 0 1 0 -3.9,0M404.6,388.7a1.95,1.95 0 1 0 3.9,0a1.95,1.95 0 1 0 -3.9,0M405.6,389.1a1.95,1.95 0 1 0 3.9,0a1.95,1.95 0 1 0 -3.9,0M406.6,389.6a1.95,1.95 0 1 0 3.9,0a1.95,1.95 0 1 0 -3.9,0M407.6,390.0a1.95,1.95 0 1 0 3.9,0a1.95,1.95 0 1 0 -3.9,0M408.6,390.5a1.95,1.95 0 1 0 3.9,0a1.95,1.95 0 1 0 -3.9,0M409.6,390.9a1.95,1.95 0 1 0 3.9,0a1.95,1.95 0 1 0 -3.9,0M410.6,391.3a1.95,1.95 0 1 0 3.9,0a1.95,1.95 0 1 0 -3.9,0M411.6,391.7a1.95,1.95 0 1 0 3.9,0a1.95,1.95 0 1 0 -3.9,0M412.6,392.1a1.95,1.95 0 1 0 3.9,0a1.95,1.95 0 1 0 -3.9,0M413.6,392.5a1.95,1.95 0 1 0 3.9,0a1.95,1.95 0 1 0 -3.9,0M414.6,392.9a1.95,1.95 0 1 0 3.9,0a1.95,1.95 0 1 0 -3.9,0M415.6,393.2a1.95,1.95 0 1 0 3.9,0a1.95,1.95 0 1 0 -3.9,0M416.6,393.5a1.95,1.95 0 1 0 3.9,0a1.95,1.95 0 1 0 -3.9,0M417.6,393.7a1.95,1.95 0 1 0 3.9,0a1.95,1.95 0 1 0 -3.9,0M418.6,394.0a1.95,1.95 0 1 0 3.9,0a1.95,1.95 0 1 0 -3.9,0M419.6,394.3a1.95,1.95 0 1 0 3.9,0a1.95,1.95 0 1 0 -3.9,0M420.6,394.6a1.95,1.95 0 1 0 3.9,0a1.95,1.95 0 1 0 -3.9,0M421.6,394.9a1.95,1.95 0 1 0 3.9,0a1.95,1.95 0 1 0 -3.9,0M422.6,395.2a1.95,1.95 0 1 0 3.9,0a1.95,1.95 0 1 0 -3.9,0M423.6,395.5a1.95,1.95 0 1 0 3.9,0a1.95,1.95 0 1 0 -3.9,0M424.6,395.8a1.95,1.95 0 1 0 3.9,0a1.95,1.95 0 1 0 -3.9,0M425.6,396.1a1.95,1.95 0 1 0 3.9,0a1.95,1.95 0 1 0 -3.9,0M426.6,396.4a1.95,1.95 0 1 0 3.9,0a1.95,1.95 0 1 0 -3.9,0M427.6,396.7a1.95,1.95 0 1 0 3.9,0a1.95,1.95 0 1 0 -3.9,0M428.6,396.9a1.95,1.95 0 1 0 3.9,0a1.95,1.95 0 1 0 -3.9,0M429.6,397.2a1.95,1.95 0 1 0 3.9,0a1.95,1.95 0 1 0 -3.9,0M430.6,397.5a1.95,1.95 0 1 0 3.9,0a1.95,1.95 0 1 0 -3.9,0M431.6,397.7a1.95,1.95 0 1 0 3.9,0a1.95,1.95 0 1 0 -3.9,0M432.6,398.0a1.95,1.95 0 1 0 3.9,0a1.95,1.95 0 1 0 -3.9,0M433.6,398.3a1.95,1.95 0 1 0 3.9,0a1.95,1.95 0 1 0 -3.9,0M434.6,398.8a1.95,1.95 0 1 0 3.9,0a1.95,1.95 0 1 0 -3.9,0M435.6,399.3a1.95,1.95 0 1 0 3.9,0a1.95,1.95 0 1 0 -3.9,0M436.6,399.8a1.95,1.95 0 1 0 3.9,0a1.95,1.95 0 1 0 -3.9,0M437.6,400.4a1.95,1.95 0 1 0 3.9,0a1.95,1.95 0 1 0 -3.9,0M438.6,400.9a1.95,1.95 0 1 0 3.9,0a1.95,1.95 0 1 0 -3.9,0M439.6,401.4a1.95,1.95 0 1 0 3.9,0a1.95,1.95 0 1 0 -3.9,0M440.6,401.9a1.95,1.95 0 1 0 3.9,0a1.95,1.95 0 1 0 -3.9,0M441.6,402.3a1.95,1.95 0 1 0 3.9,0a1.95,1.95 0 1 0 -3.9,0M442.6,402.7a1.95,1.95 0 1 0 3.9,0a1.95,1.95 0 1 0 -3.9,0M443.6,403.0a1.95,1.95 0 1 0 3.9,0a1.95,1.95 0 1 0 -3.9,0M444.6,403.2a1.95,1.95 0 1 0 3.9,0a1.95,1.95 0 1 0 -3.9,0M445.6,403.9a1.95,1.95 0 1 0 3.9,0a1.95,1.95 0 1 0 -3.9,0M446.6,404.0a1.95,1.95 0 1 0 3.9,0a1.95,1.95 0 1 0 -3.9,0M447.6,404.0a1.95,1.95 0 1 0 3.9,0a1.95,1.95 0 1 0 -3.9,0M448.6,404.0a1.95,1.95 0 1 0 3.9,0a1.95,1.95 0 1 0 -3.9,0M449.6,404.1a1.95,1.95 0 1 0 3.9,0a1.95,1.95 0 1 0 -3.9,0M450.6,404.1a1.95,1.95 0 1 0 3.9,0a1.95,1.95 0 1 0 -3.9,0M451.6,404.1a1.95,1.95 0 1 0 3.9,0a1.95,1.95 0 1 0 -3.9,0M452.6,404.1a1.95,1.95 0 1 0 3.9,0a1.95,1.95 0 1 0 -3.9,0M453.6,404.1a1.95,1.95 0 1 0 3.9,0a1.95,1.95 0 1 0 -3.9,0M454.6,404.1a1.95,1.95 0 1 0 3.9,0a1.95,1.95 0 1 0 -3.9,0M455.6,404.1a1.95,1.95 0 1 0 3.9,0a1.95,1.95 0 1 0 -3.9,0M456.6,404.1a1.95,1.95 0 1 0 3.9,0a1.95,1.95 0 1 0 -3.9,0M457.6,404.1a1.95,1.95 0 1 0 3.9,0a1.95,1.95 0 1 0 -3.9,0M458.6,404.1a1.95,1.95 0 1 0 3.9,0a1.95,1.95 0 1 0 -3.9,0M459.6,404.1a1.95,1.95 0 1 0 3.9,0a1.95,1.95 0 1 0 -3.9,0M460.6,404.1a1.95,1.95 0 1 0 3.9,0a1.95,1.95 0 1 0 -3.9,0M461.6,404.1a1.95,1.95 0 1 0 3.9,0a1.95,1.95 0 1 0 -3.9,0M462.6,404.1a1.95,1.95 0 1 0 3.9,0a1.95,1.95 0 1 0 -3.9,0M463.6,404.1a1.95,1.95 0 1 0 3.9,0a1.95,1.95 0 1 0 -3.9,0M464.6,404.1a1.95,1.95 0 1 0 3.9,0a1.95,1.95 0 1 0 -3.9,0M465.6,404.1a1.95,1.95 0 1 0 3.9,0a1.95,1.95 0 1 0 -3.9,0M466.6,404.1a1.95,1.95 0 1 0 3.9,0a1.95,1.95 0 1 0 -3.9,0M467.6,404.1a1.95,1.95 0 1 0 3.9,0a1.95,1.95 0 1 0 -3.9,0M468.6,404.1a1.95,1.95 0 1 0 3.9,0a1.95,1.95 0 1 0 -3.9,0M469.6,404.0a1.95,1.95 0 1 0 3.9,0a1.95,1.95 0 1 0 -3.9,0M470.6,404.0a1.95,1.95 0 1 0 3.9,0a1.95,1.95 0 1 0 -3.9,0M471.6,404.0a1.95,1.95 0 1 0 3.9,0a1.95,1.95 0 1 0 -3.9,0M472.6,404.0a1.95,1.95 0 1 0 3.9,0a1.95,1.95 0 1 0 -3.9,0M473.6,404.0a1.95,1.95 0 1 0 3.9,0a1.95,1.95 0 1 0 -3.9,0M474.6,404.0a1.95,1.95 0 1 0 3.9,0a1.95,1.95 0 1 0 -3.9,0M475.6,404.0a1.95,1.95 0 1 0 3.9,0a1.95,1.95 0 1 0 -3.9,0M476.6,404.0a1.95,1.95 0 1 0 3.9,0a1.95,1.95 0 1 0 -3.9,0M477.6,404.0a1.95,1.95 0 1 0 3.9,0a1.95,1.95 0 1 0 -3.9,0M478.6,404.0a1.95,1.95 0 1 0 3.9,0a1.95,1.95 0 1 0 -3.9,0M479.6,404.0a1.95,1.95 0 1 0 3.9,0a1.95,1.95 0 1 0 -3.9,0M480.6,404.0a1.95,1.95 0 1 0 3.9,0a1.95,1.95 0 1 0 -3.9,0M481.6,404.0a1.95,1.95 0 1 0 3.9,0a1.95,1.95 0 1 0 -3.9,0M482.6,403.9a1.95,1.95 0 1 0 3.9,0a1.95,1.95 0 1 0 -3.9,0M483.6,403.9a1.95,1.95 0 1 0 3.9,0a1.95,1.95 0 1 0 -3.9,0M484.6,403.9a1.95,1.95 0 1 0 3.9,0a1.95,1.95 0 1 0 -3.9,0M485.6,403.9a1.95,1.95 0 1 0 3.9,0a1.95,1.95 0 1 0 -3.9,0M486.6,403.9a1.95,1.95 0 1 0 3.9,0a1.95,1.95 0 1 0 -3.9,0M487.6,403.9a1.95,1.95 0 1 0 3.9,0a1.95,1.95 0 1 0 -3.9,0M488.6,403.9a1.95,1.95 0 1 0 3.9,0a1.95,1.95 0 1 0 -3.9,0M489.6,403.9a1.95,1.95 0 1 0 3.9,0a1.95,1.95 0 1 0 -3.9,0M490.6,403.9a1.95,1.95 0 1 0 3.9,0a1.95,1.95 0 1 0 -3.9,0M491.6,403.9a1.95,1.95 0 1 0 3.9,0a1.95,1.95 0 1 0 -3.9,0M492.6,403.9a1.95,1.95 0 1 0 3.9,0a1.95,1.95 0 1 0 -3.9,0M493.6,403.9a1.95,1.95 0 1 0 3.9,0a1.95,1.95 0 1 0 -3.9,0M494.6,403.9a1.95,1.95 0 1 0 3.9,0a1.95,1.95 0 1 0 -3.9,0M495.6,403.9a1.95,1.95 0 1 0 3.9,0a1.95,1.95 0 1 0 -3.9,0M496.6,403.9a1.95,1.95 0 1 0 3.9,0a1.95,1.95 0 1 0 -3.9,0M497.6,403.9a1.95,1.95 0 1 0 3.9,0a1.95,1.95 0 1 0 -3.9,0M498.6,403.9a1.95,1.95 0 1 0 3.9,0a1.95,1.95 0 1 0 -3.9,0M499.6,403.9a1.95,1.95 0 1 0 3.9,0a1.95,1.95 0 1 0 -3.9,0M500.6,404.0a1.95,1.95 0 1 0 3.9,0a1.95,1.95 0 1 0 -3.9,0M501.6,404.0a1.95,1.95 0 1 0 3.9,0a1.95,1.95 0 1 0 -3.9,0M502.6,404.0a1.95,1.95 0 1 0 3.9,0a1.95,1.95 0 1 0 -3.9,0M503.6,404.0a1.95,1.95 0 1 0 3.9,0a1.95,1.95 0 1 0 -3.9,0M504.6,404.1a1.95,1.95 0 1 0 3.9,0a1.95,1.95 0 1 0 -3.9,0M505.6,404.1a1.95,1.95 0 1 0 3.9,0a1.95,1.95 0 1 0 -3.9,0M506.6,404.2a1.95,1.95 0 1 0 3.9,0a1.95,1.95 0 1 0 -3.9,0M507.6,404.3a1.95,1.95 0 1 0 3.9,0a1.95,1.95 0 1 0 -3.9,0M508.6,404.4a1.95,1.95 0 1 0 3.9,0a1.95,1.95 0 1 0 -3.9,0M509.6,404.5a1.95,1.95 0 1 0 3.9,0a1.95,1.95 0 1 0 -3.9,0M510.6,404.7a1.95,1.95 0 1 0 3.9,0a1.95,1.95 0 1 0 -3.9,0M511.6,405.0a1.95,1.95 0 1 0 3.9,0a1.95,1.95 0 1 0 -3.9,0M512.5,405.4a1.95,1.95 0 1 0 3.9,0a1.95,1.95 0 1 0 -3.9,0M513.5,405.7a1.95,1.95 0 1 0 3.9,0a1.95,1.95 0 1 0 -3.9,0M514.5,405.8a1.95,1.95 0 1 0 3.9,0a1.95,1.95 0 1 0 -3.9,0M515.5,405.9a1.95,1.95 0 1 0 3.9,0a1.95,1.95 0 1 0 -3.9,0M516.5,406.0a1.95,1.95 0 1 0 3.9,0a1.95,1.95 0 1 0 -3.9,0M517.5,406.1a1.95,1.95 0 1 0 3.9,0a1.95,1.95 0 1 0 -3.9,0M518.5,406.2a1.95,1.95 0 1 0 3.9,0a1.95,1.95 0 1 0 -3.9,0M519.5,406.3a1.95,1.95 0 1 0 3.9,0a1.95,1.95 0 1 0 -3.9,0M520.5,406.4a1.95,1.95 0 1 0 3.9,0a1.95,1.95 0 1 0 -3.9,0M521.5,406.4a1.95,1.95 0 1 0 3.9,0a1.95,1.95 0 1 0 -3.9,0M522.5,406.5a1.95,1.95 0 1 0 3.9,0a1.95,1.95 0 1 0 -3.9,0M523.5,406.5a1.95,1.95 0 1 0 3.9,0a1.95,1.95 0 1 0 -3.9,0M524.5,406.6a1.95,1.95 0 1 0 3.9,0a1.95,1.95 0 1 0 -3.9,0M525.5,406.7a1.95,1.95 0 1 0 3.9,0a1.95,1.95 0 1 0 -3.9,0M526.5,406.7a1.95,1.95 0 1 0 3.9,0a1.95,1.95 0 1 0 -3.9,0M527.5,406.8a1.95,1.95 0 1 0 3.9,0a1.95,1.95 0 1 0 -3.9,0M528.5,406.9a1.95,1.95 0 1 0 3.9,0a1.95,1.95 0 1 0 -3.9,0M529.5,407.0a1.95,1.95 0 1 0 3.9,0a1.95,1.95 0 1 0 -3.9,0M530.5,407.1a1.95,1.95 0 1 0 3.9,0a1.95,1.95 0 1 0 -3.9,0M531.5,407.2a1.95,1.95 0 1 0 3.9,0a1.95,1.95 0 1 0 -3.9,0M532.5,407.3a1.95,1.95 0 1 0 3.9,0a1.95,1.95 0 1 0 -3.9,0M533.5,407.4a1.95,1.95 0 1 0 3.9,0a1.95,1.95 0 1 0 -3.9,0M534.5,407.5a1.95,1.95 0 1 0 3.9,0a1.95,1.95 0 1 0 -3.9,0M535.5,407.6a1.95,1.95 0 1 0 3.9,0a1.95,1.95 0 1 0 -3.9,0M536.5,407.7a1.95,1.95 0 1 0 3.9,0a1.95,1.95 0 1 0 -3.9,0M537.5,407.8a1.95,1.95 0 1 0 3.9,0a1.95,1.95 0 1 0 -3.9,0M538.5,408.0a1.95,1.95 0 1 0 3.9,0a1.95,1.95 0 1 0 -3.9,0M539.5,408.1a1.95,1.95 0 1 0 3.9,0a1.95,1.95 0 1 0 -3.9,0M540.5,408.2a1.95,1.95 0 1 0 3.9,0a1.95,1.95 0 1 0 -3.9,0M541.5,408.3a1.95,1.95 0 1 0 3.9,0a1.95,1.95 0 1 0 -3.9,0M542.5,408.5a1.95,1.95 0 1 0 3.9,0a1.95,1.95 0 1 0 -3.9,0M543.5,408.6a1.95,1.95 0 1 0 3.9,0a1.95,1.95 0 1 0 -3.9,0M544.5,408.7a1.95,1.95 0 1 0 3.9,0a1.95,1.95 0 1 0 -3.9,0M545.5,408.9a1.95,1.95 0 1 0 3.9,0a1.95,1.95 0 1 0 -3.9,0M546.5,409.0a1.95,1.95 0 1 0 3.9,0a1.95,1.95 0 1 0 -3.9,0M547.5,409.1a1.95,1.95 0 1 0 3.9,0a1.95,1.95 0 1 0 -3.9,0M548.5,409.3a1.95,1.95 0 1 0 3.9,0a1.95,1.95 0 1 0 -3.9,0M549.5,409.4a1.95,1.95 0 1 0 3.9,0a1.95,1.95 0 1 0 -3.9,0M550.5,409.5a1.95,1.95 0 1 0 3.9,0a1.95,1.95 0 1 0 -3.9,0M551.5,409.7a1.95,1.95 0 1 0 3.9,0a1.95,1.95 0 1 0 -3.9,0M552.5,409.8a1.95,1.95 0 1 0 3.9,0a1.95,1.95 0 1 0 -3.9,0M553.5,410.0a1.95,1.95 0 1 0 3.9,0a1.95,1.95 0 1 0 -3.9,0M554.5,410.1a1.95,1.95 0 1 0 3.9,0a1.95,1.95 0 1 0 -3.9,0M555.5,410.3a1.95,1.95 0 1 0 3.9,0a1.95,1.95 0 1 0 -3.9,0M556.5,410.4a1.95,1.95 0 1 0 3.9,0a1.95,1.95 0 1 0 -3.9,0M557.5,410.6a1.95,1.95 0 1 0 3.9,0a1.95,1.95 0 1 0 -3.9,0M558.5,410.7a1.95,1.95 0 1 0 3.9,0a1.95,1.95 0 1 0 -3.9,0M559.5,410.8a1.95,1.95 0 1 0 3.9,0a1.95,1.95 0 1 0 -3.9,0M560.5,411.0a1.95,1.95 0 1 0 3.9,0a1.95,1.95 0 1 0 -3.9,0M561.5,411.1a1.95,1.95 0 1 0 3.9,0a1.95,1.95 0 1 0 -3.9,0M562.5,411.2a1.95,1.95 0 1 0 3.9,0a1.95,1.95 0 1 0 -3.9,0M563.5,411.4a1.95,1.95 0 1 0 3.9,0a1.95,1.95 0 1 0 -3.9,0M564.5,411.5a1.95,1.95 0 1 0 3.9,0a1.95,1.95 0 1 0 -3.9,0M565.5,411.6a1.95,1.95 0 1 0 3.9,0a1.95,1.95 0 1 0 -3.9,0M566.5,411.7a1.95,1.95 0 1 0 3.9,0a1.95,1.95 0 1 0 -3.9,0M567.5,411.9a1.95,1.95 0 1 0 3.9,0a1.95,1.95 0 1 0 -3.9,0M568.5,412.0a1.95,1.95 0 1 0 3.9,0a1.95,1.95 0 1 0 -3.9,0M569.5,412.1a1.95,1.95 0 1 0 3.9,0a1.95,1.95 0 1 0 -3.9,0M570.5,412.2a1.95,1.95 0 1 0 3.9,0a1.95,1.95 0 1 0 -3.9,0M571.5,412.3a1.95,1.95 0 1 0 3.9,0a1.95,1.95 0 1 0 -3.9,0M572.5,412.5a1.95,1.95 0 1 0 3.9,0a1.95,1.95 0 1 0 -3.9,0M573.5,412.6a1.95,1.95 0 1 0 3.9,0a1.95,1.95 0 1 0 -3.9,0M574.5,412.7a1.95,1.95 0 1 0 3.9,0a1.95,1.95 0 1 0 -3.9,0M575.5,412.8a1.95,1.95 0 1 0 3.9,0a1.95,1.95 0 1 0 -3.9,0M576.5,412.9a1.95,1.95 0 1 0 3.9,0a1.95,1.95 0 1 0 -3.9,0M577.5,413.1a1.95,1.95 0 1 0 3.9,0a1.95,1.95 0 1 0 -3.9,0M578.5,413.2a1.95,1.95 0 1 0 3.9,0a1.95,1.95 0 1 0 -3.9,0M579.5,413.3a1.95,1.95 0 1 0 3.9,0a1.95,1.95 0 1 0 -3.9,0M580.5,413.5a1.95,1.95 0 1 0 3.9,0a1.95,1.95 0 1 0 -3.9,0M581.5,413.7a1.95,1.95 0 1 0 3.9,0a1.95,1.95 0 1 0 -3.9,0M582.5,413.9a1.95,1.95 0 1 0 3.9,0a1.95,1.95 0 1 0 -3.9,0M583.5,414.0a1.95,1.95 0 1 0 3.9,0a1.95,1.95 0 1 0 -3.9,0M584.5,414.1a1.95,1.95 0 1 0 3.9,0a1.95,1.95 0 1 0 -3.9,0M585.5,414.2a1.95,1.95 0 1 0 3.9,0a1.95,1.95 0 1 0 -3.9,0M586.5,414.3a1.95,1.95 0 1 0 3.9,0a1.95,1.95 0 1 0 -3.9,0M587.5,414.3a1.95,1.95 0 1 0 3.9,0a1.95,1.95 0 1 0 -3.9,0M588.5,414.4a1.95,1.95 0 1 0 3.9,0a1.95,1.95 0 1 0 -3.9,0M589.5,414.4a1.95,1.95 0 1 0 3.9,0a1.95,1.95 0 1 0 -3.9,0M590.5,414.4a1.95,1.95 0 1 0 3.9,0a1.95,1.95 0 1 0 -3.9,0M591.5,414.5a1.95,1.95 0 1 0 3.9,0a1.95,1.95 0 1 0 -3.9,0M592.5,414.5a1.95,1.95 0 1 0 3.9,0a1.95,1.95 0 1 0 -3.9,0M593.5,414.5a1.95,1.95 0 1 0 3.9,0a1.95,1.95 0 1 0 -3.9,0M594.5,414.5a1.95,1.95 0 1 0 3.9,0a1.95,1.95 0 1 0 -3.9,0M595.5,414.6a1.95,1.95 0 1 0 3.9,0a1.95,1.95 0 1 0 -3.9,0M596.5,414.6a1.95,1.95 0 1 0 3.9,0a1.95,1.95 0 1 0 -3.9,0M597.5,414.6a1.95,1.95 0 1 0 3.9,0a1.95,1.95 0 1 0 -3.9,0M598.5,414.6a1.95,1.95 0 1 0 3.9,0a1.95,1.95 0 1 0 -3.9,0M599.5,414.7a1.95,1.95 0 1 0 3.9,0a1.95,1.95 0 1 0 -3.9,0M600.5,414.7a1.95,1.95 0 1 0 3.9,0a1.95,1.95 0 1 0 -3.9,0M601.5,414.7a1.95,1.95 0 1 0 3.9,0a1.95,1.95 0 1 0 -3.9,0M602.5,414.7a1.95,1.95 0 1 0 3.9,0a1.95,1.95 0 1 0 -3.9,0M603.5,414.7a1.95,1.95 0 1 0 3.9,0a1.95,1.95 0 1 0 -3.9,0M604.5,414.8a1.95,1.95 0 1 0 3.9,0a1.95,1.95 0 1 0 -3.9,0M605.5,414.8a1.95,1.95 0 1 0 3.9,0a1.95,1.95 0 1 0 -3.9,0M606.5,414.8a1.95,1.95 0 1 0 3.9,0a1.95,1.95 0 1 0 -3.9,0M607.5,414.8a1.95,1.95 0 1 0 3.9,0a1.95,1.95 0 1 0 -3.9,0M608.5,414.9a1.95,1.95 0 1 0 3.9,0a1.95,1.95 0 1 0 -3.9,0M609.5,414.9a1.95,1.95 0 1 0 3.9,0a1.95,1.95 0 1 0 -3.9,0M610.5,414.9a1.95,1.95 0 1 0 3.9,0a1.95,1.95 0 1 0 -3.9,0M611.5,415.0a1.95,1.95 0 1 0 3.9,0a1.95,1.95 0 1 0 -3.9,0M612.5,415.0a1.95,1.95 0 1 0 3.9,0a1.95,1.95 0 1 0 -3.9,0M613.5,415.8a1.95,1.95 0 1 0 3.9,0a1.95,1.95 0 1 0 -3.9,0M614.5,415.8a1.95,1.95 0 1 0 3.9,0a1.95,1.95 0 1 0 -3.9,0M615.5,415.8a1.95,1.95 0 1 0 3.9,0a1.95,1.95 0 1 0 -3.9,0M616.5,415.8a1.95,1.95 0 1 0 3.9,0a1.95,1.95 0 1 0 -3.9,0M617.5,415.8a1.95,1.95 0 1 0 3.9,0a1.95,1.95 0 1 0 -3.9,0M618.5,415.8a1.95,1.95 0 1 0 3.9,0a1.95,1.95 0 1 0 -3.9,0M619.5,415.8a1.95,1.95 0 1 0 3.9,0a1.95,1.95 0 1 0 -3.9,0M620.5,415.8a1.95,1.95 0 1 0 3.9,0a1.95,1.95 0 1 0 -3.9,0M621.5,415.8a1.95,1.95 0 1 0 3.9,0a1.95,1.95 0 1 0 -3.9,0M622.5,415.8a1.95,1.95 0 1 0 3.9,0a1.95,1.95 0 1 0 -3.9,0M623.5,415.8a1.95,1.95 0 1 0 3.9,0a1.95,1.95 0 1 0 -3.9,0M624.5,415.8a1.95,1.95 0 1 0 3.9,0a1.95,1.95 0 1 0 -3.9,0M625.5,415.9a1.95,1.95 0 1 0 3.9,0a1.95,1.95 0 1 0 -3.9,0M626.5,415.9a1.95,1.95 0 1 0 3.9,0a1.95,1.95 0 1 0 -3.9,0M627.5,415.9a1.95,1.95 0 1 0 3.9,0a1.95,1.95 0 1 0 -3.9,0M628.5,415.9a1.95,1.95 0 1 0 3.9,0a1.95,1.95 0 1 0 -3.9,0M629.5,415.9a1.95,1.95 0 1 0 3.9,0a1.95,1.95 0 1 0 -3.9,0M630.5,415.9a1.95,1.95 0 1 0 3.9,0a1.95,1.95 0 1 0 -3.9,0M631.5,415.9a1.95,1.95 0 1 0 3.9,0a1.95,1.95 0 1 0 -3.9,0M632.5,415.9a1.95,1.95 0 1 0 3.9,0a1.95,1.95 0 1 0 -3.9,0M633.5,415.9a1.95,1.95 0 1 0 3.9,0a1.95,1.95 0 1 0 -3.9,0M634.5,415.9a1.95,1.95 0 1 0 3.9,0a1.95,1.95 0 1 0 -3.9,0M635.5,415.9a1.95,1.95 0 1 0 3.9,0a1.95,1.95 0 1 0 -3.9,0M636.5,415.9a1.95,1.95 0 1 0 3.9,0a1.95,1.95 0 1 0 -3.9,0M637.5,415.9a1.95,1.95 0 1 0 3.9,0a1.95,1.95 0 1 0 -3.9,0M638.5,415.9a1.95,1.95 0 1 0 3.9,0a1.95,1.95 0 1 0 -3.9,0M639.5,415.9a1.95,1.95 0 1 0 3.9,0a1.95,1.95 0 1 0 -3.9,0M640.5,415.9a1.95,1.95 0 1 0 3.9,0a1.95,1.95 0 1 0 -3.9,0M641.5,415.9a1.95,1.95 0 1 0 3.9,0a1.95,1.95 0 1 0 -3.9,0M642.5,415.9a1.95,1.95 0 1 0 3.9,0a1.95,1.95 0 1 0 -3.9,0M643.5,415.9a1.95,1.95 0 1 0 3.9,0a1.95,1.95 0 1 0 -3.9,0M644.5,415.9a1.95,1.95 0 1 0 3.9,0a1.95,1.95 0 1 0 -3.9,0M645.5,415.9a1.95,1.95 0 1 0 3.9,0a1.95,1.95 0 1 0 -3.9,0M646.5,415.9a1.95,1.95 0 1 0 3.9,0a1.95,1.95 0 1 0 -3.9,0M647.5,415.8a1.95,1.95 0 1 0 3.9,0a1.95,1.95 0 1 0 -3.9,0M648.5,415.8a1.95,1.95 0 1 0 3.9,0a1.95,1.95 0 1 0 -3.9,0M649.5,415.8a1.95,1.95 0 1 0 3.9,0a1.95,1.95 0 1 0 -3.9,0M650.5,415.8a1.95,1.95 0 1 0 3.9,0a1.95,1.95 0 1 0 -3.9,0M651.5,415.8a1.95,1.95 0 1 0 3.9,0a1.95,1.95 0 1 0 -3.9,0M652.5,415.8a1.95,1.95 0 1 0 3.9,0a1.95,1.95 0 1 0 -3.9,0M653.5,415.8a1.95,1.95 0 1 0 3.9,0a1.95,1.95 0 1 0 -3.9,0M654.5,415.8a1.95,1.95 0 1 0 3.9,0a1.95,1.95 0 1 0 -3.9,0M655.5,415.8a1.95,1.95 0 1 0 3.9,0a1.95,1.95 0 1 0 -3.9,0M656.5,415.8a1.95,1.95 0 1 0 3.9,0a1.95,1.95 0 1 0 -3.9,0M657.5,415.8a1.95,1.95 0 1 0 3.9,0a1.95,1.95 0 1 0 -3.9,0M658.5,415.8a1.95,1.95 0 1 0 3.9,0a1.95,1.95 0 1 0 -3.9,0M659.5,415.8a1.95,1.95 0 1 0 3.9,0a1.95,1.95 0 1 0 -3.9,0M660.5,415.8a1.95,1.95 0 1 0 3.9,0a1.95,1.95 0 1 0 -3.9,0M661.5,415.8a1.95,1.95 0 1 0 3.9,0a1.95,1.95 0 1 0 -3.9,0M662.5,415.8a1.95,1.95 0 1 0 3.9,0a1.95,1.95 0 1 0 -3.9,0M663.5,415.8a1.95,1.95 0 1 0 3.9,0a1.95,1.95 0 1 0 -3.9,0M664.5,415.8a1.95,1.95 0 1 0 3.9,0a1.95,1.95 0 1 0 -3.9,0M665.5,415.8a1.95,1.95 0 1 0 3.9,0a1.95,1.95 0 1 0 -3.9,0M666.5,415.8a1.95,1.95 0 1 0 3.9,0a1.95,1.95 0 1 0 -3.9,0M667.5,415.8a1.95,1.95 0 1 0 3.9,0a1.95,1.95 0 1 0 -3.9,0M668.5,415.8a1.95,1.95 0 1 0 3.9,0a1.95,1.95 0 1 0 -3.9,0M669.5,415.8a1.95,1.95 0 1 0 3.9,0a1.95,1.95 0 1 0 -3.9,0M670.5,415.8a1.95,1.95 0 1 0 3.9,0a1.95,1.95 0 1 0 -3.9,0M671.5,415.8a1.95,1.95 0 1 0 3.9,0a1.95,1.95 0 1 0 -3.9,0M672.5,415.8a1.95,1.95 0 1 0 3.9,0a1.95,1.95 0 1 0 -3.9,0M673.5,415.8a1.95,1.95 0 1 0 3.9,0a1.95,1.95 0 1 0 -3.9,0M674.5,415.8a1.95,1.95 0 1 0 3.9,0a1.95,1.95 0 1 0 -3.9,0M675.5,415.8a1.95,1.95 0 1 0 3.9,0a1.95,1.95 0 1 0 -3.9,0M676.5,415.8a1.95,1.95 0 1 0 3.9,0a1.95,1.95 0 1 0 -3.9,0M677.5,415.8a1.95,1.95 0 1 0 3.9,0a1.95,1.95 0 1 0 -3.9,0M678.5,415.8a1.95,1.95 0 1 0 3.9,0a1.95,1.95 0 1 0 -3.9,0" stroke="#ff0000" stroke-width="1.0"/><path d="M38.5,522.3a1.95,1.95 0 1 0 3.9,0a1.95,1.95 0 1 0 -3.9,0M39.5,522.3a1.95,1.95 0 1 0 3.9,0a1.95,1.95 0 1 0 -3.9,0M40.5,522.3a1.95,1.95 0 1 0 3.9,0a1.95,1.95 0 1 0 -3.9,0M41.5,522.3a1.95,1.95 0 1 0 3.9,0a1.95,1.95 0 1 0 -3.9,0M42.5,522.3a1.95,1.95 0 1 0 3.9,0a1.95,1.95 0 1 0 -3.9,0M43.5,522.3a1.95,1.95 0 1 0 3.9,0a1.95,1.95 0 1 0 -3.9,0M44.5,522.3a1.95,1.95 0 1 0 3.9,0a1.95,1.95 0 1 0 -3.9,0M45.5,522.3a1.95,1.95 0 1 0 3.9,0a1.95,1.95 0 1 0 -3.9,0M46.5,522.3a1.95,1.95 0 1 0 3.9,0a1.95,1.95 0 1 0 -3.9,0M47.5,522.3a1.95,1.95 0 1 0 3.9,0a1.95,1.95 0 1 0 -3.9,0M48.5,522.3a1.95,1.95 0 1 0 3.9,0a1.95,1.95 0 1 0 -3.9,0M49.5,522.3a1.95,1.95 0 1 0 3.9,0a1.95,1.95 0 1 0 -3.9,0M50.5,522.3a1.95,1.95 0 1 0 3.9,0a1.95,1.95 0 1 0 -3.9,0M51.5,522.3a1.95,1.95 0 1 0 3.9,0a1.95,1.95 0 1 0 -3.9,0M52.5,522.3a1.95,1.95 0 1 0 3.9,0a1.95,1.95 0 1 0 -3.9,0M53.5,522.3a1.95,1.95 0 1 0 3.9,0a1.95,1.95 0 1 0 -3.9,0M54.5,522.3a1.95,1.95 0 1 0 3.9,0a1.95,1.95 0 1 0 -3.9,0M55.5,522.3a1.95,1.95 0 1 0 3.9,0a1.95,1.95 0 1 0 -3.9,0M56.5,522.3a1.95,1.95 0 1 0 3.9,0a1.95,1.95 0 1 0 -3.9,0M57.5,522.3a1.95,1.95 0 1 0 3.9,0a1.95,1.95 0 1 0 -3.9,0M58.5,522.3a1.95,1.95 0 1 0 3.9,0a1.95,1.95 0 1 0 -3.9,0M59.5,522.3a1.95,1.95 0 1 0 3.9,0a1.95,1.95 0 1 0 -3.9,0M60.5,522.3a1.95,1.95 0 1 0 3.9,0a1.95,1.95 0 1 0 -3.9,0M61.5,522.3a1.95,1.95 0 1 0 3.9,0a1.95,1.95 0 1 0 -3.9,0M62.5,522.3a1.95,1.95 0 1 0 3.9,0a1.95,1.95 0 1 0 -3.9,0M63.5,522.3a1.95,1.95 0 1 0 3.9,0a1.95,1.95 0 1 0 -3.9,0M64.5,522.3a1.95,1.95 0 1 0 3.9,0a1.95,1.95 0 1 0 -3.9,0M65.5,522.3a1.95,1.95 0 1 0 3.9,0a1.95,1.95 0 1 0 -3.9,0M66.5,522.3a1.95,1.95 0 1 0 3.9,0a1.95,1.95 0 1 0 -3.9,0M67.5,522.3a1.95,1.95 0 1 0 3.9,0a1.95,1.95 0 1 0 -3.9,0M68.5,522.3a1.95,1.95 0 1 0 3.9,0a1.95,1.95 0 1 0 -3.9,0M69.5,522.3a1.95,1.95 0 1 0 3.9,0a1.95,1.95 0 1 0 -3.9,0M70.5,522.3a1.95,1.95 0 1 0 3.9,0a1.95,1.95 0 1 0 -3.9,0M71.5,522.3a1.95,1.95 0 1 0 3.9,0a1.95,1.95 0 1 0 -3.9,0M72.5,522.3a1.95,1.95 0 1 0 3.9,0a1.95,1.95 0 1 0 -3.9,0M73.5,522.3a1.95,1.95 0 1 0 3.9,0a1.95,1.95 0 1 0 -3.9,0M74.5,522.3a1.95,1.95 0 1 0 3.9,0a1.95,1.95 0 1 0 -3.9,0M75.5,522.3a1.95,1.95 0 1 0 3.9,0a1.95,1.95 0 1 0 -3.9,0M76.5,522.3a1.95,1.95 0 1 0 3.9,0a1.95,1.95 0 1 0 -3.9,0M77.5,522.3a1.95,1.95 0 1 0 3.9,0a1.95,1.95 0 1 0 -3.9,0M78.5,522.3a1.95,1.95 0 1 0 3.9,0a1.95,1.95 0 1 0 -3.9,0M79.5,522.4a1.95,1.95 0 1 0 3.9,0a1.95,1.95 0 1 0 -3.9,0M80.5,522.4a1.95,1.95 0 1 0 3.9,0a1.95,1.95 0 1 0 -3.9,0M81.5,522.4a1.95,1.95 0 1 0 3.9,0a1.95,1.95 0 1 0 -3.9,0M82.5,522.4a1.95,1.95 0 1 0 3.9,0a1.95,1.95 0 1 0 -3.9,0M83.5,522.4a1.95,1.95 0 1 0 3.9,0a1.95,1.95 0 1 0 -3.9,0M84.5,522.4a1.95,1.95 0 1 0 3.9,0a1.95,1.95 0 1 0 -3.9,0M85.5,522.4a1.95,1.95 0 1 0 3.9,0a1.95,1.95 0 1 0 -3.9,0M86.5,522.4a1.95,1.95 0 1 0 3.9,0a1.95,1.95 0 1 0 -3.9,0M87.5,522.4a1.95,1.95 0 1 0 3.9,0a1.95,1.95 0 1 0 -3.9,0M88.5,522.4a1.95,1.95 0 1 0 3.9,0a1.95,1.95 0 1 0 -3.9,0M89.5,522.4a1.95,1.95 0 1 0 3.9,0a1.95,1.95 0 1 0 -3.9,0M90.5,522.4a1.95,1.95 0 1 0 3.9,0a1.95,1.95 0 1 0 -3.9,0M91.5,522.4a1.95,1.95 0 1 0 3.9,0a1.95,1.95 0 1 0 -3.9,0M92.5,522.4a1.95,1.95 0 1 0 3.9,0a1.95,1.95 0 1 0 -3.9,0M93.5,522.4a1.95,1.95 0 1 0 3.9,0a1.95,1.95 0 1 0 -3.9,0M94.5,522.4a1.95,1.95 0 1 0 3.9,0a1.95,1.95 0 1 0 -3.9,0M95.5,522.4a1.95,1.95 0 1 0 3.9,0a1.95,1.95 0 1 0 -3.9,0M96.5,522.4a1.95,1.95 0 1 0 3.9,0a1.95,1.95 0 1 0 -3.9,0M97.5,522.4a1.95,1.95 0 1 0 3.9,0a1.95,1.95 0 1 0 -3.9,0M98.5,522.4a1.95,1.95 0 1 0 3.9,0a1.95,1.95 0 1 0 -3.9,0M99.5,522.4a1.95,1.95 0 1 0 3.9,0a1.95,1.95 0 1 0 -3.9,0M100.5,522.4a1.95,1.95 0 1 0 3.9,0a1.95,1.95 0 1 0 -3.9,0M101.5,522.4a1.95,1.95 0 1 0 3.9,0a1.95,1.95 0 1 0 -3.9,0M102.5,522.4a1.95,1.95 0 1 0 3.9,0a1.95,1.95 0 1 0 -3.9,0M103.5,522.4a1.95,1.95 0 1 0 3.9,0a1.95,1.95 0 1 0 -3.9,0M104.5,522.4a1.95,1.95 0 1 0 3.9,0a1.95,1.95 0 1 0 -3.9,0M105.5,522.4a1.95,1.95 0 1 0 3.9,0a1.95,1.95 0 1 0 -3.9,0M106.5,522.4a1.95,1.95 0 1 0 3.9,0a1.95,1.95 0 1 0 -3.9,0M107.5,522.4a1.95,1.95 0 1 0 3.9,0a1.95,1.95 0 1 0 -3.9,0M108.5,522.4a1.95,1.95 0 1 0 3.9,0a1.95,1.95 0 1 0 -3.9,0M109.5,522.4a1.95,1.95 0 1 0 3.9,0a1.95,1.95 0 1 0 -3.9,0M110.5,522.4a1.95,1.95 0 1 0 3.9,0a1.95,1.95 0 1 0 -3.9,0M111.5,522.4a1.95,1.95 0 1 0 3.9,0a1.95,1.95 0 1 0 -3.9,0M112.5,522.4a1.95,1.95 0 1 0 3.9,0a1.95,1.95 0 1 0 -3.9,0M113.5,522.4a1.95,1.95 0 1 0 3.9,0a1.95,1.95 0 1 0 -3.9,0M114.5,522.4a1.95,1.95 0 1 0 3.9,0a1.95,1.95 0 1 0 -3.9,0M115.5,522.4a1.95,1.95 0 1 0 3.9,0a1.95,1.95 0 1 0 -3.9,0M116.5,522.4a1.95,1.95 0 1 0 3.9,0a1.95,1.95 0 1 0 -3.9,0M117.5,522.4a1.95,1.95 0 1 0 3.9,0a1.95,1.95 0 1 0 -3.9,0M118.5,522.4a1.95,1.95 0 1 0 3.9,0a1.95,1.95 0 1 0 -3.9,0M119.5,522.4a1.95,1.95 0 1 0 3.9,0a1.95,1.95 0 1 0 -3.9,0M120.5,522.4a1.95,1.95 0 1 0 3.9,0a1.95,1.95 0 1 0 -3.9,0M121.5,522.3a1.95,1.95 0 1 0 3.9,0a1.95,1.95 0 1 0 -3.9,0M122.5,522.3a1.95,1.95 0 1 0 3.9,0a1.95,1.95 0 1 0 -3.9,0M123.5,522.3a1.95,1.95 0 1 0 3.9,0a1.95,1.95 0 1 0 -3.9,0M124.5,522.3a1.95,1.95 0 1 0 3.9,0a1.95,1.95 0 1 0 -3.9,0M125.5,522.3a1.95,1.95 0 1 0 3.9,0a1.95,1.95 0 1 0 -3.9,0M126.5,522.3a1.95,1.95 0 1 0 3.9,0a1.95,1.95 0 1 0 -3.9,0M127.5,522.3a1.95,1.95 0 1 0 3.9,0a1.95,1.95 0 1 0 -3.9,0M128.6,522.3a1.95,1.95 0 1 0 3.9,0a1.95,1.95 0 1 0 -3.9,0M129.6,522.3a1.95,1.95 0 1 0 3.9,0a1.95,1.95 0 1 0 -3.9,0M130.6,522.3a1.95,1.95 0 1 0 3.9,0a1.95,1.95 0 1 0 -3.9,0M131.6,522.3a1.95,1.95 0 1 0 3.9,0a1.95,1.95 0 1 0 -3.9,0M132.6,522.3a1.95,1.95 0 1 0 3.9,0a1.95,1.95 0 1 0 -3.9,0M133.6,522.3a1.95,1.95 0 1 0 3.9,0a1.95,1.95 0 1 0 -3.9,0M134.6,522.3a1.95,1.95 0 1 0 3.9,0a1.95,1.95 0 1 0 -3.9,0M135.6,522.2a1.95,1.95 0 1 0 3.9,0a1.95,1.95 0 1 0 -3.9,0M136.6,522.2a1.95,1.95 0 1 0 3.9,0a1.95,1.95 0 1 0 -3.9,0M137.6,522.2a1.95,1.95 0 1 0 3.9,0a1.95,1.95 0 1 0 -3.9,0M138.6,521.4a1.95,1.95 0 1 0 3.9,0a1.95,1.95 0 1 0 -3.9,0M139.6,521.4a1.95,1.95 0 1 0 3.9,0a1.95,1.95 0 1 0 -3.9,0M140.6,521.4a1.95,1.95 0 1 0 3.9,0a1.95,1.95 0 1 0 -3.9,0M141.6,521.4a1.95,1.95 0 1 0 3.9,0a1.95,1.95 0 1 0 -3.9,0M142.6,521.4a1.95,1.95 0 1 0 3.9,0a1.95,1.95 0 1 0 -3.9,0M143.6,521.4a1.95,1.95 0 1 0 3.9,0a1.95,1.95 0 1 0 -3.9,0M144.6,521.4a1.95,1.95 0 1 0 3.9,0a1.95,1.95 0 1 0 -3.9,0M145.6,521.4a1.95,1.95 0 1 0 3.9,0a1.95,1.95 0 1 0 -3.9,0M146.6,521.4a1.95,1.95 0 1 0 3.9,0a1.95,1.95 0 1 0 -3.9,0M147.6,521.4a1.95,1.95 0 1 0 3.9,0a1.95,1.95 0 1 0 -3.9,0M148.6,521.4a1.95,1.95 0 1 0 3.9,0a1.95,1.95 0 1 0 -3.9,0M149.6,521.4a1.95,1.95 0 1 0 3.9,0a1.95,1.95 0 1 0 -3.9,0M150.6,521.4a1.95,1.95 0 1 0 3.9,0a1.95,1.95 0 1 0 -3.9,0M151.6,521.4a1.95,1.95 0 1 0 3.9,0a1.95,1.95 0 1 0 -3.9,0M152.6,521.4a1.95,1.95 0 1 0 3.9,0a1.95,1.95 0 1 0 -3.9,0M153.6,521.4a1.95,1.95 0 1 0 3.9,0a1.95,1.95 0 1 0 -3.9,0M154.6,521.4a1.95,1.95 0 1 0 3.9,0a1.95,1.95 0 1 0 -3.9,0M155.6,521.4a1.95,1.95 0 1 0 3.9,0a1.95,1.95 0 1 0 -3.9,0M156.6,521.4a1.95,1.95 0 1 0 3.9,0a1.95,1.95 0 1 0 -3.9,0M157.6,521.4a1.95,1.95 0 1 0 3.9,0a1.95,1.95 0 1 0 -3.9,0M158.6,521.4a1.95,1.95 0 1 0 3.9,0a1.95,1.95 0 1 0 -3.9,0M159.6,521.5a1.95,1.95 0 1 0 3.9,0a1.95,1.95 0 1 0 -3.9,0M160.6,521.5a1.95,1.95 0 1 0 3.9,0a1.95,1.95 0 1 0 -3.9,0M161.6,521.5a1.95,1.95 0 1 0 3.9,0a1.95,1.95 0 1 0 -3.9,0M162.6,521.5a1.95,1.95 0 1 0 3.9,0a1.95,1.95 0 1 0 -3.9,0M163.6,521.5a1.95,1.95 0 1 0 3.9,0a1.95,1.95 0 1 0 -3.9,0M164.6,521.5a1.95,1.95 0 1 0 3.9,0a1.95,1.95 0 1 0 -3.9,0M165.6,521.5a1.95,1.95 0 1 0 3.9,0a1.95,1.95 0 1 0 -3.9,0M166.6,521.5a1.95,1.95 0 1 0 3.9,0a1.95,1.95 0 1 0 -3.9,0M167.6,521.5a1.95,1.95 0 1 0 3.9,0a1.95,1.95 0 1 0 -3.9,0M168.6,521.5a1.95,1.95 0 1 0 3.9,0a1.95,1.95 0 1 0 -3.9,0M169.6,521.5a1.95,1.95 0 1 0 3.9,0a1.95,1.95 0 1 0 -3.9,0M170.6,521.5a1.95,1.95 0 1 0 3.9,0a1.95,1.95 0 1 0 -3.9,0M171.6,521.5a1.95,1.95 0 1 0 3.9,0a1.95,1.95 0 1 0 -3.9,0M172.6,521.5a1.95,1.95 0 1 0 3.9,0a1.95,1.95 0 1 0 -3.9,0M173.6,521.5a1.95,1.95 0 1 0 3.9,0a1.95,1.95 0 1 0 -3.9,0M174.6,521.5a1.95,1.95 0 1 0 3.9,0a1.95,1.95 0 1 0 -3.9,0M175.6,521.5a1.95,1.95 0 1 0 3.9,0a1.95,1.95 0 1 0 -3.9,0M176.6,521.5a1.95,1.95 0 1 0 3.9,0a1.95,1.95 0 1 0 -3.9,0M177.6,521.5a1.95,1.95 0 1 0 3.9,0a1.95,1.95 0 1 0 -3.9,0M178.6,521.5a1.95,1.95 0 1 0 3.9,0a1.95,1.95 0 1 0 -3.9,0M179.6,521.5a1.95,1.95 0 1 0 3.9,0a1.95,1.95 0 1 0 -3.9,0M180.6,521.5a1.95,1.95 0 1 0 3.9,0a1.95,1.95 0 1 0 -3.9,0M181.6,521.5a1.95,1.95 0 1 0 3.9,0a1.95,1.95 0 1 0 -3.9,0M182.6,521.4a1.95,1.95 0 1 0 3.9,0a1.95,1.95 0 1 0 -3.9,0M183.6,521.4a1.95,1.95 0 1 0 3.9,0a1.95,1.95 0 1 0 -3.9,0M184.6,521.4a1.95,1.95 0 1 0 3.9,0a1.95,1.95 0 1 0 -3.9,0M185.6,521.3a1.95,1.95 0 1 0 3.9,0a1.95,1.95 0 1 0 -3.9,0M186.6,521.1a1.95,1.95 0 1 0 3.9,0a1.95,1.95 0 1 0 -3.9,0M187.6,521.0a1.95,1.95 0 1 0 3.9,0a1.95,1.95 0 1 0 -3.9,0M188.6,520.8a1.95,1.95 0 1 0 3.9,0a1.95,1.95 0 1 0 -3.9,0M189.6,520.7a1.95,1.95 0 1 0 3.9,0a1.95,1.95 0 1 0 -3.9,0M190.6,520.5a1.95,1.95 0 1 0 3.9,0a1.95,1.95 0 1 0 -3.9,0M191.6,520.3a1.95,1.95 0 1 0 3.9,0a1.95,1.95 0 1 0 -3.9,0M192.6,520.0a1.95,1.95 0 1 0 3.9,0a1.95,1.95 0 1 0 -3.9,0M193.6,519.8a1.95,1.95 0 1 0 3.9,0a1.95,1.95 0 1 0 -3.9,0M194.6,519.6a1.95,1.95 0 1 0 3.9,0a1.95,1.95 0 1 0 -3.9,0M195.6,519.3a1.95,1.95 0 1 0 3.9,0a1.95,1.95 0 1 0 -3.9,0M196.6,519.0a1.95,1.95 0 1 0 3.9,0a1.95,1.95 0 1 0 -3.9,0M197.6,518.8a1.95,1.95 0 1 0 3.9,0a1.95,1.95 0 1 0 -3.9,0M198.6,518.4a1.95,1.95 0 1 0 3.9,0a1.95,1.95 0 1 0 -3.9,0M199.6,518.1a1.95,1.95 0 1 0 3.9,0a1.95,1.95 0 1 0 -3.9,0M200.6,517.6a1.95,1.95 0 1 0 3.9,0a1.95,1.95 0 1 0 -3.9,0M201.6,517.1a1.95,1.95 0 1 0 3.9,0a1.95,1.95 0 1 0 -3.9,0M202.6,516.6a1.95,1.95 0 1 0 3.9,0a1.95,1.95 0 1 0 -3.9,0M203.6,516.0a1.95,1.95 0 1 0 3.9,0a1.95,1.95 0 1 0 -3.9,0M204.6,515.5a1.95,1.95 0 1 0 3.9,0a1.95,1.95 0 1 0 -3.9,0M205.6,514.9a1.95,1.95 0 1 0 3.9,0a1.95,1.95 0 1 0 -3.9,0M206.6,514.3a1.95,1.95 0 1 0 3.9,0a1.95,1.95 0 1 0 -3.9,0M207.6,513.6a1.95,1.95 0 1 0 3.9,0a1.95,1.95 0 1 0 -3.9,0M208.6,513.0a1.95,1.95 0 1 0 3.9,0a1.95,1.95 0 1 0 -3.9,0M209.6,512.3a1.95,1.95 0 1 0 3.9,0a1.95,1.95 0 1 0 -3.9,0M210.6,511.7a1.95,1.95 0 1 0 3.9,0a1.95,1.95 0 1 0 -3.9,0M211.6,511.0a1.95,1.95 0 1 0 3.9,0a1.95,1.95 0 1 0 -3.9,0M212.6,510.3a1.95,1.95 0 1 0 3.9,0a1.95,1.95 0 1 0 -3.9,0M213.6,509.5a1.95,1.95 0 1 0 3.9,0a1.95,1.95 0 1 0 -3.9,0M214.6,508.8a1.95,1.95 0 1 0 3.9,0a1.95,1.95 0 1 0 -3.9,0M215.6,508.0a1.95,1.95 0 1 0 3.9,0a1.95,1.95 0 1 0 -3.9,0M216.6,507.2a1.95,1.95 0 1 0 3.9,0a1.95,1.95 0 1 0 -3.9,0M217.6,506.4a1.95,1.95 0 1 0 3.9,0a1.95,1.95 0 1 0 -3.9,0M218.6,505.6a1.95,1.95 0 1 0 3.9,0a1.95,1.95 0 1 0 -3.9,0M219.6,504.8a1.95,1.95 0 1 0 3.9,0a1.95,1.95 0 1 0 -3.9,0M220.6,503.9a1.95,1.95 0 1 0 3.9,0a1.95,1.95 0 1 0 -3.9,0M221.6,503.0a1.95,1.95 0 1 0 3.9,0a1.95,1.95 0 1 0 -3.9,0M222.6,502.2a1.95,1.95 0 1 0 3.9,0a1.95,1.95 0 1 0 -3.9,0M223.6,501.2a1.95,1.95 0 1 0 3.9,0a1.95,1.95 0 1 0 -3.9,0M224.6,500.3a1.95,1.95 0 1 0 3.9,0a1.95,1.95 0 1 0 -3.9,0M225.6,499.4a1.95,1.95 0 1 0 3.9,0a1.95,1.95 0 1 0 -3.9,0M226.6,498.4a1.95,1.95 0 1 0 3.9,0a1.95,1.95 0 1 0 -3.9,0M227.6,497.4a1.95,1.95 0 1 0 3.9,0a1.95,1.95 0 1 0 -3.9,0M228.6,496.4a1.95,1.95 0 1 0 3.9,0a1.95,1.95 0 1 0 -3.9,0M229.6,495.2a1.95,1.95 0 1 0 3.9,0a1.95,1.95 0 1 0 -3.9,0M230.6,494.1a1.95,1.95 0 1 0 3.9,0a1.95,1.95 0 1 0 -3.9,0M231.6,492.9a1.95,1.95 0 1 0 3.9,0a1.95,1.95 0 1 0 -3.9,0M232.6,491.7a1.95,1.95 0 1 0 3.9,0a1.95,1.95 0 1 0 -3.9,0M233.6,490.5a1.95,1.95 0 1 0 3.9,0a1.95,1.95 0 1 0 -3.9,0M234.6,489.3a1.95,1.95 0 1 0 3.9,0a1.95,1.95 0 1 0 -3.9,0M235.6,488.0a1.95,1.95 0 1 0 3.9,0a1.95,1.95 0 1 0 -3.9,0M236.6,486.7a1.95,1.95 0 1 0 3.9,0a1.95,1.95 0 1 0 -3.9,0M237.6,485.4a1.95,1.95 0 1 0 3.9,0a1.95,1.95 0 1 0 -3.9,0M238.6,484.2a1.95,1.95 0 1 0 3.9,0a1.95,1.95 0 1 0 -3.9,0M239.6,482.9a1.95,1.95 0 1 0 3.9,0a1.95,1.95 0 1 0 -3.9,0M240.6,481.6a1.95,1.95 0 1 0 3.9,0a1.95,1.95 0 1 0 -3.9,0M241.6,480.3a1.95,1.95 0 1 0 3.9,0a1.95,1.95 0 1 0 -3.9,0M242.6,479.0a1.95,1.95 0 1 0 3.9,0a1.95,1.95 0 1 0 -3.9,0M243.6,477.6a1.95,1.95 0 1 0 3.9,0a1.95,1.95 0 1 0 -3.9,0M244.6,476.3a1.95,1.95 0 1 0 3.9,0a1.95,1.95 0 1 0 -3.9,0M245.6,475.0a1.95,1.95 0 1 0 3.9,0a1.95,1.95 0 1 0 -3.9,0M246.6,473.7a1.95,1.95 0 1 0 3.9,0a1.95,1.95 0 1 0 -3.9,0M247.6,472.4a1.95,1.95 0 1 0 3.9,0a1.95,1.95 0 1 0 -3.9,0M248.6,471.0a1.95,1.95 0 1 0 3.9,0a1.95,1.95 0 1 0 -3.9,0M249.6,469.6a1.95,1.95 0 1 0 3.9,0a1.95,1.95 0 1 0 -3.9,0M250.6,468.1a1.95,1.95 0 1 0 3.9,0a1.95,1.95 0 1 0 -3.9,0M251.6,466.7a1.95,1.95 0 1 0 3.9,0a1.95,1.95 0 1 0 -3.9,0M252.6,465.2a1.95,1.95 0 1 0 3.9,0a1.95,1.95 0 1 0 -3.9,0M253.6,463.8a1.95,1.95 0 1 0 3.9,0a1.95,1.95 0 1 0 -3.9,0M254.6,462.4a1.95,1.95 0 1 0 3.9,0a1.95,1.95 0 1 0 -3.9,0M255.6,460.9a1.95,1.95 0 1 0 3.9,0a1.95,1.95 0 1 0 -3.9,0M256.6,459.5a1.95,1.95 0 1 0 3.9,0a1.95,1.95 0 1 0 -3.9,0M257.6,458.1a1.95,1.95 0 1 0 3.9,0a1.95,1.95 0 1 0 -3.9,0M258.6,456.7a1.95,1.95 0 1 0 3.9,0a1.95,1.95 0 1 0 -3.9,0M259.6,455.3a1.95,1.95 0 1 0 3.9,0a1.95,1.95 0 1 0 -3.9,0M260.6,453.9a1.95,1.95 0 1 0 3.9,0a1.95,1.95 0 1 0 -3.9,0M261.6,452.5a1.95,1.95 0 1 0 3.9,0a1.95,1.95 0 1 0 -3.9,0M262.6,451.2a1.95,1.95 0 1 0 3.9,0a1.95,1.95 0 1 0 -3.9,0M263.6,449.8a1.95,1.95 0 1 0 3.9,0a1.95,1.95 0 1 0 -3.9,0M264.6,448.5a1.95,1.95 0 1 0 3.9,0a1.95,1.95 0 1 0 -3.9,0M265.6,447.2a1.95,1.95 0 1 0 3.9,0a1.95,1.95 0 1 0 -3.9,0M266.6,445.9a1.95,1.95 0 1 0 3.9,0a1.95,1.95 0 1 0 -3.9,0M267.6,444.6a1.95,1.95 0 1 0 3.9,0a1.95,1.95 0 1 0 -3.9,0M268.6,443.4a1.95,1.95 0 1 0 3.9,0a1.95,1.95 0 1 0 -3.9,0M269.6,442.2a1.95,1.95 0 1 0 3.9,0a1.95,1.95 0 1 0 -3.9,0M270.6,441.0a1.95,1.95 0 1 0 3.9,0a1.95,1.95 0 1 0 -3.9,0M271.6,439.8a1.95,1.95 0 1 0 3.9,0a1.95,1.95 0 1 0 -3.9,0M272.6,438.7a1.95,1.95 0 1 0 3.9,0a1.95,1.95 0 1 0 -3.9,0M273.6,437.5a1.95,1.95 0 1 0 3.9,0a1.95,1.95 0 1 0 -3.9,0M274.6,436.4a1.95,1.95 0 1 0 3.9,0a1.95,1.95 0 1 0 -3.9,0M275.6,435.4a1.95,1.95 0 1 0 3.9,0a1.95,1.95 0 1 0 -3.9,0M276.6,434.3a1.95,1.95 0 1 0 3.9,0a1.95,1.95 0 1 0 -3.9,0M277.6,433.2a1.95,1.95 0 1 0 3.9,0a1.95,1.95 0 1 0 -3.9,0M278.6,432.0a1.95,1.95 0 1 0 3.9,0a1.95,1.95 0 1 0 -3.9,0M279.6,430.9a1.95,1.95 0 1 0 3.9,0a1.95,1.95 0 1 0 -3.9,0M280.6,429.7a1.95,1.95 0 1 0 3.9,0a1.95,1.95 0 1 0 -3.9,0M281.6,428.5a1.95,1.95 0 1 0 3.9,0a1.95,1.95 0 1 0 -3.9,0M282.6,427.3a1.95,1.95 0 1 0 3.9,0a1.95,1.95 0 1 0 -3.9,0M283.6,426.1a1.95,1.95 0 1 0 3.9,0a1.95,1.95 0 1 0 -3.9,0M284.6,425.0a1.95,1.95 0 1 0 3.9,0a1.95,1.95 0 1 0 -3.9,0M285.6,423.8a1.95,1.95 0 1 0 3.9,0a1.95,1.95 0 1 0 -3.9,0M286.6,422.7a1.95,1.95 0 1 0 3.9,0a1.95,1.95 0 1 0 -3.9,0M287.6,421.5a1.95,1.95 0 1 0 3.9,0a1.95,1.95 0 1 0 -3.9,0M288.6,420.5a1.95,1.95 0 1 0 3.9,0a1.95,1.95 0 1 0 -3.9,0M289.6,419.4a1.95,1.95 0 1 0 3.9,0a1.95,1.95 0 1 0 -3.9,0M290.6,418.3a1.95,1.95 0 1 0 3.9,0a1.95,1.95 0 1 0 -3.9,0M291.6,417.3a1.95,1.95 0 1 0 3.9,0a1.95,1.95 0 1 0 -3.9,0M292.6,416.3a1.95,1.95 0 1 0 3.9,0a1.95,1.95 0 1 0 -3.9,0M293.6,415.3a1.95,1.95 0 1 0 3.9,0a1.95,1.95 0 1 0 -3.9,0M294.6,414.3a1.95,1.95 0 1 0 3.9,0a1.95,1.95 0 1 0 -3.9,0M295.6,413.4a1.95,1.95 0 1 0 3.9,0a1.95,1.95 0 1 0 -3.9,0M296.6,412.5a1.95,1.95 0 1 0 3.9,0a1.95,1.95 0 1 0 -3.9,0M297.6,411.7a1.95,1.95 0 1 0 3.9,0a1.95,1.95 0 1 0 -3.9,0M298.6,411.0a1.95,1.95 0 1 0 3.9,0a1.95,1.95 0 1 0 -3.9,0M299.6,410.4a1.95,1.95 0 1 0 3.9,0a1.95,1.95 0 1 0 -3.9,0M300.6,409.8a1.95,1.95 0 1 0 3.9,0a1.95,1.95 0 1 0 -3.9,0M301.6,409.4a1.95,1.95 0 1 0 3.9,0a1.95,1.95 0 1 0 -3.9,0M302.6,408.9a1.95,1.95 0 1 0 3.9,0a1.95,1.95 0 1 0 -3.9,0M303.6,408.5a1.95,1.95 0 1 0 3.9,0a1.95,1.95 0 1 0 -3.9,0M304.6,408.1a1.95,1.95 0 1 0 3.9,0a1.95,1.95 0 1 0 -3.9,0M305.6,407.8a1.95,1.95 0 1 0 3.9,0a1.95,1.95 0 1 0 -3.9,0M306.6,407.5a1.95,1.95 0 1 0 3.9,0a1.95,1.95 0 1 0 -3.9,0M307.6,407.2a1.95,1.95 0 1 0 3.9,0a1.95,1.95 0 1 0 -3.9,0M308.6,406.8a1.95,1.95 0 1 0 3.9,0a1.95,1.95 0 1 0 -3.9,0M309.6,406.5a1.95,1.95 0 1 0 3.9,0a1.95,1.95 0 1 0 -3.9,0M310.6,406.2a1.95,1.95 0 1 0 3.9,0a1.95,1.95 0 1 0 -3.9,0M311.6,406.1a1.95,1.95 0 1 0 3.9,0a1.95,1.95 0 1 0 -3.9,0M312.6,406.1a1.95,1.95 0 1 0 3.9,0a1.95,1.95 0 1 0 -3.9,0M313.6,406.1a1.95,1.95 0 1 0 3.9,0a1.95,1.95 0 1 0 -3.9,0M314.6,406.2a1.95,1.95 0 1 0 3.9,0a1.95,1.95 0 1 0 -3.9,0M315.6,406.3a1.95,1.95 0 1 0 3.9,0a1.95,1.95 0 1 0 -3.9,0M316.6,406.5a1.95,1.95 0 1 0 3.9,0a1.95,1.95 0 1 0 -3.9,0M317.6,406.8a1.95,1.95 0 1 0 3.9,0a1.95,1.95 0 1 0 -3.9,0M318.6,407.2a1.95,1.95 0 1 0 3.9,0a1.95,1.95 0 1 0 -3.9,0M319.6,407.7a1.95,1.95 0 1 0 3.9,0a1.95,1.95 0 1 0 -3.9,0M320.6,408.3a1.95,1.95 0 1 0 3.9,0a1.95,1.95 0 1 0 -3.9,0M321.6,408.9a1.95,1.95 0 1 0 3.9,0a1.95,1.95 0 1 0 -3.9,0M322.6,409.5a1.95,1.95 0 1 0 3.9,0a1.95,1.95 0 1 0 -3.9,0M323.6,410.2a1.95,1.95 0 1 0 3.9,0a1.95,1.95 0 1 0 -3.9,0M324.6,410.9a1.95,1.95 0 1 0 3.9,0a1.95,1.95 0 1 0 -3.9,0M325.6,411.7a1.95,1.95 0 1 0 3.9,0a1.95,1.95 0 1 0 -3.9,0M326.6,412.5a1.95,1.95 0 1 0 3.9,0a1.95,1.95 0 1 0 -3.9,0M327.6,413.4a1.95,1.95 0 1 0 3.9,0a1.95,1.95 0 1 0 -3.9,0M328.6,414.3a1.95,1.95 0 1 0 3.9,0a1.95,1.95 0 1 0 -3.9,0M329.6,415.2a1.95,1.95 0 1 0 3.9,0a1.95,1.95 0 1 0 -3.9,0M330.6,416.2a1.95,1.95 0 1 0 3.9,0a1.95,1.95 0 1 0 -3.9,0M331.6,417.2a1.95,1.95 0 1 0 3.9,0a1.95,1.95 0 1 0 -3.9,0M332.6,418.3a1.95,1.95 0 1 0 3.9,0a1.95,1.95 0 1 0 -3.9,0M333.6,419.5a1.95,1.95 0 1 0 3.9,0a1.95,1.95 0 1 0 -3.9,0M334.6,420.7a1.95,1.95 0 1 0 3.9,0a1.95,1.95 0 1 0 -3.9,0M335.6,422.0a1.95,1.95 0 1 0 3.9,0a1.95,1.95 0 1 0 -3.9,0M336.6,423.5a1.95,1.95 0 1 0 3.9,0a1.95,1.95 0 1 0 -3.9,0M337.6,425.2a1.95,1.95 0 1 0 3.9,0a1.95,1.95 0 1 0 -3.9,0M338.6,427.1a1.95,1.95 0 1 0 3.9,0a1.95,1.95 0 1 0 -3.9,0M339.6,429.1a1.95,1.95 0 1 0 3.9,0a1.95,1.95 0 1 0 -3.9,0M340.6,431.1a1.95,1.95 0 1 0 3.9,0a1.95,1.95 0 1 0 -3.9,0M341.6,433.1a1.95,1.95 0 1 0 3.9,0a1.95,1.95 0 1 0 -3.9,0M342.6,435.1a1.95,1.95 0 1 0 3.9,0a1.95,1.95 0 1 0 -3.9,0M343.6,437.3a1.95,1.95 0 1 0 3.9,0a1.95,1.95 0 1 0 -3.9,0M344.6,439.2a1.95,1.95 0 1 0 3.9,0a1.95,1.95 0 1 0 -3.9,0M345.6,440.7a1.95,1.95 0 1 0 3.9,0a1.95,1.95 0 1 0 -3.9,0M346.6,441.8a1.95,1.95 0 1 0 3.9,0a1.95,1.95 0 1 0 -3.9,0M347.6,442.8a1.95,1.95 0 1 0 3.9,0a1.95,1.95 0 1 0 -3.9,0M348.6,443.6a1.95,1.95 0 1 0 3.9,0a1.95,1.95 0 1 0 -3.9,0M349.6,444.3a1.95,1.95 0 1 0 3.9,0a1.95,1.95 0 1 0 -3.9,0M350.6,444.9a1.95,1.95 0 1 0 3.9,0a1.95,1.95 0 1 0 -3.9,0M351.6,445.3a1.95,1.95 0 1 0 3.9,0a1.95,1.95 0 1 0 -3.9,0M352.6,445.8a1.95,1.95 0 1 0 3.9,0a1.95,1.95 0 1 0 -3.9,0M353.6,446.2a1.95,1.95 0 1 0 3.9,0a1.95,1.95 0 1 0 -3.9,0M354.6,446.6a1.95,1.95 0 1 0 3.9,0a1.95,1.95 0 1 0 -3.9,0M355.6,447.0a1.95,1.95 0 1 0 3.9,0a1.95,1.95 0 1 0 -3.9,0M356.6,447.4a1.95,1.95 0 1 0 3.9,0a1.95,1.95 0 1 0 -3.9,0M357.6,447.7a1.95,1.95 0 1 0 3.9,0a1.95,1.95 0 1 0 -3.9,0M358.6,448.2a1.95,1.95 0 1 0 3.9,0a1.95,1.95 0 1 0 -3.9,0M359.6,448.7a1.95,1.95 0 1 0 3.9,0a1.95,1.95 0 1 0 -3.9,0M360.6,449.2a1.95,1.95 0 1 0 3.9,0a1.95,1.95 0 1 0 -3.9,0M361.6,449.8a1.95,1.95 0 1 0 3.9,0a1.95,1.95 0 1 0 -3.9,0M362.6,450.5a1.95,1.95 0 1 0 3.9,0a1.95,1.95 0 1 0 -3.9,0M363.6,451.3a1.95,1.95 0 1 0 3.9,0a1.95,1.95 0 1 0 -3.9,0M364.6,452.1a1.95,1.95 0 1 0 3.9,0a1.95,1.95 0 1 0 -3.9,0M365.6,452.9a1.95,1.95 0 1 0 3.9,0a1.95,1.95 0 1 0 -3.9,0M366.6,453.9a1.95,1.95 0 1 0 3.9,0a1.95,1.95 0 1 0 -3.9,0M367.6,454.9a1.95,1.95 0 1 0 3.9,0a1.95,1.95 0 1 0 -3.9,0M368.6,456.0a1.95,1.95 0 1 0 3.9,0a1.95,1.95 0 1 0 -3.9,0M369.6,457.3a1.95,1.95 0 1 0 3.9,0a1.95,1.95 0 1 0 -3.9,0M370.6,458.7a1.95,1.95 0 1 0 3.9,0a1.95,1.95 0 1 0 -3.9,0M371.6,460.4a1.95,1.95 0 1 0 3.9,0a1.95,1.95 0 1 0 -3.9,0M372.6,462.4a1.95,1.95 0 1 0 3.9,0a1.95,1.95 0 1 0 -3.9,0M373.6,464.8a1.95,1.95 0 1 0 3.9,0a1.95,1.95 0 1 0 -3.9,0M374.6,467.6a1.95,1.95 0 1 0 3.9,0a1.95,1.95 0 1 0 -3.9,0M375.6,470.4a1.95,1.95 0 1 0 3.9,0a1.95,1.95 0 1 0 -3.9,0M376.6,473.3a1.95,1.95 0 1 0 3.9,0a1.95,1.95 0 1 0 -3.9,0M377.6,476.4a1.95,1.95 0 1 0 3.9,0a1.95,1.95 0 1 0 -3.9,0M378.6,479.4a1.95,1.95 0 1 0 3.9,0a1.95,1.95 0 1 0 -3.9,0M379.6,482.4a1.95,1.95 0 1 0 3.9,0a1.95,1.95 0 1 0 -3.9,0M380.6,485.4a1.95,1.95 0 1 0 3.9,0a1.95,1.95 0 1 0 -3.9,0M381.6,488.4a1.95,1.95 0 1 0 3.9,0a1.95,1.95 0 1 0 -3.9,0M382.6,491.5a1.95,1.95 0 1 0 3.9,0a1.95,1.95 0 1 0 -3.9,0M383.6,494.6a1.95,1.95 0 1 0 3.9,0a1.95,1.95 0 1 0 -3.9,0M384.6,497.8a1.95,1.95 0 1 0 3.9,0a1.95,1.95 0 1 0 -3.9,0M385.6,500.4a1.95,1.95 0 1 0 3.9,0a1.95,1.95 0 1 0 -3.9,0M386.6,502.5a1.95,1.95 0 1 0 3.9,0a1.95,1.95 0 1 0 -3.9,0M387.6,504.2a1.95,1.95 0 1 0 3.9,0a1.95,1.95 0 1 0 -3.9,0M388.6,505.5a1.95,1.95 0 1 0 3.9,0a1.95,1.95 0 1 0 -3.9,0M389.6,506.6a1.95,1.95 0 1 0 3.9,0a1.95,1.95 0 1 0 -3.9,0M390.6,507.6a1.95,1.95 0 1 0 3.9,0a1.95,1.95 0 1 0 -3.9,0M391.6,508.4a1.95,1.95 0 1 0 3.9,0a1.95,1.95 0 1 0 -3.9,0M392.6,509.1a1.95,1.95 0 1 0 3.9,0a1.95,1.95 0 1 0 -3.9,0M393.6,509.8a1.95,1.95 0 1 0 3.9,0a1.95,1.95 0 1 0 -3.9,0M394.6,510.4a1.95,1.95 0 1 0 3.9,0a1.95,1.95 0 1 0 -3.9,0M395.6,510.9a1.95,1.95 0 1 0 3.9,0a1.95,1.95 0 1 0 -3.9,0M396.6,511.5a1.95,1.95 0 1 0 3.9,0a1.95,1.95 0 1 0 -3.9,0M397.6,512.0a1.95,1.95 0 1 0 3.9,0a1.95,1.95 0 1 0 -3.9,0M398.6,512.4a1.95,1.95 0 1 0 3.9,0a1.95,1.95 0 1 0 -3.9,0M399.6,512.9a1.95,1.95 0 1 0 3.9,0a1.95,1.95 0 1 0 -3.9,0M400.6,513.3a1.95,1.95 0 1 0 3.9,0a1.95,1.95 0 1 0 -3.9,0M401.6,513.6a1.95,1.95 0 1 0 3.9,0a1.95,1.95 0 1 0 -3.9,0M402.6,514.0a1.95,1.95 0 1 0 3.9,0a1.95,1.95 0 1 0 -3.9,0M403.6,514.3a1.95,1.95 0 1 0 3.9,0a1.95,1.95 0 1 0 -3.9,0M404.6,514.6a1.95,1.95 0 1 0 3.9,0a1.95,1.95 0 1 0 -3.9,0M405.6,514.8a1.95,1.95 0 1 0 3.9,0a1.95,1.95 0 1 0 -3.9,0M406.6,515.1a1.95,1.95 0 1 0 3.9,0a1.95,1.95 0 1 0 -3.9,0M407.6,515.3a1.95,1.95 0 1 0 3.9,0a1.95,1.95 0 1 0 -3.9,0M408.6,515.5a1.95,1.95 0 1 0 3.9,0a1.95,1.95 0 1 0 -3.9,0M409.6,515.7a1.95,1.95 0 1 0 3.9,0a1.95,1.95 0 1 0 -3.9,0M410.6,515.9a1.95,1.95 0 1 0 3.9,0a1.95,1.95 0 1 0 -3.9,0M411.6,516.1a1.95,1.95 0 1 0 3.9,0a1.95,1.95 0 1 0 -3.9,0M412.6,516.2a1.95,1.95 0 1 0 3.9,0a1.95,1.95 0 1 0 -3.9,0M413.6,516.4a1.95,1.95 0 1 0 3.9,0a1.95,1.95 0 1 0 -3.9,0M414.6,516.5a1.95,1.95 0 1 0 3.9,0a1.95,1.95 0 1 0 -3.9,0M415.6,516.6a1.95,1.95 0 1 0 3.9,0a1.95,1.95 0 1 0 -3.9,0M416.6,516.7a1.95,1.95 0 1 0 3.9,0a1.95,1.95 0 1 0 -3.9,0M417.6,516.8a1.95,1.95 0 1 0 3.9,0a1.95,1.95 0 1 0 -3.9,0M418.6,517.0a1.95,1.95 0 1 0 3.9,0a1.95,1.95 0 1 0 -3.9,0M419.6,517.1a1.95,1.95 0 1 0 3.9,0a1.95,1.95 0 1 0 -3.9,0M420.6,517.2a1.95,1.95 0 1 0 3.9,0a1.95,1.95 0 1 0 -3.9,0M421.6,517.3a1.95,1.95 0 1 0 3.9,0a1.95,1.95 0 1 0 -3.9,0M422.6,517.4a1.95,1.95 0 1 0 3.9,0a1.95,1.95 0 1 0 -3.9,0M423.6,517.4a1.95,1.95 0 1 0 3.9,0a1.95,1.95 0 1 0 -3.9,0M424.6,517.6a1.95,1.95 0 1 0 3.9,0a1.95,1.95 0 1 0 -3.9,0M425.6,517.7a1.95,1.95 0 1 0 3.9,0a1.95,1.95 0 1 0 -3.9,0M426.6,517.8a1.95,1.95 0 1 0 3.9,0a1.95,1.95 0 1 0 -3.9,0M427.6,517.9a1.95,1.95 0 1 0 3.9,0a1.95,1.95 0 1 0 -3.9,0M428.6,518.0a1.95,1.95 0 1 0 3.9,0a1.95,1.95 0 1 0 -3.9,0M429.6,518.1a1.95,1.95 0 1 0 3.9,0a1.95,1.95 0 1 0 -3.9,0M430.6,518.2a1.95,1.95 0 1 0 3.9,0a1.95,1.95 0 1 0 -3.9,0M431.6,518.3a1.95,1.95 0 1 0 3.9,0a1.95,1.95 0 1 0 -3.9,0M432.6,518.4a1.95,1.95 0 1 0 3.9,0a1.95,1.95 0 1 0 -3.9,0M433.6,518.4a1.95,1.95 0 1 0 3.9,0a1.95,1.95 0 1 0 -3.9,0M434.6,518.5a1.95,1.95 0 1 0 3.9,0a1.95,1.95 0 1 0 -3.9,0M435.6,518.6a1.95,1.95 0 1 0 3.9,0a1.95,1.95 0 1 0 -3.9,0M436.6,518.6a1.95,1.95 0 1 0 3.9,0a1.95,1.95 0 1 0 -3.9,0M437.6,518.7a1.95,1.95 0 1 0 3.9,0a1.95,1.95 0 1 0 -3.9,0M438.6,518.8a1.95,1.95 0 1 0 3.9,0a1.95,1.95 0 1 0 -3.9,0M439.6,518.8a1.95,1.95 0 1 0 3.9,0a1.95,1.95 0 1 0 -3.9,0M440.6,518.9a1.95,1.95 0 1 0 3.9,0a1.95,1.95 0 1 0 -3.9,0M441.6,518.9a1.95,1.95 0 1 0 3.9,0a1.95,1.95 0 1 0 -3.9,0M442.6,519.0a1.95,1.95 0 1 0 3.9,0a1.95,1.95 0 1 0 -3.9,0M443.6,519.0a1.95,1.95 0 1 0 3.9,0a1.95,1.95 0 1 0 -3.9,0M444.6,519.1a1.95,1.95 0 1 0 3.9,0a1.95,1.95 0 1 0 -3.9,0M445.6,519.1a1.95,1.95 0 1 0 3.9,0a1.95,1.95 0 1 0 -3.9,0M446.6,519.2a1.95,1.95 0 1 0 3.9,0a1.95,1.95 0 1 0 -3.9,0M447.6,519.2a1.95,1.95 0 1 0 3.9,0a1.95,1.95 0 1 0 -3.9,0M448.6,519.3a1.95,1.95 0 1 0 3.9,0a1.95,1.95 0 1 0 -3.9,0M449.6,519.3a1.95,1.95 0 1 0 3.9,0a1.95,1.95 0 1 0 -3.9,0M450.6,519.4a1.95,1.95 0 1 0 3.9,0a1.95,1.95 0 1 0 -3.9,0M451.6,519.4a1.95,1.95 0 1 0 3.9,0a1.95,1.95 0 1 0 -3.9,0M452.6,519.5a1.95,1.95 0 1 0 3.9,0a1.95,1.95 0 1 0 -3.9,0M453.6,519.5a1.95,1.95 0 1 0 3.9,0a1.95,1.95 0 1 0 -3.9,0M454.6,519.6a1.95,1.95 0 1 0 3.9,0a1.95,1.95 0 1 0 -3.9,0M455.6,519.6a1.95,1.95 0 1 0 3.9,0a1.95,1.95 0 1 0 -3.9,0M456.6,519.6a1.95,1.95 0 1 0 3.9,0a1.95,1.95 0 1 0 -3.9,0M457.6,519.7a1.95,1.95 0 1 0 3.9,0a1.95,1.95 0 1 0 -3.9,0M458.6,519.7a1.95,1.95 0 1 0 3.9,0a1.95,1.95 0 1 0 -3.9,0M459.6,519.8a1.95,1.95 0 1 0 3.9,0a1.95,1.95 0 1 0 -3.9,0M460.6,519.8a1.95,1.95 0 1 0 3.9,0a1.95,1.95 0 1 0 -3.9,0M461.6,519.9a1.95,1.95 0 1 0 3.9,0a1.95,1.95 0 1 0 -3.9,0M462.6,519.9a1.95,1.95 0 1 0 3.9,0a1.95,1.95 0 1 0 -3.9,0M463.6,520.0a1.95,1.95 0 1 0 3.9,0a1.95,1.95 0 1 0 -3.9,0M464.6,520.0a1.95,1.95 0 1 0 3.9,0a1.95,1.95 0 1 0 -3.9,0M465.6,520.0a1.95,1.95 0 1 0 3.9,0a1.95,1.95 0 1 0 -3.9,0M466.6,520.1a1.95,1.95 0 1 0 3.9,0a1.95,1.95 0 1 0 -3.9,0M467.6,520.1a1.95,1.95 0 1 0 3.9,0a1.95,1.95 0 1 0 -3.9,0M468.6,520.2a1.95,1.95 0 1 0 3.9,0a1.95,1.95 0 1 0 -3.9,0M469.6,520.2a1.95,1.95 0 1 0 3.9,0a1.95,1.95 0 1 0 -3.9,0M470.6,520.3a1.95,1.95 0 1 0 3.9,0a1.95,1.95 0 1 0 -3.9,0M471.6,520.3a1.95,1.95 0 1 0 3.9,0a1.95,1.95 0 1 0 -3.9,0M472.6,520.3a1.95,1.95 0 1 0 3.9,0a1.95,1.95 0 1 0 -3.9,0M473.6,520.4a1.95,1.95 0 1 0 3.9,0a1.95,1.95 0 1 0 -3.9,0M474.6,520.4a1.95,1.95 0 1 0 3.9,0a1.95,1.95 0 1 0 -3.9,0M475.6,520.5a1.95,1.95 0 1 0 3.9,0a1.95,1.95 0 1 0 -3.9,0M476.6,520.5a1.95,1.95 0 1 0 3.9,0a1.95,1.95 0 1 0 -3.9,0M477.6,520.5a1.95,1.95 0 1 0 3.9,0a1.95,1.95 0 1 0 -3.9,0M478.6,520.6a1.95,1.95 0 1 0 3.9,0a1.95,1.95 0 1 0 -3.9,0M479.6,520.6a1.95,1.95 0 1 0 3.9,0a1.95,1.95 0 1 0 -3.9,0M480.6,520.6a1.95,1.95 0 1 0 3.9,0a1.95,1.95 0 1 0 -3.9,0M481.6,520.7a1.95,1.95 0 1 0 3.9,0a1.95,1.95 0 1 0 -3.9,0M482.6,520.7a1.95,1.95 0 1 0 3.9,0a1.95,1.95 0 1 0 -3.9,0M483.6,520.7a1.95,1.95 0 1 0 3.9,0a1.95,1.95 0 1 0 -3.9,0M484.6,520.8a1.95,1.95 0 1 0 3.9,0a1.95,1.95 0 1 0 -3.9,0M485.6,520.8a1.95,1.95 0 1 0 3.9,0a1.95,1.95 0 1 0 -3.9,0M486.6,520.9a1.95,1.95 0 1 0 3.9,0a1.95,1.95 0 1 0 -3.9,0M487.6,520.9a1.95,1.95 0 1 0 3.9,0a1.95,1.95 0 1 0 -3.9,0M488.6,520.9a1.95,1.95 0 1 0 3.9,0a1.95,1.95 0 1 0 -3.9,0M489.6,520.9a1.95,1.95 0 1 0 3.9,0a1.95,1.95 0 1 0 -3.9,0M490.6,521.0a1.95,1.95 0 1 0 3.9,0a1.95,1.95 0 1 0 -3.9,0M491.6,521.0a1.95,1.95 0 1 0 3.9,0a1.95,1.95 0 1 0 -3.9,0M492.6,521.0a1.95,1.95 0 1 0 3.9,0a1.95,1.95 0 1 0 -3.9,0M493.6,521.1a1.95,1.95 0 1 0 3.9,0a1.95,1.95 0 1 0 -3.9,0M494.6,521.1a1.95,1.95 0 1 0 3.9,0a1.95,1.95 0 1 0 -3.9,0M495.6,521.2a1.95,1.95 0 1 0 3.9,0a1.95,1.95 0 1 0 -3.9,0M496.6,521.2a1.95,1.95 0 1 0 3.9,0a1.95,1.95 0 1 0 -3.9,0M497.6,521.2a1.95,1.95 0 1 0 3.9,0a1.95,1.95 0 1 0 -3.9,0M498.6,521.3a1.95,1.95 0 1 0 3.9,0a1.95,1.95 0 1 0 -3.9,0M499.6,521.3a1.95,1.95 0 1 0 3.9,0a1.95,1.95 0 1 0 -3.9,0M500.6,521.3a1.95,1.95 0 1 0 3.9,0a1.95,1.95 0 1 0 -3.9,0M501.6,521.4a1.95,1.95 0 1 0 3.9,0a1.95,1.95 0 1 0 -3.9,0M502.6,521.4a1.95,1.95 0 1 0 3.9,0a1.95,1.95 0 1 0 -3.9,0M503.6,521.4a1.95,1.95 0 1 0 3.9,0a1.95,1.95 0 1 0 -3.9,0M504.6,521.5a1.95,1.95 0 1 0 3.9,0a1.95,1.95 0 1 0 -3.9,0M505.6,521.5a1.95,1.95 0 1 0 3.9,0a1.95,1.95 0 1 0 -3.9,0M506.6,521.5a1.95,1.95 0 1 0 3.9,0a1.95,1.95 0 1 0 -3.9,0M507.6,521.6a1.95,1.95 0 1 0 3.9,0a1.95,1.95 0 1 0 -3.9,0M508.6,521.6a1.95,1.95 0 1 0 3.9,0a1.95,1.95 0 1 0 -3.9,0M509.6,521.6a1.95,1.95 0 1 0 3.9,0a1.95,1.95 0 1 0 -3.9,0M510.6,521.7a1.95,1.95 0 1 0 3.9,0a1.95,1.95 0 1 0 -3.9,0M511.6,521.7a1.95,1.95 0 1 0 3.9,0a1.95,1.95 0 1 0 -3.9,0M512.5,521.7a1.95,1.95 0 1 0 3.9,0a1.95,1.95 0 1 0 -3.9,0M513.5,521.7a1.95,1.95 0 1 0 3.9,0a1.95,1.95 0 1 0 -3.9,0M514.5,521.8a1.95,1.95 0 1 0 3.9,0a1.95,1.95 0 1 0 -3.9,0M515.5,521.8a1.95,1.95 0 1 0 3.9,0a1.95,1.95 0 1 0 -3.9,0M516.5,521.8a1.95,1.95 0 1 0 3.9,0a1.95,1.95 0 1 0 -3.9,0M517.5,521.9a1.95,1.95 0 1 0 3.9,0a1.95,1.95 0 1 0 -3.9,0M518.5,521.9a1.95,1.95 0 1 0 3.9,0a1.95,1.95 0 1 0 -3.9,0M519.5,521.9a1.95,1.95 0 1 0 3.9,0a1.95,1.95 0 1 0 -3.9,0M520.5,521.9a1.95,1.95 0 1 0 3.9,0a1.95,1.95 0 1 0 -3.9,0M521.5,521.9a1.95,1.95 0 1 0 3.9,0a1.95,1.95 0 1 0 -3.9,0M522.5,522.0a1.95,1.95 0 1 0 3.9,0a1.95,1.95 0 1 0 -3.9,0M523.5,522.0a1.95,1.95 0 1 0 3.9,0a1.95,1.95 0 1 0 -3.9,0M524.5,522.0a1.95,1.95 0 1 0 3.9,0a1.95,1.95 0 1 0 -3.9,0M525.5,522.0a1.95,1.95 0 1 0 3.9,0a1.95,1.95 0 1 0 -3.9,0M526.5,522.0a1.95,1.95 0 1 0 3.9,0a1.95,1.95 0 1 0 -3.9,0M527.5,522.1a1.95,1.95 0 1 0 3.9,0a1.95,1.95 0 1 0 -3.9,0M528.5,522.1a1.95,1.95 0 1 0 3.9,0a1.95,1.95 0 1 0 -3.9,0M529.5,522.1a1.95,1.95 0 1 0 3.9,0a1.95,1.95 0 1 0 -3.9,0M530.5,522.1a1.95,1.95 0 1 0 3.9,0a1.95,1.95 0 1 0 -3.9,0M531.5,522.1a1.95,1.95 0 1 0 3.9,0a1.95,1.95 0 1 0 -3.9,0M532.5,522.1a1.95,1.95 0 1 0 3.9,0a1.95,1.95 0 1 0 -3.9,0M533.5,522.2a1.95,1.95 0 1 0 3.9,0a1.95,1.95 0 1 0 -3.9,0M534.5,522.2a1.95,1.95 0 1 0 3.9,0a1.95,1.95 0 1 0 -3.9,0M535.5,522.2a1.95,1.95 0 1 0 3.9,0a1.95,1.95 0 1 0 -3.9,0M536.5,522.2a1.95,1.95 0 1 0 3.9,0a1.95,1.95 0 1 0 -3.9,0M537.5,522.2a1.95,1.95 0 1 0 3.9,0a1.95,1.95 0 1 0 -3.9,0M538.5,522.2a1.95,1.95 0 1 0 3.9,0a1.95,1.95 0 1 0 -3.9,0M539.5,522.2a1.95,1.95 0 1 0 3.9,0a1.95,1.95 0 1 0 -3.9,0M540.5,522.2a1.95,1.95 0 1 0 3.9,0a1.95,1.95 0 1 0 -3.9,0M541.5,522.2a1.95,1.95 0 1 0 3.9,0a1.95,1.95 0 1 0 -3.9,0M542.5,522.3a1.95,1.95 0 1 0 3.9,0a1.95,1.95 0 1 0 -3.9,0M543.5,522.3a1.95,1.95 0 1 0 3.9,0a1.95,1.95 0 1 0 -3.9,0M544.5,522.3a1.95,1.95 0 1 0 3.9,0a1.95,1.95 0 1 0 -3.9,0M545.5,522.3a1.95,1.95 0 1 0 3.9,0a1.95,1.95 0 1 0 -3.9,0M546.5,522.3a1.95,1.95 0 1 0 3.9,0a1.95,1.95 0 1 0 -3.9,0M547.5,522.3a1.95,1.95 0 1 0 3.9,0a1.95,1.95 0 1 0 -3.9,0M548.5,522.3a1.95,1.95 0 1 0 3.9,0a1.95,1.95 0 1 0 -3.9,0M549.5,522.3a1.95,1.95 0 1 0 3.9,0a1.95,1.95 0 1 0 -3.9,0M550.5,522.3a1.95,1.95 0 1 0 3.9,0a1.95,1.95 0 1 0 -3.9,0M551.5,522.3a1.95,1.95 0 1 0 3.9,0a1.95,1.95 0 1 0 -3.9,0M552.5,522.3a1.95,1.95 0 1 0 3.9,0a1.95,1.95 0 1 0 -3.9,0M553.5,522.3a1.95,1.95 0 1 0 3.9,0a1.95,1.95 0 1 0 -3.9,0M554.5,522.3a1.95,1.95 0 1 0 3.9,0a1.95,1.95 0 1 0 -3.9,0M555.5,522.3a1.95,1.95 0 1 0 3.9,0a1.95,1.95 0 1 0 -3.9,0M556.5,522.3a1.95,1.95 0 1 0 3.9,0a1.95,1.95 0 1 0 -3.9,0M557.5,522.4a1.95,1.95 0 1 0 3.9,0a1.95,1.95 0 1 0 -3.9,0M558.5,522.4a1.95,1.95 0 1 0 3.9,0a1.95,1.95 0 1 0 -3.9,0M559.5,522.4a1.95,1.95 0 1 0 3.9,0a1.95,1.95 0 1 0 -3.9,0M560.5,522.4a1.95,1.95 0 1 0 3.9,0a1.95,1.95 0 1 0 -3.9,0M561.5,522.4a1.95,1.95 0 1 0 3.9,0a1.95,1.95 0 1 0 -3.9,0M562.5,522.4a1.95,1.95 0 1 0 3.9,0a1.95,1.95 0 1 0 -3.9,0M563.5,522.4a1.95,1.95 0 1 0 3.9,0a1.95,1.95 0 1 0 -3.9,0M564.5,522.4a1.95,1.95 0 1 0 3.9,0a1.95,1.95 0 1 0 -3.9,0M565.5,522.4a1.95,1.95 0 1 0 3.9,0a1.95,1.95 0 1 0 -3.9,0M566.5,522.4a1.95,1.95 0 1 0 3.9,0a1.95,1.95 0 1 0 -3.9,0M567.5,522.4a1.95,1.95 0 1 0 3.9,0a1.95,1.95 0 1 0 -3.9,0M568.5,522.4a1.95,1.95 0 1 0 3.9,0a1.95,1.95 0 1 0 -3.9,0M569.5,522.4a1.95,1.95 0 1 0 3.9,0a1.95,1.95 0 1 0 -3.9,0M570.5,522.4a1.95,1.95 0 1 0 3.9,0a1.95,1.95 0 1 0 -3.9,0M571.5,522.4a1.95,1.95 0 1 0 3.9,0a1.95,1.95 0 1 0 -3.9,0M572.5,522.4a1.95,1.95 0 1 0 3.9,0a1.95,1.95 0 1 0 -3.9,0M573.5,522.4a1.95,1.95 0 1 0 3.9,0a1.95,1.95 0 1 0 -3.9,0M574.5,522.4a1.95,1.95 0 1 0 3.9,0a1.95,1.95 0 1 0 -3.9,0M575.5,522.4a1.95,1.95 0 1 0 3.9,0a1.95,1.95 0 1 0 -3.9,0M576.5,522.4a1.95,1.95 0 1 0 3.9,0a1.95,1.95 0 1 0 -3.9,0M577.5,522.4a1.95,1.95 0 1 0 3.9,0a1.95,1.95 0 1 0 -3.9,0M578.5,522.4a1.95,1.95 0 1 0 3.9,0a1.95,1.95 0 1 0 -3.9,0M579.5,522.4a1.95,1.95 0 1 0 3.9,0a1.95,1.95 0 1 0 -3.9,0M580.5,522.4a1.95,1.95 0 1 0 3.9,0a1.95,1.95 0 1 0 -3.9,0M581.5,522.4a1.95,1.95 0 1 0 3.9,0a1.95,1.95 0 1 0 -3.9,0M582.5,522.4a1.95,1.95 0 1 0 3.9,0a1.95,1.95 0 1 0 -3.9,0M583.5,522.4a1.95,1.95 0 1 0 3.9,0a1.95,1.95 0 1 0 -3.9,0M584.5,522.4a1.95,1.95 0 1 0 3.9,0a1.95,1.95 0 1 0 -3.9,0M585.5,522.4a1.95,1.95 0 1 0 3.9,0a1.95,1.95 0 1 0 -3.9,0M586.5,522.4a1.95,1.95 0 1 0 3.9,0a1.95,1.95 0 1 0 -3.9,0M587.5,522.4a1.95,1.95 0 1 0 3.9,0a1.95,1.95 0 1 0 -3.9,0M588.5,522.4a1.95,1.95 0 1 0 3.9,0a1.95,1.95 0 1 0 -3.9,0M589.5,522.4a1.95,1.95 0 1 0 3.9,0a1.95,1.95 0 1 0 -3.9,0M590.5,522.4a1.95,1.95 0 1 0 3.9,0a1.95,1.95 0 1 0 -3.9,0M591.5,522.4a1.95,1.95 0 1 0 3.9,0a1.95,1.95 0 1 0 -3.9,0M592.5,522.4a1.95,1.95 0 1 0 3.9,0a1.95,1.95 0 1 0 -3.9,0M593.5,522.4a1.95,1.95 0 1 0 3.9,0a1.95,1.95 0 1 0 -3.9,0M594.5,522.4a1.95,1.95 0 1 0 3.9,0a1.95,1.95 0 1 0 -3.9,0M595.5,522.4a1.95,1.95 0 1 0 3.9,0a1.95,1.95 0 1 0 -3.9,0M596.5,522.4a1.95,1.95 0 1 0 3.9,0a1.95,1.95 0 1 0 -3.9,0M597.5,522.4a1.95,1.95 0 1 0 3.9,0a1.95,1.95 0 1 0 -3.9,0M598.5,522.4a1.95,1.95 0 1 0 3.9,0a1.95,1.95 0 1 0 -3.9,0M599.5,522.4a1.95,1.95 0 1 0 3.9,0a1.95,1.95 0 1 0 -3.9,0M600.5,522.4a1.95,1.95 0 1 0 3.9,0a1.95,1.95 0 1 0 -3.9,0M601.5,522.4a1.95,1.95 0 1 0 3.9,0a1.95,1.95 0 1 0 -3.9,0M602.5,522.4a1.95,1.95 0 1 0 3.9,0a1.95,1.95 0 1 0 -3.9,0M603.5,522.4a1.95,1.95 0 1 0 3.9,0a1.95,1.95 0 1 0 -3.9,0M604.5,522.4a1.95,1.95 0 1 0 3.9,0a1.95,1.95 0 1 0 -3.9,0M605.5,522.4a1.95,1.95 0 1 0 3.9,0a1.95,1.95 0 1 0 -3.9,0M606.5,522.4a1.95,1.95 0 1 0 3.9,0a1.95,1.95 0 1 0 -3.9,0M607.5,522.4a1.95,1.95 0 1 0 3.9,0a1.95,1.95 0 1 0 -3.9,0M608.5,522.4a1.95,1.95 0 1 0 3.9,0a1.95,1.95 0 1 0 -3.9,0M609.5,522.4a1.95,1.95 0 1 0 3.9,0a1.95,1.95 0 1 0 -3.9,0M610.5,522.4a1.95,1.95 0 1 0 3.9,0a1.95,1.95 0 1 0 -3.9,0M611.5,522.4a1.95,1.95 0 1 0 3.9,0a1.95,1.95 0 1 0 -3.9,0M612.5,522.4a1.95,1.95 0 1 0 3.9,0a1.95,1.95 0 1 0 -3.9,0M613.5,522.4a1.95,1.95 0 1 0 3.9,0a1.95,1.95 0 1 0 -3.9,0M614.5,522.4a1.95,1.95 0 1 0 3.9,0a1.95,1.95 0 1 0 -3.9,0M615.5,522.4a1.95,1.95 0 1 0 3.9,0a1.95,1.95 0 1 0 -3.9,0M616.5,522.4a1.95,1.95 0 1 0 3.9,0a1.95,1.95 0 1 0 -3.9,0M617.5,522.4a1.95,1.95 0 1 0 3.9,0a1.95,1.95 0 1 0 -3.9,0M618.5,522.4a1.95,1.95 0 1 0 3.9,0a1.95,1.95 0 1 0 -3.9,0M619.5,522.4a1.95,1.95 0 1 0 3.9,0a1.95,1.95 0 1 0 -3.9,0M620.5,522.4a1.95,1.95 0 1 0 3.9,0a1.95,1.95 0 1 0 -3.9,0M621.5,522.4a1.95,1.95 0 1 0 3.9,0a1.95,1.95 0 1 0 -3.9,0M622.5,522.4a1.95,1.95 0 1 0 3.9,0a1.95,1.95 0 1 0 -3.9,0M623.5,522.4a1.95,1.95 0 1 0 3.9,0a1.95,1.95 0 1 0 -3.9,0M624.5,522.4a1.95,1.95 0 1 0 3.9,0a1.95,1.95 0 1 0 -3.9,0M625.5,522.4a1.95,1.95 0 1 0 3.9,0a1.95,1.95 0 1 0 -3.9,0M626.5,522.4a1.95,1.95 0 1 0 3.9,0a1.95,1.95 0 1 0 -3.9,0M627.5,522.4a1.95,1.95 0 1 0 3.9,0a1.95,1.95 0 1 0 -3.9,0M628.5,522.4a1.95,1.95 0 1 0 3.9,0a1.95,1.95 0 1 0 -3.9,0M629.5,522.4a1.95,1.95 0 1 0 3.9,0a1.95,1.95 0 1 0 -3.9,0M630.5,522.4a1.95,1.95 0 1 0 3.9,0a1.95,1.95 0 1 0 -3.9,0M631.5,522.4a1.95,1.95 0 1 0 3.9,0a1.95,1.95 0 1 0 -3.9,0M632.5,522.4a1.95,1.95 0 1 0 3.9,0a1.95,1.95 0 1 0 -3.9,0M633.5,522.4a1.95,1.95 0 1 0 3.9,0a1.95,1.95 0 1 0 -3.9,0M634.5,522.4a1.95,1.95 0 1 0 3.9,0a1.95,1.95 0 1 0 -3.9,0M635.5,522.4a1.95,1.95 0 1 0 3.9,0a1.95,1.95 0 1 0 -3.9,0M636.5,522.4a1.95,1.95 0 1 0 3.9,0a1.95,1.95 0 1 0 -3.9,0M637.5,522.4a1.95,1.95 0 1 0 3.9,0a1.95,1.95 0 1 0 -3.9,0M638.5,522.4a1.95,1.95 0 1 0 3.9,0a1.95,1.95 0 1 0 -3.9,0M639.5,522.4a1.95,1.95 0 1 0 3.9,0a1.95,1.95 0 1 0 -3.9,0M640.5,522.4a1.95,1.95 0 1 0 3.9,0a1.95,1.95 0 1 0 -3.9,0M641.5,522.4a1.95,1.95 0 1 0 3.9,0a1.95,1.95 0 1 0 -3.9,0M642.5,522.4a1.95,1.95 0 1 0 3.9,0a1.95,1.95 0 1 0 -3.9,0M643.5,522.4a1.95,1.95 0 1 0 3.9,0a1.95,1.95 0 1 0 -3.9,0M644.5,522.3a1.95,1.95 0 1 0 3.9,0a1.95,1.95 0 1 0 -3.9,0M645.5,522.3a1.95,1.95 0 1 0 3.9,0a1.95,1.95 0 1 0 -3.9,0M646.5,522.3a1.95,1.95 0 1 0 3.9,0a1.95,1.95 0 1 0 -3.9,0M647.5,522.3a1.95,1.95 0 1 0 3.9,0a1.95,1.95 0 1 0 -3.9,0M648.5,522.3a1.95,1.95 0 1 0 3.9,0a1.95,1.95 0 1 0 -3.9,0M649.5,522.3a1.95,1.95 0 1 0 3.9,0a1.95,1.95 0 1 0 -3.9,0M650.5,522.3a1.95,1.95 0 1 0 3.9,0a1.95,1.95 0 1 0 -3.9,0M651.5,522.3a1.95,1.95 0 1 0 3.9,0a1.95,1.95 0 1 0 -3.9,0M652.5,522.3a1.95,1.95 0 1 0 3.9,0a1.95,1.95 0 1 0 -3.9,0M653.5,522.3a1.95,1.95 0 1 0 3.9,0a1.95,1.95 0 1 0 -3.9,0M654.5,522.3a1.95,1.95 0 1 0 3.9,0a1.95,1.95 0 1 0 -3.9,0M655.5,522.3a1.95,1.95 0 1 0 3.9,0a1.95,1.95 0 1 0 -3.9,0M656.5,522.3a1.95,1.95 0 1 0 3.9,0a1.95,1.95 0 1 0 -3.9,0M657.5,522.3a1.95,1.95 0 1 0 3.9,0a1.95,1.95 0 1 0 -3.9,0M658.5,522.3a1.95,1.95 0 1 0 3.9,0a1.95,1.95 0 1 0 -3.9,0M659.5,522.3a1.95,1.95 0 1 0 3.9,0a1.95,1.95 0 1 0 -3.9,0M660.5,522.3a1.95,1.95 0 1 0 3.9,0a1.95,1.95 0 1 0 -3.9,0M661.5,522.3a1.95,1.95 0 1 0 3.9,0a1.95,1.95 0 1 0 -3.9,0M662.5,522.3a1.95,1.95 0 1 0 3.9,0a1.95,1.95 0 1 0 -3.9,0M663.5,522.3a1.95,1.95 0 1 0 3.9,0a1.95,1.95 0 1 0 -3.9,0M664.5,522.3a1.95,1.95 0 1 0 3.9,0a1.95,1.95 0 1 0 -3.9,0M665.5,522.3a1.95,1.95 0 1 0 3.9,0a1.95,1.95 0 1 0 -3.9,0M666.5,522.3a1.95,1.95 0 1 0 3.9,0a1.95,1.95 0 1 0 -3.9,0M667.5,522.3a1.95,1.95 0 1 0 3.9,0a1.95,1.95 0 1 0 -3.9,0M668.5,522.3a1.95,1.95 0 1 0 3.9,0a1.95,1.95 0 1 0 -3.9,0M669.5,522.3a1.95,1.95 0 1 0 3.9,0a1.95,1.95 0 1 0 -3.9,0M670.5,522.3a1.95,1.95 0 1 0 3.9,0a1.95,1.95 0 1 0 -3.9,0M671.5,522.3a1.95,1.95 0 1 0 3.9,0a1.95,1.95 0 1 0 -3.9,0M672.5,522.3a1.95,1.95 0 1 0 3.9,0a1.95,1.95 0 1 0 -3.9,0M673.5,522.3a1.95,1.95 0 1 0 3.9,0a1.95,1.95 0 1 0 -3.9,0M674.5,522.3a1.95,1.95 0 1 0 3.9,0a1.95,1.95 0 1 0 -3.9,0M675.5,522.3a1.95,1.95 0 1 0 3.9,0a1.95,1.95 0 1 0 -3.9,0M676.5,522.3a1.95,1.95 0 1 0 3.9,0a1.95,1.95 0 1 0 -3.9,0M677.5,522.3a1.95,1.95 0 1 0 3.9,0a1.95,1.95 0 1 0 -3.9,0M678.5,522.3a1.95,1.95 0 1 0 3.9,0a1.95,1.95 0 1 0 -3.9,0" stroke="#000" stroke-width="1.0"/>
</g>
<g stroke="#333" stroke-width="1" stroke-dasharray="6.6,8.4">
<line x1="151.5" y1="125.7" x2="151.5" y2="148"/><line x1="285.3" y1="31.6" x2="285.3" y2="53.8"/><line x1="340.1" y1="169.4" x2="340.1" y2="190.2"/><line x1="357.2" y1="295.3" x2="357.2" y2="316.5"/><line x1="268.6" y1="373.6" x2="268.6" y2="395.6"/><line x1="314" y1="397.7" x2="314" y2="435.1"/><line x1="362.5" y1="438.2" x2="362.5" y2="474.9"/><line x1="421.3" y1="377.3" x2="421.3" y2="399.1"/><line x1="491.1" y1="391.2" x2="491.1" y2="412.3"/>
</g>
<g font-size="19.5" font-weight="bold" fill="#000" stroke="#000" stroke-width="0.45">
<text x="150.9" y="121.9" text-anchor="middle">211</text><text x="284.5" y="27.6" text-anchor="middle">387</text><text x="334.5" y="215.8" text-anchor="middle">477</text><text x="353.7" y="291.3" text-anchor="middle">495</text><text x="269.2" y="362.7" text-anchor="middle">380</text><text x="312.25" y="392.8" text-anchor="middle">435</text><text x="367.6" y="428.8" text-anchor="middle">502</text><text x="422" y="370.9" text-anchor="middle">573</text><text x="491.5" y="385.4" text-anchor="middle">683</text>
</g>
<g font-size="18.9" fill="#000" stroke="#000" stroke-width="0.5">
<text x="679" y="150" text-anchor="end">10% Cu- 90% NiO</text>
<text x="680.2" y="282" text-anchor="end">10% Co- 90% NiO</text>
<text x="679.2" y="392.7" text-anchor="end">10% Al- 90% NiO</text>
<text x="673.2" y="505.3" text-anchor="end" font-size="19.4">NiO</text>
</g>
<g font-size="23.5" fill="#000" stroke="#000" stroke-width="0.4">
<text x="78.10" y="573.8" text-anchor="middle">100</text><text x="149.20" y="573.8" text-anchor="middle">200</text><text x="220.30" y="573.8" text-anchor="middle">300</text><text x="291.40" y="573.8" text-anchor="middle">400</text><text x="362.50" y="573.8" text-anchor="middle">500</text><text x="433.60" y="573.8" text-anchor="middle">600</text><text x="504.70" y="573.8" text-anchor="middle">700</text><text x="575.80" y="573.8" text-anchor="middle">800</text><text x="646.90" y="573.8" text-anchor="middle">900</text>
<text x="359.5" y="616.4" text-anchor="middle" font-size="23.2">Temperature (<tspan font-size="13" dy="-10">o</tspan><tspan dy="10">C)</tspan></text>
<text transform="translate(18.6,282.7) rotate(-90)" text-anchor="middle" textLength="171" lengthAdjust="spacingAndGlyphs">TCD signal (a.u.)</text>
</g>
</svg>
</body></html>
